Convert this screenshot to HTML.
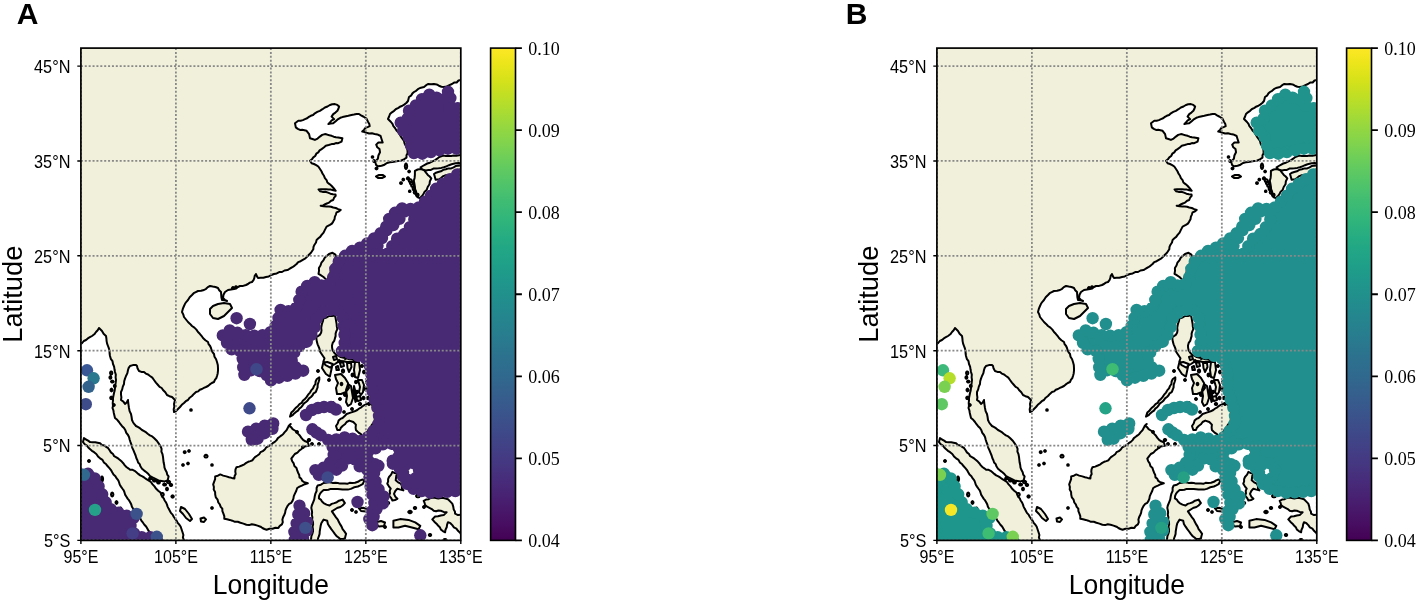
<!DOCTYPE html>
<html><head><meta charset="utf-8"><style>
html,body{margin:0;padding:0;background:#fff;}
svg{display:block;}
.tk{font-family:"Liberation Sans",sans-serif;font-size:17.8px;fill:#000;}
.al{font-family:"Liberation Sans",sans-serif;font-size:28px;fill:#000;}
.cb{font-family:"Liberation Serif",serif;font-size:18px;fill:#000;}
.pl{font-family:"Liberation Sans",sans-serif;font-size:30px;font-weight:bold;fill:#000;}
</style></head><body>
<svg width="1417" height="601" viewBox="0 0 1417 601">
<defs>
<linearGradient id="vir" x1="0" y1="0" x2="0" y2="1"><stop offset="0.000" stop-color="#fde725"/><stop offset="0.031" stop-color="#ece51b"/><stop offset="0.062" stop-color="#d8e219"/><stop offset="0.094" stop-color="#c2df23"/><stop offset="0.125" stop-color="#addc30"/><stop offset="0.156" stop-color="#98d83e"/><stop offset="0.188" stop-color="#84d44b"/><stop offset="0.219" stop-color="#70cf57"/><stop offset="0.250" stop-color="#5ec962"/><stop offset="0.281" stop-color="#4ec36b"/><stop offset="0.312" stop-color="#3fbc73"/><stop offset="0.344" stop-color="#32b67a"/><stop offset="0.375" stop-color="#28ae80"/><stop offset="0.406" stop-color="#22a785"/><stop offset="0.438" stop-color="#1fa088"/><stop offset="0.469" stop-color="#1f988b"/><stop offset="0.500" stop-color="#21918c"/><stop offset="0.531" stop-color="#23898e"/><stop offset="0.562" stop-color="#26828e"/><stop offset="0.594" stop-color="#297a8e"/><stop offset="0.625" stop-color="#2c728e"/><stop offset="0.656" stop-color="#2f6b8e"/><stop offset="0.688" stop-color="#33638d"/><stop offset="0.719" stop-color="#375b8d"/><stop offset="0.750" stop-color="#3b528b"/><stop offset="0.781" stop-color="#3e4989"/><stop offset="0.812" stop-color="#424086"/><stop offset="0.844" stop-color="#453781"/><stop offset="0.875" stop-color="#472d7b"/><stop offset="0.906" stop-color="#482374"/><stop offset="0.938" stop-color="#48186a"/><stop offset="0.969" stop-color="#470d60"/><stop offset="1.000" stop-color="#440154"/></linearGradient>
<clipPath id="mclip"><rect x="80.9" y="48.1" width="379.9" height="492.3"/></clipPath>
</defs>
<text x="16.8" y="23.9" class="pl">A</text>
<text x="845.8" y="23.9" class="pl">B</text>
<g clip-path="url(#mclip)"><rect x="80.9" y="48.1" width="379.9" height="492.3" fill="#fff"/>
<path d="M470.0 40.0 L470.2 42.2 L470.4 44.4 L469.8 46.7 L470.5 48.9 L470.0 51.1 L470.1 53.3 L470.5 55.6 L470.0 57.8 L470.5 60.0 L470.1 62.2 L470.5 64.4 L470.4 66.7 L470.1 68.9 L469.6 71.1 L470.4 73.3 L470.3 75.6 L469.9 77.8 L470.0 80.0 L467.8 79.5 L465.5 79.9 L463.2 80.1 L461.0 80.0 L458.5 80.5 L456.7 82.5 L454.1 82.6 L452.0 84.0 L449.4 85.2 L446.8 86.4 L444.0 87.0 L441.4 86.7 L438.9 85.7 L436.6 84.4 L434.0 84.0 L431.0 84.3 L428.0 84.0 L425.9 85.4 L424.0 87.0 L420.0 88.0 L417.9 89.2 L416.1 90.8 L414.0 92.0 L412.3 93.6 L411.0 95.7 L409.0 97.0 L408.0 101.0 L406.3 103.0 L404.2 104.6 L402.0 106.0 L399.9 106.8 L398.0 108.1 L396.0 109.0 L394.1 110.8 L391.9 112.3 L390.0 114.0 L389.1 116.5 L388.0 119.0 L391.0 122.0 L392.5 123.9 L393.4 126.2 L395.0 128.0 L396.5 130.5 L398.6 132.5 L400.0 135.0 L401.3 137.1 L402.6 139.0 L404.0 141.0 L404.6 143.5 L405.8 145.8 L407.0 148.0 L407.5 150.6 L407.6 153.3 L406.5 155.3 L406.5 157.6 L403.3 159.8 L400.7 160.8 L397.9 160.9 L395.2 161.5 L392.5 162.0 L389.7 162.2 L387.0 163.0 L384.5 164.7 L381.6 165.7 L378.4 166.3 L376.2 165.2 L375.2 162.0 L377.9 158.7 L378.4 155.5 L380.0 152.2 L379.5 149.0 L377.3 147.3 L376.2 144.6 L378.4 142.5 L382.7 142.5 L381.6 139.2 L380.6 136.0 L377.3 134.4 L374.6 133.9 L371.9 133.3 L369.1 133.5 L366.5 132.7 L364.4 132.0 L362.2 131.6 L364.0 129.9 L365.4 127.9 L367.6 127.1 L369.7 126.2 L369.3 123.9 L368.1 121.9 L366.5 118.7 L363.2 116.5 L361.0 115.4 L359.0 114.0 L356.5 114.1 L354.0 114.6 L351.5 115.0 L349.3 115.5 L347.1 116.1 L344.9 116.6 L342.5 117.1 L340.3 117.8 L338.2 119.1 L335.7 121.2 L333.2 123.3 L330.7 123.5 L328.3 124.1 L329.9 122.4 L331.7 120.4 L334.1 119.1 L331.6 116.6 L333.2 114.1 L335.4 112.6 L337.4 110.8 L338.4 108.8 L339.1 106.6 L337.3 104.9 L334.9 104.1 L332.3 104.2 L329.9 105.0 L327.5 106.5 L324.9 107.5 L322.5 109.2 L319.9 110.8 L317.3 111.9 L314.9 113.3 L313.1 115.0 L310.8 115.8 L308.9 116.9 L307.1 118.3 L305.0 119.1 L302.9 120.1 L300.6 120.7 L298.3 120.8 L295.0 123.3 L295.8 127.4 L297.8 128.9 L300.0 129.9 L302.3 129.8 L304.4 130.2 L306.6 130.8 L309.1 134.1 L310.0 138.3 L312.5 139.0 L314.9 139.9 L317.6 138.6 L319.9 136.6 L322.2 134.9 L324.9 134.1 L327.1 134.6 L329.4 135.3 L331.6 135.8 L333.7 136.7 L335.9 137.2 L338.2 137.4 L342.4 138.3 L341.6 141.6 L338.2 143.2 L335.9 143.1 L333.8 144.0 L331.6 144.1 L328.7 145.0 L325.8 145.7 L323.8 147.5 L321.6 149.1 L319.6 150.4 L318.3 152.4 L316.3 153.7 L315.2 156.0 L313.3 157.4 L311.9 159.3 L310.0 160.7 L311.6 163.2 L314.0 164.0 L316.2 165.1 L318.3 166.5 L320.0 169.0 L321.6 171.5 L322.6 173.8 L324.0 175.8 L324.9 178.2 L326.6 180.1 L327.4 182.5 L329.5 184.1 L331.5 185.8 L333.7 188.2 L335.7 190.8 L333.3 190.3 L330.9 189.6 L328.5 189.5 L326.0 189.3 L323.5 189.3 L321.0 189.2 L318.5 189.4 L320.0 191.2 L322.6 191.9 L325.4 191.7 L328.0 192.6 L330.4 193.7 L332.9 194.2 L335.5 194.5 L335.7 195.8 L334.1 197.7 L333.2 200.0 L331.1 200.8 L329.4 202.3 L327.4 203.3 L325.2 204.2 L323.1 205.4 L320.7 205.8 L323.6 206.3 L326.6 206.6 L328.9 206.4 L331.1 206.7 L333.2 207.5 L335.8 208.0 L338.2 209.1 L340.7 210.0 L338.8 211.5 L336.5 212.4 L335.9 214.6 L334.9 216.6 L334.5 219.3 L333.2 221.6 L331.9 223.6 L329.9 224.9 L326.6 226.6 L324.9 229.9 L323.6 232.6 L321.6 234.9 L320.2 236.9 L318.4 238.3 L316.6 239.9 L316.0 242.5 L314.5 244.7 L313.5 246.9 L313.3 249.3 L311.0 252.8 L309.2 254.5 L307.5 256.3 L305.4 258.4 L302.8 259.8 L300.6 261.2 L298.2 262.1 L296.6 264.0 L294.7 265.6 L292.4 267.2 L290.0 268.5 L287.5 270.1 L284.5 270.5 L282.0 272.0 L279.2 272.1 L276.7 273.4 L274.0 274.0 L271.3 275.0 L268.8 276.4 L266.0 277.0 L263.4 277.8 L260.7 277.8 L258.0 278.0 L256.8 276.1 L256.0 274.0 L254.7 275.8 L254.3 278.2 L253.5 280.2 L252.0 282.0 L249.8 282.6 L248.0 284.0 L246.0 285.0 L243.1 285.9 L240.0 286.0 L238.0 287.0 L236.2 288.5 L234.0 289.0 L231.0 289.5 L228.0 290.0 L225.0 292.0 L223.5 294.8 L223.0 298.0 L224.8 299.8 L227.0 301.0 L224.5 300.3 L222.0 300.0 L221.4 297.4 L221.2 294.7 L221.0 292.0 L219.2 290.2 L218.0 288.0 L215.4 287.0 L212.7 286.6 L210.0 286.0 L207.8 287.1 L206.1 288.8 L204.0 290.0 L201.1 290.8 L198.0 291.0 L195.8 292.1 L193.7 293.2 L192.0 295.0 L189.7 297.3 L188.0 300.0 L186.4 301.8 L185.0 303.8 L184.0 306.0 L182.8 308.9 L182.0 312.0 L183.3 314.4 L184.0 317.0 L186.0 319.5 L188.0 322.0 L190.1 323.9 L192.0 326.0 L194.4 327.6 L196.4 329.6 L198.0 332.0 L199.8 333.8 L201.5 335.8 L203.0 338.0 L205.4 340.2 L208.0 342.0 L208.6 344.2 L210.1 346.0 L211.0 348.0 L211.6 350.2 L212.5 352.2 L214.0 354.0 L214.5 356.8 L216.1 359.3 L217.0 362.0 L217.8 364.9 L218.0 368.0 L218.0 370.7 L217.7 373.4 L217.0 376.0 L216.3 378.1 L214.9 379.9 L214.0 382.0 L211.8 383.0 L209.8 384.4 L208.0 386.0 L206.0 387.0 L203.9 387.9 L202.0 389.0 L199.8 389.7 L198.2 391.4 L196.0 392.0 L193.9 393.9 L192.0 396.0 L189.7 397.7 L188.0 400.0 L185.8 401.2 L184.0 403.0 L181.8 404.8 L180.0 407.0 L178.0 409.0 L176.0 411.0 L174.0 412.0 L173.7 409.3 L174.3 406.7 L174.0 404.0 L175.0 400.0 L172.0 397.0 L169.4 396.2 L167.0 395.0 L165.3 392.3 L163.0 390.0 L161.7 388.0 L159.6 386.8 L158.0 385.0 L155.9 382.6 L154.0 380.0 L152.3 377.6 L150.0 376.0 L148.1 374.5 L145.8 373.6 L144.0 372.0 L141.4 371.9 L139.0 371.0 L137.6 368.6 L137.0 366.0 L136.0 365.0 L132.9 365.1 L130.0 366.0 L128.7 367.9 L128.0 370.0 L127.4 373.1 L126.0 376.0 L125.0 378.6 L124.2 381.2 L124.0 384.0 L122.8 386.6 L122.2 389.4 L121.0 392.0 L121.0 394.7 L121.4 397.3 L121.0 400.0 L123.4 401.6 L125.0 404.0 L126.9 402.3 L128.0 400.0 L128.2 402.7 L128.6 405.3 L129.0 408.0 L129.6 411.1 L131.0 414.0 L131.6 417.0 L132.0 420.0 L133.0 422.2 L134.4 424.2 L136.0 426.0 L138.2 427.1 L140.2 428.4 L142.0 430.0 L144.1 431.1 L146.2 432.4 L148.0 434.0 L149.9 435.4 L152.2 436.4 L154.0 438.0 L157.0 441.0 L158.8 443.6 L160.5 446.2 L161.6 448.8 L161.4 451.6 L162.5 454.2 L163.0 456.9 L163.3 459.6 L163.6 462.3 L164.2 465.0 L164.5 467.7 L165.6 470.3 L166.7 472.3 L167.2 474.6 L168.6 476.4 L167.6 480.4 L164.6 481.4 L161.6 480.9 L158.5 480.4 L156.5 479.4 L154.5 478.4 L152.5 477.4 L150.1 476.1 L148.4 474.1 L146.4 472.3 L144.2 470.6 L142.0 468.7 L140.4 466.3 L139.7 464.1 L138.1 462.5 L137.4 460.3 L136.4 458.3 L135.6 455.5 L134.5 452.9 L133.4 450.2 L132.2 447.6 L131.5 444.8 L130.5 442.1 L129.7 439.7 L129.1 437.3 L128.0 435.0 L126.3 432.9 L125.4 430.3 L124.0 428.0 L122.1 426.2 L120.5 424.2 L119.0 422.0 L117.2 419.8 L115.0 418.0 L114.4 415.5 L113.8 413.0 L113.4 410.4 L112.5 408.0 L113.1 405.5 L112.7 403.0 L113.0 400.5 L113.0 398.0 L113.5 395.5 L114.0 393.0 L114.7 390.5 L115.0 388.0 L115.3 385.3 L115.7 382.7 L116.0 380.0 L115.6 377.3 L115.8 374.6 L115.0 372.0 L114.5 369.3 L114.1 366.6 L113.0 364.0 L112.5 361.2 L110.8 358.8 L110.0 356.0 L109.6 353.5 L109.5 350.9 L108.9 348.4 L108.0 346.0 L107.1 343.6 L106.6 341.1 L106.4 338.5 L106.0 336.0 L103.6 333.8 L102.0 331.0 L99.0 328.0 L97.7 330.2 L96.0 332.0 L94.3 334.3 L92.0 336.0 L89.9 337.2 L87.8 338.4 L86.0 340.0 L83.8 341.0 L82.2 343.0 L80.0 344.0 L77.5 343.8 L75.0 343.8 L72.5 344.4 L70.0 344.0 L70.4 341.8 L70.5 339.6 L69.7 337.4 L70.5 335.2 L69.9 333.0 L70.0 330.8 L70.5 328.6 L70.4 326.4 L69.6 324.2 L69.9 322.0 L70.0 319.8 L69.8 317.6 L69.7 315.4 L69.8 313.2 L70.2 311.0 L69.5 308.8 L70.1 306.6 L69.9 304.4 L69.5 302.1 L69.8 299.9 L70.1 297.7 L70.0 295.5 L69.5 293.3 L70.5 291.1 L70.3 288.9 L70.5 286.7 L69.6 284.5 L69.7 282.3 L69.5 280.1 L70.3 277.9 L69.8 275.7 L69.6 273.5 L69.9 271.3 L70.5 269.1 L70.3 266.9 L69.7 264.7 L69.6 262.5 L70.5 260.3 L70.1 258.1 L70.2 255.9 L69.5 253.7 L69.5 251.5 L70.2 249.3 L69.9 247.1 L69.5 244.9 L70.5 242.7 L70.2 240.5 L70.3 238.3 L69.5 236.1 L70.4 233.9 L69.5 231.7 L70.4 229.4 L70.0 227.2 L69.8 225.0 L70.1 222.8 L70.5 220.6 L69.7 218.4 L69.6 216.2 L70.0 214.0 L69.7 211.8 L69.6 209.6 L69.6 207.4 L69.5 205.2 L69.7 203.0 L69.8 200.8 L69.8 198.6 L70.3 196.4 L69.8 194.2 L70.0 192.0 L69.7 189.8 L69.8 187.6 L69.5 185.4 L69.7 183.2 L69.5 181.0 L70.3 178.8 L70.1 176.6 L69.7 174.4 L70.0 172.2 L70.5 170.0 L69.6 167.8 L70.3 165.6 L69.9 163.4 L70.0 161.2 L70.4 159.0 L69.9 156.8 L70.0 154.6 L70.2 152.3 L70.5 150.1 L69.8 147.9 L70.4 145.7 L70.2 143.5 L70.2 141.3 L69.9 139.1 L69.8 136.9 L69.5 134.7 L69.6 132.5 L69.5 130.3 L70.3 128.1 L69.7 125.9 L69.6 123.7 L69.5 121.5 L70.4 119.3 L70.4 117.1 L70.2 114.9 L69.8 112.7 L69.7 110.5 L69.8 108.3 L70.0 106.1 L69.6 103.9 L69.9 101.7 L69.7 99.5 L70.5 97.3 L70.5 95.1 L70.0 92.9 L69.7 90.7 L70.5 88.5 L69.8 86.3 L69.8 84.1 L69.5 81.9 L69.9 79.7 L70.0 77.5 L70.0 75.2 L69.7 73.0 L70.0 70.8 L69.5 68.6 L69.7 66.4 L69.5 64.2 L69.9 62.0 L69.5 59.8 L69.5 57.6 L69.8 55.4 L69.7 53.2 L70.1 51.0 L70.0 48.8 L70.3 46.6 L70.2 44.4 L70.2 42.2 L70.0 40.0 L72.2 40.4 L74.4 39.9 L76.6 39.8 L78.8 40.5 L81.0 39.6 L83.3 40.2 L85.5 40.2 L87.7 39.5 L89.9 40.4 L92.1 40.4 L94.3 40.1 L96.5 40.3 L98.7 40.3 L100.9 39.6 L103.2 40.0 L105.4 40.0 L107.6 40.4 L109.8 40.3 L112.0 40.4 L114.2 40.1 L116.4 40.4 L118.6 40.2 L120.8 40.2 L123.0 39.7 L125.2 39.5 L127.5 39.6 L129.7 39.9 L131.9 39.6 L134.1 40.4 L136.3 40.1 L138.5 40.1 L140.7 40.1 L142.9 40.2 L145.1 40.0 L147.3 39.5 L149.6 40.3 L151.8 40.3 L154.0 40.0 L156.2 40.0 L158.4 40.2 L160.6 39.5 L162.8 40.3 L165.0 39.7 L167.2 39.5 L169.4 39.7 L171.7 40.2 L173.9 39.7 L176.1 40.3 L178.3 40.5 L180.5 40.0 L182.7 39.9 L184.9 40.0 L187.1 40.2 L189.3 40.3 L191.6 40.1 L193.8 40.2 L196.0 39.5 L198.2 39.6 L200.4 39.7 L202.6 40.3 L204.8 39.8 L207.0 40.1 L209.2 39.5 L211.4 39.5 L213.7 39.8 L215.9 40.2 L218.1 40.2 L220.3 40.2 L222.5 39.8 L224.7 40.0 L226.9 40.0 L229.1 40.0 L231.3 39.6 L233.5 40.4 L235.8 39.7 L238.0 40.5 L240.2 40.5 L242.4 39.5 L244.6 40.0 L246.8 40.4 L249.0 40.5 L251.2 39.9 L253.4 39.8 L255.6 39.7 L257.9 40.5 L260.1 39.7 L262.3 40.1 L264.5 39.6 L266.7 40.0 L268.9 40.5 L271.1 39.6 L273.3 40.4 L275.5 40.0 L277.7 40.4 L279.9 40.2 L282.1 39.7 L284.4 40.4 L286.6 40.0 L288.8 39.5 L291.0 39.5 L293.2 40.0 L295.4 40.0 L297.6 39.8 L299.8 39.6 L302.0 39.8 L304.2 39.8 L306.5 40.4 L308.7 39.5 L310.9 40.3 L313.1 40.4 L315.3 39.6 L317.5 40.5 L319.7 40.2 L321.9 40.4 L324.1 39.8 L326.4 39.9 L328.6 39.9 L330.8 40.5 L333.0 40.1 L335.2 39.9 L337.4 39.9 L339.6 39.8 L341.8 39.5 L344.0 39.6 L346.2 40.4 L348.4 39.8 L350.7 40.5 L352.9 39.7 L355.1 39.7 L357.3 40.0 L359.5 39.7 L361.7 39.9 L363.9 40.5 L366.1 40.4 L368.3 40.3 L370.6 40.1 L372.8 40.5 L375.0 40.5 L377.2 40.0 L379.4 40.2 L381.6 39.5 L383.8 40.3 L386.0 40.0 L388.2 40.3 L390.4 40.2 L392.6 39.8 L394.9 39.5 L397.1 40.5 L399.3 39.6 L401.5 40.0 L403.7 39.8 L405.9 39.8 L408.1 40.3 L410.3 40.5 L412.5 39.7 L414.8 40.2 L417.0 39.8 L419.2 40.1 L421.4 39.9 L423.6 39.6 L425.8 39.6 L428.0 39.7 L430.2 40.5 L432.4 40.0 L434.6 39.7 L436.9 40.5 L439.1 40.5 L441.3 39.9 L443.5 39.6 L445.7 39.7 L447.9 39.5 L450.1 39.8 L452.3 39.5 L454.5 39.7 L456.7 39.7 L458.9 40.1 L461.2 40.4 L463.4 40.3 L465.6 39.9 L467.8 39.9 Z M84.0 438.1 L86.0 439.5 L88.1 440.6 L90.1 442.1 L92.6 442.2 L95.2 442.2 L97.6 442.7 L100.1 443.2 L101.8 444.9 L104.4 445.4 L106.2 446.9 L108.2 448.2 L109.6 450.3 L110.9 452.4 L113.0 454.0 L114.2 456.2 L116.4 457.4 L118.4 458.7 L120.3 460.3 L122.0 461.8 L123.5 463.5 L124.8 465.4 L126.4 467.0 L128.3 468.3 L130.1 469.7 L132.6 469.8 L134.6 470.8 L136.4 472.3 L138.3 473.9 L140.2 475.4 L142.4 476.4 L144.4 477.7 L146.4 479.1 L148.5 480.4 L150.9 482.0 L152.6 484.3 L154.5 486.4 L156.2 488.8 L158.2 490.7 L160.5 492.5 L161.2 494.7 L162.1 496.7 L163.8 498.4 L164.6 500.5 L166.0 502.3 L166.9 504.4 L167.6 506.6 L168.6 508.6 L169.8 510.7 L170.9 512.9 L172.6 514.6 L173.7 516.8 L175.1 518.8 L176.6 520.7 L177.7 522.9 L179.4 524.7 L180.7 526.7 L181.7 529.7 L182.7 532.7 L183.4 535.0 L182.9 537.4 L183.7 539.6 L183.7 542.0 L183.2 545.0 L183.7 548.0 L181.4 547.8 L179.2 548.2 L177.0 548.4 L174.7 548.3 L172.5 547.9 L170.2 547.8 L168.0 548.4 L165.7 548.5 L163.5 548.0 L161.2 547.9 L159.0 548.1 L156.8 548.3 L154.5 548.0 L154.6 545.6 L154.0 543.2 L154.5 540.8 L153.3 538.9 L152.5 536.8 L151.1 534.8 L150.3 532.5 L148.5 530.7 L147.3 528.6 L146.1 526.5 L144.4 524.7 L143.0 522.7 L141.5 520.9 L140.4 518.7 L138.7 516.8 L137.8 514.4 L136.1 512.5 L134.4 510.6 L133.2 508.7 L131.9 506.8 L131.3 504.5 L130.3 502.5 L129.1 500.4 L127.6 498.6 L126.3 496.5 L125.1 494.6 L124.5 492.4 L123.7 490.3 L122.3 488.5 L121.0 486.6 L119.8 484.7 L119.1 482.5 L118.3 480.4 L116.7 478.4 L115.4 476.2 L113.5 474.5 L112.2 472.3 L111.0 470.1 L109.4 468.1 L107.7 466.3 L106.2 464.3 L103.9 462.5 L102.5 459.9 L100.1 458.3 L98.0 456.4 L96.3 454.0 L94.1 452.2 L91.9 450.8 L89.9 449.1 L88.1 447.2 L86.6 445.3 L84.5 444.0 L83.0 442.1 Z M290.7 424.0 L288.8 425.7 L287.7 428.1 L286.5 430.3 L284.7 432.1 L283.3 433.9 L281.5 435.4 L279.7 436.8 L277.9 438.1 L276.6 440.1 L274.8 441.9 L272.7 443.2 L270.8 444.9 L268.6 446.2 L266.3 447.3 L264.8 449.5 L262.8 451.1 L260.5 452.2 L259.2 454.2 L257.4 455.5 L255.4 456.8 L253.8 458.4 L252.5 460.3 L250.4 461.1 L248.2 461.8 L246.2 462.9 L244.4 464.3 L241.8 465.5 L239.2 466.6 L236.4 467.3 L235.5 469.4 L235.3 471.7 L235.7 474.1 L234.6 476.1 L234.4 478.4 L231.7 477.9 L229.0 477.2 L226.3 476.4 L223.2 475.6 L220.3 474.4 L217.9 475.7 L215.2 476.4 L215.1 479.2 L214.1 481.8 L213.2 484.4 L213.9 486.9 L213.7 489.6 L215.1 491.9 L215.2 494.5 L215.8 497.4 L217.6 499.7 L218.3 502.5 L219.8 504.4 L220.7 506.8 L222.3 508.6 L222.4 511.2 L223.4 513.6 L224.3 516.1 L224.3 518.7 L227.0 519.3 L229.7 519.9 L232.3 520.7 L234.9 521.8 L237.8 521.7 L240.4 522.7 L243.4 523.6 L246.4 524.7 L249.1 525.1 L251.8 524.2 L254.5 524.7 L257.5 525.6 L260.5 526.7 L262.4 528.0 L264.4 529.0 L266.6 529.7 L269.5 528.7 L272.6 528.7 L275.4 527.8 L278.4 527.9 L279.8 525.8 L281.9 524.4 L282.8 522.1 L282.4 519.6 L283.1 517.3 L284.2 515.0 L285.1 512.8 L285.5 510.3 L286.5 507.9 L287.8 505.6 L289.2 503.9 L291.3 502.8 L292.5 500.9 L293.4 498.6 L293.8 496.1 L294.8 493.9 L296.2 491.0 L297.2 488.0 L299.5 486.6 L301.9 485.6 L304.8 484.2 L307.8 483.3 L304.2 482.1 L302.2 480.9 L301.3 478.8 L299.5 477.4 L299.2 474.9 L298.1 472.7 L297.2 470.4 L296.5 467.9 L294.4 466.0 L293.7 463.4 L292.2 461.2 L291.3 458.7 L293.0 456.3 L294.8 454.0 L297.5 452.6 L299.5 450.4 L301.6 449.0 L303.1 446.9 L306.0 446.2 L308.9 445.8 L307.8 442.2 L305.3 441.3 L303.1 439.9 L301.2 437.6 L299.5 435.2 L297.9 433.6 L296.7 431.7 L294.8 430.5 L292.6 429.2 L291.1 427.1 L289.0 425.8 Z M318.5 273.8 L319.0 270.9 L318.9 268.0 L320.5 265.5 L321.4 262.7 L323.4 260.3 L324.9 257.5 L327.0 255.8 L329.0 254.0 L332.5 252.8 L335.4 254.6 L336.0 256.9 L335.4 259.1 L334.6 261.2 L333.7 263.3 L332.9 265.7 L331.5 267.9 L330.8 270.3 L330.4 272.8 L329.5 275.1 L328.4 277.3 L327.6 279.9 L327.5 282.8 L326.7 285.4 L325.5 284.8 L325.3 282.1 L326.1 279.6 L323.8 277.3 L320.3 274.9 Z M210.0 309.0 L213.0 306.0 L218.0 304.0 L224.0 303.0 L230.0 304.0 L232.0 308.0 L228.0 312.0 L224.0 316.0 L218.0 319.0 L213.0 318.0 L210.0 314.0 Z M376.0 176.5 L379.0 175.0 L383.0 175.0 L385.0 176.5 L382.0 178.0 L378.0 178.0 Z M414.9 170.9 L417.7 169.5 L420.8 169.1 L424.3 170.3 L426.0 172.6 L427.8 174.9 L429.7 176.5 L431.3 178.4 L429.9 181.2 L429.5 184.3 L427.7 187.0 L426.6 190.1 L424.4 192.1 L423.1 194.7 L421.5 196.6 L419.6 198.2 L417.3 197.1 L416.2 194.3 L416.1 191.3 L415.1 189.1 L414.9 186.6 L414.4 183.7 L413.8 180.8 L414.6 177.9 L414.9 174.9 Z M420.6 167.3 L422.7 166.0 L424.8 164.8 L427.2 163.5 L429.9 162.7 L432.5 161.3 L435.1 160.1 L437.2 158.7 L439.2 157.0 L443.3 155.5 L445.9 155.9 L448.5 156.0 L451.1 156.0 L453.6 155.5 L456.4 155.7 L459.1 155.3 L461.9 155.0 L463.7 153.4 L466.1 152.8 L467.9 151.1 L470.0 150.0 L469.9 152.3 L470.1 154.6 L469.7 156.8 L470.3 159.1 L470.3 161.4 L470.0 163.7 L467.3 164.0 L464.6 164.1 L461.9 163.7 L458.8 163.0 L455.7 163.2 L451.6 164.2 L449.0 165.2 L446.4 166.3 L443.9 167.3 L441.3 167.9 L438.7 168.3 L436.1 168.4 L433.4 168.6 L430.9 169.9 L428.4 170.1 L425.8 170.4 L422.2 169.4 Z M434.0 174.0 L436.0 172.7 L438.2 172.0 L440.9 171.3 L443.3 169.9 L445.9 169.3 L448.5 168.4 L451.2 168.4 L453.6 167.3 L455.6 166.1 L457.8 165.8 L461.9 165.3 L464.6 165.2 L467.3 165.4 L470.0 165.0 L469.6 167.2 L469.5 169.5 L470.5 171.8 L470.0 174.0 L467.3 174.2 L464.6 174.4 L461.9 174.0 L459.7 174.5 L457.4 173.8 L455.2 174.5 L452.9 174.3 L450.7 175.1 L448.5 175.1 L445.8 175.2 L443.3 176.1 L441.3 177.7 L439.2 179.2 L435.6 179.7 L434.6 176.1 Z M323.3 318.6 L323.0 321.0 L322.1 323.3 L321.6 325.6 L321.2 327.9 L321.5 330.3 L321.1 332.8 L319.8 334.9 L316.3 337.3 L316.5 339.6 L316.9 341.9 L317.6 344.3 L318.6 346.6 L319.5 348.8 L319.8 351.2 L322.1 354.7 L324.5 358.2 L323.3 361.7 L325.6 365.2 L328.0 366.3 L330.3 367.6 L332.4 365.5 L335.0 364.0 L337.8 362.2 L340.8 361.0 L343.8 361.2 L346.6 362.0 L349.5 362.1 L352.4 362.0 L354.8 362.0 L357.1 361.7 L354.6 360.8 L352.4 359.4 L349.4 359.3 L346.6 358.2 L343.7 357.8 L340.8 357.1 L338.9 355.8 L336.7 355.1 L334.9 353.6 L332.6 350.1 L332.1 347.8 L332.0 345.4 L332.7 342.9 L334.2 340.9 L334.9 338.4 L335.6 336.1 L335.6 333.6 L336.3 331.3 L337.3 329.1 L336.8 326.4 L336.6 323.7 L336.1 321.0 L335.6 318.0 L334.9 315.1 L332.0 316.0 L329.0 316.0 L326.3 317.6 Z M323.3 362.5 L327.3 362.0 L332.6 364.0 L331.3 370.0 L329.9 376.6 L325.9 374.0 L322.0 368.0 Z M291.3 412.6 L293.1 411.1 L294.6 409.2 L296.2 407.4 L298.0 405.9 L299.5 404.1 L301.6 402.9 L302.8 400.8 L304.6 399.3 L306.5 397.1 L308.1 394.7 L310.0 392.6 L311.2 390.4 L313.0 388.4 L314.0 386.0 L315.4 384.0 L315.6 381.5 L316.6 379.3 L319.3 377.3 L319.3 379.7 L318.6 382.0 L317.7 384.6 L317.6 387.4 L316.6 390.0 L315.7 392.1 L313.6 393.3 L312.6 395.3 L311.0 397.0 L309.1 398.4 L307.7 400.4 L306.0 402.0 L304.0 403.4 L302.7 405.3 L301.2 407.2 L299.3 408.6 L298.0 410.6 L296.0 411.9 L294.2 413.4 L292.7 415.2 L290.0 416.6 Z M335.0 375.0 L341.0 374.0 L345.0 378.0 L348.0 383.0 L349.0 388.0 L346.0 392.0 L341.0 394.0 L337.0 394.0 L336.0 388.0 L338.0 383.0 L336.0 379.0 Z M348.0 384.0 L351.0 386.0 L352.0 392.0 L353.0 398.0 L351.0 404.0 L348.0 406.0 L346.0 402.0 L347.0 396.0 L346.0 390.0 Z M354.0 386.0 L355.0 390.0 L356.0 395.0 L357.0 400.0 L355.5 402.0 L354.5 397.0 L353.5 392.0 Z M356.0 397.0 L360.0 396.0 L361.0 400.0 L358.0 401.0 L356.5 399.5 Z M358.0 380.0 L362.0 380.0 L364.0 385.0 L363.0 392.0 L361.0 395.0 L359.0 392.0 L360.0 387.0 Z M355.0 362.0 L359.0 362.0 L360.0 370.0 L358.0 378.0 L355.0 377.0 L354.0 370.0 Z M347.0 363.0 L351.0 363.0 L351.5 367.0 L349.0 372.0 L347.5 368.0 Z M340.0 363.0 L343.0 362.0 L344.0 366.0 L341.0 367.0 Z M336.0 367.0 L338.0 366.0 L339.0 370.0 L336.5 370.0 Z M344.0 356.0 L347.0 355.0 L348.0 358.0 L345.0 359.0 Z M333.0 357.0 L336.0 356.0 L337.0 359.0 L334.0 360.0 Z M337.3 430.0 L336.0 426.0 L337.7 423.5 L338.6 420.6 L340.4 418.9 L342.6 418.0 L344.7 416.1 L346.6 414.0 L350.6 412.6 L354.6 411.3 L357.3 410.0 L359.2 408.5 L361.3 407.3 L363.9 405.3 L365.9 404.3 L367.9 403.3 L371.9 404.6 L373.6 407.1 L374.6 410.0 L375.3 412.1 L375.4 414.4 L375.9 416.6 L374.8 419.2 L374.6 422.0 L371.9 424.6 L371.0 426.8 L369.3 428.6 L368.0 430.8 L366.4 432.9 L365.3 435.3 L362.6 436.6 L361.0 434.2 L358.6 432.6 L355.9 430.0 L355.6 427.3 L355.9 424.6 L353.3 422.0 L349.3 420.6 L346.6 422.0 L344.9 424.3 L342.6 426.0 L340.9 427.7 L340.0 430.0 Z M317.7 485.4 L320.9 484.7 L323.6 483.0 L326.0 482.8 L328.3 482.1 L330.7 482.4 L333.0 483.1 L335.4 482.7 L337.8 483.0 L340.1 483.6 L342.5 483.5 L344.9 483.6 L347.3 483.8 L349.6 482.8 L352.0 483.0 L355.0 482.7 L357.9 481.8 L360.1 480.4 L362.6 479.5 L364.4 480.6 L362.6 484.2 L360.3 485.4 L357.9 486.5 L355.4 486.9 L353.1 487.8 L350.8 488.9 L347.9 489.6 L344.9 489.5 L342.5 489.6 L340.2 489.2 L337.8 488.9 L335.4 488.9 L333.1 489.0 L330.7 488.9 L328.4 489.7 L326.0 490.0 L323.6 490.1 L321.7 491.7 L320.1 493.6 L319.1 495.9 L318.9 498.4 L320.8 499.6 L322.0 501.6 L323.6 503.1 L326.5 504.6 L329.6 505.5 L331.7 503.9 L334.3 503.1 L336.8 502.2 L339.0 500.7 L342.6 499.6 L344.9 503.1 L342.6 505.5 L340.4 507.0 L337.8 507.7 L335.5 509.0 L331.9 511.4 L334.3 514.9 L336.0 517.3 L337.8 519.6 L338.9 522.1 L340.2 524.4 L341.6 526.6 L342.6 529.1 L344.4 531.4 L346.1 533.8 L345.4 536.2 L344.9 538.6 L342.6 538.9 L340.2 539.1 L338.5 537.5 L336.6 536.2 L334.8 533.9 L333.1 531.5 L331.3 529.1 L329.6 526.7 L327.9 524.0 L327.2 520.8 L323.6 519.6 L321.3 523.2 L320.6 526.1 L320.1 529.1 L319.7 531.5 L319.6 533.9 L318.9 536.2 L318.0 538.5 L317.7 541.0 L317.4 543.3 L317.8 545.7 L317.7 548.0 L315.3 548.4 L313.0 548.0 L310.6 548.0 L310.2 545.7 L310.2 543.3 L310.6 541.0 L311.1 538.6 L311.4 536.1 L312.3 533.9 L313.0 531.5 L313.0 529.1 L312.5 526.8 L313.1 524.4 L313.0 522.0 L312.1 519.7 L312.4 517.2 L311.8 514.9 L312.1 512.5 L311.8 510.2 L311.3 507.9 L311.8 505.5 L313.0 502.6 L314.2 499.6 L314.7 496.6 L315.4 493.6 L316.6 491.0 L316.6 488.0 Z M359.0 508.5 L363.0 507.8 L368.5 509.5 L366.0 511.4 L361.0 511.0 Z M392.4 471.9 L394.8 473.1 L397.4 473.6 L396.3 475.7 L396.0 478.0 L395.7 480.3 L398.1 482.3 L400.8 483.7 L401.9 485.8 L402.0 488.4 L403.3 490.4 L400.4 489.6 L397.4 488.7 L395.3 491.0 L394.0 493.8 L395.3 496.6 L397.4 498.8 L395.0 500.0 L392.4 500.5 L391.0 497.8 L389.0 495.5 L390.0 493.4 L389.7 490.9 L390.7 488.7 L388.9 486.3 L387.3 483.7 L388.1 481.5 L388.1 479.1 L389.0 477.0 L391.1 474.7 Z M423.7 500.8 L426.0 499.6 L428.6 499.2 L430.8 497.9 L433.3 497.5 L435.8 497.9 L438.3 498.4 L440.8 497.9 L443.3 498.1 L445.6 498.6 L448.0 499.3 L450.1 501.4 L452.3 503.6 L453.2 506.4 L453.7 509.4 L454.9 511.4 L455.1 513.7 L458.0 515.1 L460.7 514.8 L463.3 514.7 L466.0 515.1 L465.5 517.4 L465.8 519.6 L465.6 521.9 L466.4 524.1 L465.7 526.4 L466.4 528.7 L466.0 531.0 L465.9 533.2 L466.1 535.5 L465.6 537.7 L466.0 540.0 L464.1 537.5 L462.0 535.1 L460.1 532.9 L458.0 530.8 L456.4 528.6 L453.9 527.3 L452.3 525.1 L450.4 523.2 L448.0 522.2 L447.1 524.7 L446.7 527.3 L445.5 529.7 L445.1 532.3 L442.8 531.1 L440.8 529.4 L439.8 527.2 L438.0 525.5 L436.5 523.7 L434.3 521.7 L432.3 519.4 L435.1 516.5 L438.0 516.3 L440.8 515.5 L443.7 515.1 L446.6 512.2 L443.6 511.9 L440.8 510.8 L438.4 510.5 L436.1 511.3 L433.7 510.8 L431.8 509.1 L429.4 507.9 L427.1 506.7 L425.1 505.1 L424.6 502.9 Z M393.4 520.8 L400.1 519.1 L408.5 519.9 L415.2 522.4 L420.3 525.8 L418.6 529.2 L411.9 527.5 L405.1 525.8 L398.4 527.5 L393.4 527.5 Z M377.0 522.0 L381.0 521.0 L385.0 522.5 L384.0 526.0 L379.0 526.5 L376.5 524.5 Z M181.0 507.0 L185.0 509.0 L189.0 514.0 L192.0 519.0 L190.0 521.0 L186.0 518.0 L183.0 514.0 L180.0 511.0 Z M200.5 518.5 L204.0 517.5 L206.0 519.5 L204.0 522.0 L201.0 521.5 Z M112.4 373.0 L112.0 374.1 L111.2 374.6 L110.4 374.1 L110.0 373.0 L110.4 371.9 L111.2 371.4 L112.0 371.9 Z M111.4 377.5 L111.1 378.4 L110.4 378.8 L109.7 378.4 L109.4 377.5 L109.7 376.6 L110.4 376.2 L111.1 376.6 Z M113.6 381.6 L113.2 382.3 L112.3 382.6 L111.4 382.3 L111.0 381.6 L111.4 380.9 L112.3 380.6 L113.2 380.9 Z M115.8 386.0 L115.5 386.8 L114.8 387.2 L114.1 386.8 L113.8 386.0 L114.1 385.2 L114.8 384.8 L115.5 385.2 Z M112.5 390.0 L112.2 391.0 L111.5 391.4 L110.8 391.0 L110.5 390.0 L110.8 389.0 L111.5 388.6 L112.2 389.0 Z M112.2 397.9 L111.9 398.8 L111.2 399.2 L110.5 398.8 L110.2 397.9 L110.5 397.0 L111.2 396.6 L111.9 397.0 Z M114.8 405.0 L114.5 405.7 L113.8 406.0 L113.1 405.7 L112.8 405.0 L113.1 404.3 L113.8 404.0 L114.5 404.3 Z M151.9 478.4 L151.5 479.1 L150.5 479.4 L149.5 479.1 L149.1 478.4 L149.5 477.7 L150.5 477.4 L151.5 477.7 Z M156.1 480.4 L155.6 481.2 L154.5 481.6 L153.4 481.2 L152.9 480.4 L153.4 479.6 L154.5 479.2 L155.6 479.6 Z M159.9 482.4 L159.5 483.2 L158.5 483.6 L157.5 483.2 L157.1 482.4 L157.5 481.6 L158.5 481.2 L159.5 481.6 Z M166.1 484.6 L165.7 485.3 L164.6 485.6 L163.5 485.3 L163.1 484.6 L163.5 483.9 L164.6 483.6 L165.7 483.9 Z M170.2 482.0 L169.7 482.8 L168.6 483.2 L167.5 482.8 L167.0 482.0 L167.5 481.2 L168.6 480.8 L169.7 481.2 Z M172.2 485.0 L171.8 485.7 L171.0 486.0 L170.2 485.7 L169.8 485.0 L170.2 484.3 L171.0 484.0 L171.8 484.3 Z M163.8 494.5 L163.4 495.6 L162.5 496.1 L161.6 495.6 L161.2 494.5 L161.6 493.4 L162.5 492.9 L163.4 493.4 Z M173.8 496.5 L173.4 497.3 L172.6 497.7 L171.8 497.3 L171.4 496.5 L171.8 495.7 L172.6 495.3 L173.4 495.7 Z M168.0 489.0 L167.7 489.9 L167.0 490.3 L166.3 489.9 L166.0 489.0 L166.3 488.1 L167.0 487.7 L167.7 488.1 Z M185.7 452.2 L185.4 452.9 L184.7 453.2 L184.0 452.9 L183.7 452.2 L184.0 451.5 L184.7 451.2 L185.4 451.5 Z M189.9 451.0 L189.6 451.6 L189.0 451.9 L188.4 451.6 L188.1 451.0 L188.4 450.4 L189.0 450.1 L189.6 450.4 Z M207.6 456.2 L207.1 457.2 L206.0 457.6 L204.9 457.2 L204.4 456.2 L204.9 455.2 L206.0 454.8 L207.1 455.2 Z M183.9 465.0 L183.6 465.6 L183.0 465.9 L182.4 465.6 L182.1 465.0 L182.4 464.4 L183.0 464.1 L183.6 464.4 Z M188.9 463.5 L188.6 464.1 L188.0 464.4 L187.4 464.1 L187.1 463.5 L187.4 462.9 L188.0 462.6 L188.6 462.9 Z M212.8 465.0 L212.6 465.6 L212.0 465.8 L211.4 465.6 L211.2 465.0 L211.4 464.4 L212.0 464.2 L212.6 464.4 Z M191.8 410.0 L191.6 410.6 L191.0 410.8 L190.4 410.6 L190.2 410.0 L190.4 409.4 L191.0 409.2 L191.6 409.4 Z M212.9 508.0 L212.6 508.6 L212.0 508.9 L211.4 508.6 L211.1 508.0 L211.4 507.4 L212.0 507.1 L212.6 507.4 Z M103.1 479.0 L102.8 480.8 L102.0 481.6 L101.2 480.8 L100.9 479.0 L101.2 477.2 L102.0 476.4 L102.8 477.2 Z M113.4 494.5 L113.0 495.9 L112.2 496.5 L111.4 495.9 L111.0 494.5 L111.4 493.1 L112.2 492.5 L113.0 493.1 Z M117.5 502.5 L117.2 503.5 L116.5 503.9 L115.8 503.5 L115.5 502.5 L115.8 501.5 L116.5 501.1 L117.2 501.5 Z M121.5 508.6 L121.2 509.4 L120.5 509.8 L119.8 509.4 L119.5 508.6 L119.8 507.8 L120.5 507.4 L121.2 507.8 Z M90.0 461.0 L89.7 461.7 L89.0 462.0 L88.3 461.7 L88.0 461.0 L88.3 460.3 L89.0 460.0 L89.7 460.3 Z M375.0 161.0 L374.7 161.7 L374.0 162.0 L373.3 161.7 L373.0 161.0 L373.3 160.3 L374.0 160.0 L374.7 160.3 Z M377.5 168.5 L377.2 169.1 L376.5 169.4 L375.8 169.1 L375.5 168.5 L375.8 167.9 L376.5 167.6 L377.2 167.9 Z M373.3 157.0 L373.1 157.6 L372.5 157.8 L371.9 157.6 L371.7 157.0 L371.9 156.4 L372.5 156.2 L373.1 156.4 Z M407.2 166.2 L406.8 168.2 L406.0 169.0 L405.2 168.2 L404.8 166.2 L405.2 164.2 L406.0 163.4 L406.8 164.2 Z M409.2 178.4 L408.8 179.2 L408.0 179.6 L407.2 179.2 L406.8 178.4 L407.2 177.6 L408.0 177.2 L408.8 177.6 Z M411.8 180.8 L411.4 181.9 L410.3 182.3 L409.2 181.9 L408.8 180.8 L409.2 179.7 L410.3 179.3 L411.4 179.7 Z M412.9 183.1 L412.5 184.2 L411.4 184.6 L410.3 184.2 L409.9 183.1 L410.3 182.0 L411.4 181.6 L412.5 182.0 Z M414.2 185.4 L413.7 186.5 L412.6 187.0 L411.5 186.5 L411.0 185.4 L411.5 184.3 L412.6 183.8 L413.7 184.3 Z M415.0 188.9 L414.6 190.0 L413.8 190.5 L413.0 190.0 L412.6 188.9 L413.0 187.8 L413.8 187.3 L414.6 187.8 Z M416.1 192.4 L415.7 193.4 L414.9 193.8 L414.1 193.4 L413.7 192.4 L414.1 191.4 L414.9 191.0 L415.7 191.4 Z M418.7 195.0 L418.3 196.0 L417.3 196.4 L416.3 196.0 L415.9 195.0 L416.3 194.0 L417.3 193.6 L418.3 194.0 Z M402.0 183.1 L401.7 183.7 L401.0 184.0 L400.3 183.7 L400.0 183.1 L400.3 182.5 L401.0 182.2 L401.7 182.5 Z M404.2 179.6 L403.9 180.2 L403.3 180.5 L402.7 180.2 L402.4 179.6 L402.7 179.0 L403.3 178.7 L403.9 179.0 Z M410.0 171.5 L409.7 172.1 L409.1 172.4 L408.5 172.1 L408.2 171.5 L408.5 170.9 L409.1 170.6 L409.7 170.9 Z M410.5 191.3 L410.3 191.9 L409.7 192.1 L409.1 191.9 L408.9 191.3 L409.1 190.7 L409.7 190.5 L410.3 190.7 Z M234.0 288.0 L233.7 288.7 L233.0 289.0 L232.3 288.7 L232.0 288.0 L232.3 287.3 L233.0 287.0 L233.7 287.3 Z M236.8 287.0 L236.6 287.6 L236.0 287.8 L235.4 287.6 L235.2 287.0 L235.4 286.4 L236.0 286.2 L236.6 286.4 Z M344.2 371.0 L343.8 372.1 L343.0 372.6 L342.2 372.1 L341.8 371.0 L342.2 369.9 L343.0 369.4 L343.8 369.9 Z M353.5 375.0 L353.2 376.1 L352.5 376.5 L351.8 376.1 L351.5 375.0 L351.8 373.9 L352.5 373.5 L353.2 373.9 Z M357.0 382.0 L356.7 382.8 L356.0 383.2 L355.3 382.8 L355.0 382.0 L355.3 381.2 L356.0 380.8 L356.7 381.2 Z M346.0 395.0 L345.7 395.7 L345.0 396.0 L344.3 395.7 L344.0 395.0 L344.3 394.3 L345.0 394.0 L345.7 394.3 Z M361.2 404.0 L360.8 404.7 L360.0 405.0 L359.2 404.7 L358.8 404.0 L359.2 403.3 L360.0 403.0 L360.8 403.3 Z M364.5 398.0 L364.2 398.9 L363.5 399.3 L362.8 398.9 L362.5 398.0 L362.8 397.1 L363.5 396.7 L364.2 397.1 Z M367.1 389.0 L366.8 390.1 L366.0 390.6 L365.2 390.1 L364.9 389.0 L365.2 387.9 L366.0 387.4 L366.8 387.9 Z M368.0 382.0 L367.7 382.8 L367.0 383.2 L366.3 382.8 L366.0 382.0 L366.3 381.2 L367.0 380.8 L367.7 381.2 Z M365.0 372.0 L364.7 373.0 L364.0 373.4 L363.3 373.0 L363.0 372.0 L363.3 371.0 L364.0 370.6 L364.7 371.0 Z M363.0 366.0 L362.7 366.7 L362.0 367.0 L361.3 366.7 L361.0 366.0 L361.3 365.3 L362.0 365.0 L362.7 365.3 Z M340.0 361.0 L339.7 361.7 L339.0 362.0 L338.3 361.7 L338.0 361.0 L338.3 360.3 L339.0 360.0 L339.7 360.3 Z M351.0 358.0 L350.7 358.7 L350.0 359.0 L349.3 358.7 L349.0 358.0 L349.3 357.3 L350.0 357.0 L350.7 357.3 Z M342.4 384.0 L342.1 384.8 L341.5 385.2 L340.9 384.8 L340.6 384.0 L340.9 383.2 L341.5 382.8 L342.1 383.2 Z M357.9 392.0 L357.6 392.9 L357.0 393.3 L356.4 392.9 L356.1 392.0 L356.4 391.1 L357.0 390.7 L357.6 391.1 Z M371.0 393.0 L370.7 394.0 L370.0 394.4 L369.3 394.0 L369.0 393.0 L369.3 392.0 L370.0 391.6 L370.7 392.0 Z M370.0 404.0 L369.7 404.7 L369.0 405.0 L368.3 404.7 L368.0 404.0 L368.3 403.3 L369.0 403.0 L369.7 403.3 Z M319.0 371.0 L318.7 371.7 L318.0 372.0 L317.3 371.7 L317.0 371.0 L317.3 370.3 L318.0 370.0 L318.7 370.3 Z M330.0 380.0 L329.7 380.7 L329.0 381.0 L328.3 380.7 L328.0 380.0 L328.3 379.3 L329.0 379.0 L329.7 379.3 Z M344.9 412.0 L344.6 412.6 L344.0 412.9 L343.4 412.6 L343.1 412.0 L343.4 411.4 L344.0 411.1 L344.6 411.4 Z M341.0 399.0 L340.7 399.7 L340.0 400.0 L339.3 399.7 L339.0 399.0 L339.3 398.3 L340.0 398.0 L340.7 398.3 Z M333.9 403.0 L333.6 403.6 L333.0 403.9 L332.4 403.6 L332.1 403.0 L332.4 402.4 L333.0 402.1 L333.6 402.4 Z M353.0 409.0 L352.7 409.7 L352.0 410.0 L351.3 409.7 L351.0 409.0 L351.3 408.3 L352.0 408.0 L352.7 408.3 Z M369.0 398.0 L368.7 398.8 L368.0 399.2 L367.3 398.8 L367.0 398.0 L367.3 397.2 L368.0 396.8 L368.7 397.2 Z M310.2 440.0 L309.8 440.7 L309.0 441.0 L308.2 440.7 L307.8 440.0 L308.2 439.3 L309.0 439.0 L309.8 439.3 Z M313.0 444.0 L312.7 444.7 L312.0 445.0 L311.3 444.7 L311.0 444.0 L311.3 443.3 L312.0 443.0 L312.7 443.3 Z M304.0 447.0 L303.7 447.7 L303.0 448.0 L302.3 447.7 L302.0 447.0 L302.3 446.3 L303.0 446.0 L303.7 446.3 Z M298.0 432.0 L297.7 432.7 L297.0 433.0 L296.3 432.7 L296.0 432.0 L296.3 431.3 L297.0 431.0 L297.7 431.3 Z M320.0 444.0 L319.7 444.7 L319.0 445.0 L318.3 444.7 L318.0 444.0 L318.3 443.3 L319.0 443.0 L319.7 443.3 Z M372.5 509.0 L372.1 509.7 L371.0 510.0 L369.9 509.7 L369.5 509.0 L369.9 508.3 L371.0 508.0 L372.1 508.3 Z M386.0 527.0 L385.7 527.7 L385.0 528.0 L384.3 527.7 L384.0 527.0 L384.3 526.3 L385.0 526.0 L385.7 526.3 Z M389.2 503.0 L388.8 503.8 L388.0 504.2 L387.2 503.8 L386.8 503.0 L387.2 502.2 L388.0 501.8 L388.8 502.2 Z M411.8 512.0 L411.3 512.8 L410.0 513.2 L408.7 512.8 L408.2 512.0 L408.7 511.2 L410.0 510.8 L411.3 511.2 Z M416.2 508.0 L415.8 508.7 L415.0 509.0 L414.2 508.7 L413.8 508.0 L414.2 507.3 L415.0 507.0 L415.8 507.3 Z M420.0 496.0 L419.4 497.0 L418.0 497.4 L416.6 497.0 L416.0 496.0 L416.6 495.0 L418.0 494.6 L419.4 495.0 Z M425.0 507.0 L424.7 507.7 L424.0 508.0 L423.3 507.7 L423.0 507.0 L423.3 506.3 L424.0 506.0 L424.7 506.3 Z M431.2 535.0 L430.8 535.7 L430.0 536.0 L429.2 535.7 L428.8 535.0 L429.2 534.3 L430.0 534.0 L430.8 534.3 Z M446.5 540.0 L446.1 540.7 L445.0 541.0 L443.9 540.7 L443.5 540.0 L443.9 539.3 L445.0 539.0 L446.1 539.3 Z M353.0 510.0 L352.7 510.7 L352.0 511.0 L351.3 510.7 L351.0 510.0 L351.3 509.3 L352.0 509.0 L352.7 509.3 Z M356.9 512.0 L356.6 512.6 L356.0 512.9 L355.4 512.6 L355.1 512.0 L355.4 511.4 L356.0 511.1 L356.6 511.4 Z" fill="#f1f0db" stroke="#000" stroke-width="2" stroke-linejoin="round" fill-rule="evenodd"/>
<path d="M400.7 122.6 L400.8 123.1 L400.8 123.3 L401.7 129.2 L403.7 131.2 L406.9 134.4 L407.3 134.8 L407.7 135.3 L408.0 135.8 L410.2 140.2 L410.3 140.6 L410.5 141.1 L410.6 141.5 L410.7 142.0 L411.5 151.2 L411.9 151.6 L414.7 153.5 L420.2 154.1 L428.2 152.7 L435.4 150.6 L435.9 150.5 L436.4 150.4 L443.5 149.8 L449.1 148.4 L449.7 148.2 L450.3 148.2 L450.8 148.2 L462.8 149.2 L462.8 108.7 L452.9 107.7 L452.4 107.6 L451.9 107.5 L451.4 107.3 L450.9 107.1 L450.5 106.8 L450.1 106.5 L449.7 106.2 L449.4 105.8 L449.1 105.4 L448.8 105.0 L448.6 104.5 L448.4 104.0 L448.3 103.6 L448.2 103.1 L448.2 102.5 L448.2 102.0 L448.3 101.5 L448.4 101.1 L448.6 100.6 L448.8 100.1 L449.0 99.7 L449.3 99.3 L449.7 98.9 L451.4 97.1 L451.7 94.8 L450.1 92.5 L448.1 91.8 L447.5 92.2 L446.4 96.3 L446.3 96.7 L446.1 97.2 L445.9 97.6 L445.6 98.1 L445.3 98.4 L444.9 98.8 L444.6 99.1 L444.2 99.4 L443.7 99.7 L443.3 99.9 L442.8 100.0 L442.3 100.1 L441.8 100.2 L441.3 100.2 L440.8 100.2 L440.3 100.1 L439.8 100.0 L439.4 99.8 L438.9 99.6 L438.5 99.3 L438.1 99.0 L437.7 98.7 L435.1 96.1 L431.6 93.9 L427.3 95.2 L422.3 98.9 L415.1 106.2 L414.8 106.4 L414.5 106.7 L409.0 110.7 L407.2 113.0 L407.7 116.7 L407.7 117.2 L407.7 117.8 L407.6 118.3 L407.5 118.8 L407.4 119.3 L407.1 119.7 L406.9 120.2 L406.6 120.6 L406.2 121.0 L405.9 121.4 L405.4 121.7 L405.0 122.0 L404.5 122.2 L404.0 122.4 L403.5 122.5 L403.0 122.6 L402.5 122.6 L400.7 122.6 Z" fill="#482a74" fill-rule="evenodd"/>
<path d="M400.7 122.6m-6.2 0a6.2 6.2 0 1 0 12.4 0a6.2 6.2 0 1 0 -12.4 0M403.1 130.6m-6.2 0a6.2 6.2 0 1 0 12.4 0a6.2 6.2 0 1 0 -12.4 0M408.7 137.2m-6.2 0a6.2 6.2 0 1 0 12.4 0a6.2 6.2 0 1 0 -12.4 0M411.0 145.5m-6.2 0a6.2 6.2 0 1 0 12.4 0a6.2 6.2 0 1 0 -12.4 0M413.9 153.0m-6.2 0a6.2 6.2 0 1 0 12.4 0a6.2 6.2 0 1 0 -12.4 0M422.3 153.7m-6.2 0a6.2 6.2 0 1 0 12.4 0a6.2 6.2 0 1 0 -12.4 0M430.9 152.0m-6.2 0a6.2 6.2 0 1 0 12.4 0a6.2 6.2 0 1 0 -12.4 0M439.3 150.2m-6.2 0a6.2 6.2 0 1 0 12.4 0a6.2 6.2 0 1 0 -12.4 0M447.9 148.7m-6.2 0a6.2 6.2 0 1 0 12.4 0a6.2 6.2 0 1 0 -12.4 0M456.5 148.7m-6.2 0a6.2 6.2 0 1 0 12.4 0a6.2 6.2 0 1 0 -12.4 0M462.8 146.9m-6.2 0a6.2 6.2 0 1 0 12.4 0a6.2 6.2 0 1 0 -12.4 0M462.8 138.2m-6.2 0a6.2 6.2 0 1 0 12.4 0a6.2 6.2 0 1 0 -12.4 0M462.8 129.5m-6.2 0a6.2 6.2 0 1 0 12.4 0a6.2 6.2 0 1 0 -12.4 0M462.8 120.8m-6.2 0a6.2 6.2 0 1 0 12.4 0a6.2 6.2 0 1 0 -12.4 0M462.8 112.1m-6.2 0a6.2 6.2 0 1 0 12.4 0a6.2 6.2 0 1 0 -12.4 0M457.5 108.2m-6.2 0a6.2 6.2 0 1 0 12.4 0a6.2 6.2 0 1 0 -12.4 0M449.4 105.8m-6.2 0a6.2 6.2 0 1 0 12.4 0a6.2 6.2 0 1 0 -12.4 0M450.4 98.1m-6.2 0a6.2 6.2 0 1 0 12.4 0a6.2 6.2 0 1 0 -12.4 0M448.0 91.8m-6.2 0a6.2 6.2 0 1 0 12.4 0a6.2 6.2 0 1 0 -12.4 0M444.3 99.3m-6.2 0a6.2 6.2 0 1 0 12.4 0a6.2 6.2 0 1 0 -12.4 0M436.6 97.6m-6.2 0a6.2 6.2 0 1 0 12.4 0a6.2 6.2 0 1 0 -12.4 0M429.3 94.6m-6.2 0a6.2 6.2 0 1 0 12.4 0a6.2 6.2 0 1 0 -12.4 0M422.0 99.2m-6.2 0a6.2 6.2 0 1 0 12.4 0a6.2 6.2 0 1 0 -12.4 0M415.9 105.4m-6.2 0a6.2 6.2 0 1 0 12.4 0a6.2 6.2 0 1 0 -12.4 0M409.0 110.7m-6.2 0a6.2 6.2 0 1 0 12.4 0a6.2 6.2 0 1 0 -12.4 0M407.5 118.7m-6.2 0a6.2 6.2 0 1 0 12.4 0a6.2 6.2 0 1 0 -12.4 0" fill="#482a74"/>
<path d="M303.2 370.7 L300.4 370.0 L299.9 369.9 L299.3 369.6 L298.8 369.3 L293.8 366.0 L293.4 365.7 L293.0 365.4 L292.7 365.0 L292.4 364.6 L292.1 364.1 L291.9 363.7 L291.7 363.2 L291.6 362.7 L291.5 362.2 L291.5 361.6 L291.5 361.1 L291.6 360.6 L291.7 360.1 L293.3 355.1 L293.4 355.0 L295.1 350.0 L295.3 349.6 L295.5 349.1 L295.8 348.7 L296.1 348.3 L296.4 347.9 L296.8 347.6 L297.2 347.3 L297.6 347.1 L303.9 343.9 L309.1 340.0 L311.2 335.0 L311.4 334.5 L311.7 334.1 L313.3 331.7 L314.9 326.7 L315.9 321.1 L316.0 320.6 L316.1 320.1 L316.3 319.7 L318.3 315.7 L318.6 315.2 L318.9 314.8 L319.2 314.4 L319.6 314.1 L320.0 313.8 L320.4 313.5 L320.9 313.3 L321.4 313.1 L327.2 311.1 L332.1 309.2 L332.6 309.0 L333.1 308.9 L333.6 308.8 L334.1 308.8 L334.6 308.8 L335.1 308.9 L335.6 309.1 L336.1 309.3 L336.6 309.5 L337.0 309.8 L337.4 310.1 L337.8 310.5 L338.1 310.9 L341.6 315.5 L342.0 315.9 L342.2 316.4 L342.4 316.9 L342.6 317.5 L342.7 318.0 L344.0 329.7 L345.2 340.2 L345.2 340.7 L345.2 341.2 L345.1 341.7 L345.0 342.2 L344.9 342.7 L343.0 347.6 L342.0 351.2 L343.1 352.1 L347.9 352.9 L348.0 352.9 L353.0 353.9 L353.5 354.0 L353.9 354.2 L358.5 356.0 L363.0 356.9 L363.5 357.0 L364.0 357.2 L364.5 357.4 L364.9 357.7 L365.4 358.0 L365.7 358.4 L366.1 358.8 L366.4 359.2 L366.7 359.7 L370.7 367.7 L370.9 368.2 L371.0 368.7 L371.1 369.2 L371.2 369.8 L371.6 379.7 L372.9 394.9 L376.7 405.0 L376.8 405.3 L376.9 405.7 L379.7 418.9 L379.8 419.4 L379.8 419.9 L379.8 420.4 L379.7 420.9 L379.6 421.4 L379.4 421.9 L379.2 422.4 L376.5 427.7 L376.3 428.1 L376.0 428.5 L375.6 428.9 L370.4 434.2 L366.5 438.7 L366.2 439.1 L365.8 439.4 L365.4 439.7 L364.9 439.9 L364.5 440.2 L364.0 440.3 L363.5 440.4 L359.5 441.1 L359.0 441.2 L358.5 441.2 L358.1 441.2 L357.6 441.1 L357.1 441.0 L356.7 440.8 L356.2 440.6 L351.2 438.1 L347.7 436.7 L343.8 437.7 L335.9 439.6 L335.2 439.8 L334.6 439.8 L328.0 439.8 L328.0 439.8 L330.8 443.5 L331.0 443.9 L331.3 444.3 L334.0 449.7 L334.2 450.1 L334.3 450.6 L334.4 451.1 L334.5 451.6 L334.5 452.1 L334.5 452.5 L334.4 453.0 L334.3 453.5 L334.1 454.0 L331.4 460.6 L331.2 461.0 L330.9 461.5 L330.6 461.9 L330.3 462.3 L326.3 466.3 L325.9 466.6 L325.6 466.9 L325.2 467.1 L324.7 467.3 L324.3 467.5 L323.8 467.7 L318.6 468.9 L315.6 469.7 L314.8 471.3 L315.5 474.8 L316.2 475.5 L318.7 474.9 L319.2 474.8 L319.7 474.7 L320.2 474.7 L320.7 474.8 L321.2 474.8 L321.7 475.0 L325.5 476.3 L327.5 476.8 L326.9 474.5 L326.9 474.0 L326.8 473.5 L326.8 473.0 L326.9 472.5 L327.0 472.0 L327.1 471.5 L327.3 471.0 L327.6 470.6 L327.9 470.2 L328.2 469.8 L328.6 469.4 L329.0 469.1 L329.4 468.8 L329.8 468.6 L330.3 468.4 L330.8 468.2 L331.3 468.1 L331.8 468.1 L332.4 468.1 L332.9 468.2 L333.4 468.3 L333.9 468.4 L334.3 468.6 L336.4 469.7 L339.0 470.3 L339.9 469.7 L341.9 465.6 L342.2 465.2 L342.4 464.8 L346.4 459.5 L346.8 459.1 L347.2 458.7 L347.6 458.4 L348.0 458.1 L348.5 457.9 L348.9 457.7 L349.4 457.5 L350.0 457.4 L350.5 457.4 L351.0 457.4 L351.5 457.5 L352.0 457.6 L352.5 457.8 L353.0 458.0 L353.4 458.2 L353.9 458.5 L354.2 458.9 L354.6 459.3 L354.9 459.7 L357.6 463.7 L357.7 463.8 L359.3 466.2 L361.5 467.0 L362.1 467.2 L365.8 468.9 L366.2 469.1 L366.7 469.4 L367.1 469.7 L367.4 470.1 L367.8 470.5 L368.1 470.9 L368.3 471.4 L368.5 471.9 L368.7 472.4 L368.7 472.9 L371.5 492.4 L374.2 500.5 L374.4 501.0 L374.5 501.6 L374.5 502.1 L374.5 502.6 L374.4 503.1 L374.3 503.6 L371.4 513.6 L371.2 514.1 L369.0 519.9 L369.8 523.9 L371.5 525.6 L372.2 525.6 L372.8 522.8 L374.2 513.0 L374.2 512.5 L374.4 512.0 L374.5 511.6 L374.8 511.2 L375.0 510.8 L375.3 510.4 L375.6 510.0 L379.9 505.7 L380.5 505.2 L384.7 502.0 L385.3 499.9 L383.5 496.4 L379.4 491.0 L379.2 490.6 L379.0 490.2 L378.8 489.8 L376.0 482.7 L375.8 482.3 L375.7 481.9 L374.2 474.7 L374.1 474.1 L374.1 473.6 L374.1 473.1 L374.2 472.6 L374.3 472.1 L374.5 471.6 L374.7 471.1 L375.0 470.7 L377.9 466.4 L378.2 466.0 L378.6 465.6 L378.9 465.2 L379.4 464.9 L379.8 464.7 L380.3 464.5 L380.7 464.3 L376.0 464.3 L375.8 464.3 L375.7 464.3 L375.2 464.2 L375.2 464.2 L374.7 464.1 L374.6 464.1 L374.1 464.0 L374.1 464.0 L373.6 463.8 L373.6 463.8 L373.1 463.5 L373.1 463.5 L372.9 463.4 L368.9 460.8 L368.7 460.6 L368.6 460.6 L368.2 460.3 L368.2 460.3 L367.8 459.9 L367.8 459.9 L367.5 459.5 L367.4 459.4 L367.2 459.0 L367.1 459.0 L366.9 458.5 L366.9 458.5 L366.7 458.0 L366.6 457.9 L366.5 457.4 L366.5 457.4 L366.4 456.9 L366.4 456.8 L366.3 456.3 L366.3 456.3 L366.3 455.8 L366.3 455.7 L366.4 455.2 L366.4 455.2 L366.5 454.7 L366.5 454.6 L366.6 454.1 L366.6 454.1 L366.8 453.6 L366.9 453.5 L367.1 453.1 L367.1 453.1 L367.4 452.6 L367.4 452.6 L367.8 452.2 L367.8 452.2 L368.2 451.8 L368.2 451.8 L368.6 451.4 L368.6 451.4 L369.1 451.1 L369.1 451.1 L369.6 450.8 L369.6 450.8 L369.8 450.7 L376.0 448.2 L380.9 445.2 L381.1 445.0 L381.1 445.0 L381.5 444.8 L381.6 444.8 L382.0 444.6 L382.1 444.6 L382.5 444.5 L382.6 444.5 L383.0 444.4 L383.1 444.4 L383.3 444.3 L390.0 443.6 L390.3 443.6 L390.3 443.6 L390.8 443.6 L390.9 443.6 L391.4 443.7 L391.4 443.7 L392.0 443.8 L392.0 443.8 L392.5 443.9 L392.5 443.9 L393.0 444.1 L393.1 444.2 L393.5 444.4 L393.6 444.4 L393.8 444.6 L397.8 447.3 L398.0 447.4 L398.0 447.4 L398.4 447.8 L398.5 447.8 L398.8 448.2 L398.8 448.2 L399.2 448.6 L399.2 448.6 L399.5 449.0 L399.5 449.1 L399.7 449.5 L399.7 449.5 L399.9 450.0 L400.0 450.1 L400.1 450.5 L400.1 450.6 L400.2 451.1 L400.2 451.1 L400.3 451.6 L400.3 451.7 L400.3 452.2 L400.3 452.2 L400.3 452.7 L400.3 452.7 L400.2 453.2 L400.2 453.3 L400.0 453.8 L400.0 453.8 L399.8 454.3 L399.8 454.3 L399.7 454.5 L398.4 457.1 L398.3 457.4 L398.2 457.4 L398.0 457.9 L397.9 457.9 L397.6 458.3 L397.6 458.4 L397.2 458.8 L397.2 458.8 L396.8 459.1 L396.7 459.2 L396.3 459.5 L396.2 459.5 L395.8 459.7 L395.7 459.8 L395.2 460.0 L395.2 460.0 L394.9 460.1 L388.9 461.9 L389.0 461.9 L389.5 462.0 L390.0 462.2 L390.4 462.4 L397.5 466.1 L398.0 466.4 L398.4 466.7 L398.8 467.0 L399.1 467.4 L399.5 467.9 L399.7 468.3 L399.9 468.8 L402.7 475.8 L406.5 483.4 L410.8 487.8 L416.6 490.1 L423.2 491.4 L429.9 492.7 L435.8 492.6 L446.4 491.8 L447.1 491.8 L447.7 491.9 L451.4 492.5 L456.1 490.7 L456.6 490.5 L457.2 490.4 L462.8 489.5 L462.8 171.6 L460.4 172.2 L452.0 178.1 L451.7 178.3 L442.8 183.6 L436.3 188.5 L431.3 195.2 L430.8 195.8 L419.8 206.8 L419.4 207.1 L419.0 207.4 L418.6 207.7 L418.2 207.9 L417.7 208.0 L417.2 208.2 L416.7 208.3 L409.4 209.2 L408.8 209.2 L408.2 209.2 L402.1 208.4 L397.2 210.3 L392.5 215.7 L392.3 216.0 L387.8 220.5 L386.3 226.3 L386.2 226.8 L386.0 227.2 L385.8 227.7 L385.6 228.1 L385.3 228.4 L385.0 228.8 L379.5 234.3 L378.9 234.8 L371.6 240.3 L371.6 240.3 L364.2 245.8 L363.8 246.0 L363.4 246.2 L363.0 246.4 L354.1 249.9 L347.8 253.2 L341.0 259.9 L340.6 260.3 L340.1 260.6 L337.3 262.4 L336.4 264.6 L335.1 269.6 L334.1 274.1 L334.0 274.3 L332.5 280.3 L332.4 280.8 L332.2 281.2 L331.9 281.7 L331.6 282.1 L331.3 282.5 L330.9 282.9 L330.5 283.2 L330.1 283.5 L326.6 285.5 L326.1 285.7 L325.7 285.9 L325.2 286.1 L324.7 286.2 L324.2 286.2 L323.7 286.2 L323.2 286.1 L322.7 286.0 L322.3 285.9 L321.8 285.7 L321.4 285.5 L320.9 285.2 L320.5 284.9 L320.2 284.5 L317.4 281.5 L316.1 281.3 L311.1 284.4 L310.7 284.6 L310.2 284.8 L303.8 287.4 L301.6 291.8 L300.0 298.0 L299.8 298.6 L296.5 306.9 L296.3 307.4 L296.1 307.8 L295.8 308.2 L295.5 308.6 L295.1 308.9 L294.7 309.2 L294.3 309.5 L293.9 309.7 L293.4 309.9 L293.0 310.0 L286.3 311.7 L285.8 311.8 L285.3 311.9 L284.8 311.9 L284.3 311.9 L283.8 311.8 L283.4 311.6 L282.9 311.5 L282.5 311.2 L282.1 311.0 L280.5 309.9 L279.7 310.7 L278.3 319.1 L278.2 319.6 L278.0 320.1 L274.7 328.5 L274.5 328.9 L274.3 329.4 L274.0 329.8 L273.7 330.1 L273.4 330.5 L273.0 330.8 L272.6 331.0 L272.2 331.3 L265.5 334.6 L265.0 334.8 L264.4 335.0 L263.8 335.1 L257.2 335.9 L256.7 335.9 L256.2 335.9 L244.5 335.1 L244.1 335.0 L243.7 334.9 L243.2 334.8 L238.2 333.1 L237.8 332.9 L231.2 330.0 L229.1 330.7 L224.8 334.1 L224.4 334.4 L222.8 335.4 L223.0 336.0 L226.0 340.4 L226.3 340.8 L226.5 341.2 L226.7 341.7 L227.9 345.7 L230.9 349.2 L237.2 349.8 L237.7 349.9 L238.2 350.0 L238.7 350.2 L239.1 350.4 L239.6 350.7 L240.0 351.0 L240.4 351.3 L240.7 351.7 L241.0 352.1 L241.3 352.6 L241.5 353.0 L241.7 353.5 L241.8 354.0 L243.4 362.3 L243.5 362.8 L243.5 363.2 L243.5 363.7 L242.8 372.6 L243.6 374.8 L245.0 374.8 L250.2 370.9 L250.6 370.6 L251.0 370.3 L251.4 370.1 L251.9 370.0 L252.4 369.9 L252.9 369.8 L253.4 369.8 L253.8 369.8 L254.3 369.9 L262.7 371.6 L263.2 371.7 L263.7 371.9 L264.2 372.1 L264.6 372.4 L265.0 372.7 L265.4 373.1 L265.8 373.4 L266.1 373.9 L266.3 374.3 L266.5 374.8 L268.9 380.8 L269.6 381.1 L274.3 378.7 L274.8 378.4 L275.4 378.3 L275.9 378.2 L285.4 376.6 L291.5 374.3 L291.9 374.2 L292.4 374.1 L301.0 372.6 L303.2 370.7 Z M405.7 464.9 L406.0 464.5 L406.0 464.4 L406.4 464.0 L406.4 464.0 L406.8 463.7 L406.9 463.6 L407.3 463.3 L407.3 463.3 L407.8 463.0 L407.8 463.0 L408.3 462.8 L408.3 462.7 L408.8 462.6 L408.9 462.5 L409.4 462.4 L409.4 462.4 L409.9 462.3 L410.0 462.3 L410.5 462.3 L410.6 462.3 L411.1 462.3 L411.1 462.3 L411.6 462.4 L411.7 462.4 L412.2 462.6 L412.3 462.6 L412.7 462.8 L412.8 462.8 L413.3 463.0 L413.3 463.0 L413.7 463.3 L413.8 463.3 L414.2 463.7 L414.2 463.7 L414.6 464.1 L414.7 464.1 L414.8 464.3 L417.8 467.8 L418.0 468.0 L418.0 468.0 L418.3 468.4 L418.3 468.5 L418.6 468.9 L418.6 468.9 L418.8 469.4 L418.8 469.4 L419.0 469.9 L419.0 469.9 L419.1 470.4 L419.1 470.5 L419.2 471.0 L419.2 471.0 L419.2 471.5 L419.2 471.5 L419.2 472.0 L419.2 472.1 L419.1 472.6 L419.1 472.6 L419.0 473.1 L419.0 473.1 L418.8 473.6 L418.8 473.7 L418.6 474.1 L418.6 474.1 L418.3 474.6 L418.3 474.6 L418.1 474.8 L415.6 478.3 L415.5 478.5 L415.5 478.6 L415.1 479.0 L415.1 479.0 L414.7 479.3 L414.7 479.4 L414.2 479.7 L414.2 479.7 L413.8 480.0 L413.7 480.0 L413.2 480.2 L413.2 480.3 L412.7 480.4 L412.7 480.5 L412.2 480.6 L412.1 480.6 L411.6 480.7 L411.5 480.7 L411.0 480.7 L411.0 480.7 L410.5 480.7 L410.4 480.7 L409.9 480.6 L409.8 480.6 L409.3 480.5 L409.3 480.4 L408.8 480.3 L408.8 480.2 L408.3 480.0 L408.2 480.0 L407.8 479.7 L407.8 479.7 L407.3 479.4 L407.3 479.3 L406.9 479.0 L406.9 479.0 L406.5 478.6 L406.5 478.5 L406.4 478.3 L403.9 474.8 L403.7 474.6 L403.7 474.6 L403.4 474.1 L403.4 474.1 L403.2 473.7 L403.2 473.6 L403.0 473.1 L403.0 473.1 L402.9 472.6 L402.9 472.6 L402.8 472.1 L402.8 472.0 L402.8 471.5 L402.8 471.5 L402.8 471.0 L402.8 471.0 L402.9 470.5 L402.9 470.4 L403.0 469.9 L403.0 469.9 L403.2 469.4 L403.2 469.4 L403.4 468.9 L403.4 468.9 L403.6 468.7 L405.6 465.2 L405.7 464.9 L405.7 464.9 Z M412.6 211.7 L413.0 212.0 L413.0 212.0 L413.4 212.4 L413.5 212.4 L413.8 212.8 L413.9 212.8 L414.2 213.2 L414.2 213.3 L414.5 213.7 L414.5 213.7 L414.7 214.2 L414.7 214.3 L414.9 214.7 L414.9 214.8 L415.1 215.3 L415.1 215.3 L415.2 215.8 L415.2 215.9 L415.2 216.4 L415.2 216.4 L415.2 217.0 L415.2 217.0 L415.1 217.5 L415.1 217.6 L415.0 218.1 L415.0 218.1 L414.8 218.6 L414.8 218.6 L414.6 219.1 L414.5 219.1 L414.4 219.4 L407.4 231.4 L407.3 231.6 L407.3 231.6 L407.0 232.0 L406.9 232.1 L406.6 232.4 L406.6 232.5 L406.2 232.8 L406.2 232.8 L405.8 233.2 L405.8 233.2 L405.5 233.3 L397.1 238.6 L388.3 252.5 L388.2 252.8 L388.1 252.8 L387.8 253.2 L387.8 253.3 L387.4 253.6 L387.4 253.7 L387.0 254.0 L387.0 254.0 L386.5 254.3 L386.5 254.3 L386.0 254.6 L386.0 254.6 L385.5 254.8 L385.5 254.8 L385.0 255.0 L384.9 255.0 L384.4 255.1 L384.4 255.1 L383.9 255.2 L383.8 255.2 L383.3 255.2 L383.3 255.2 L382.7 255.1 L382.7 255.1 L382.2 255.0 L382.1 255.0 L381.6 254.9 L381.6 254.9 L381.1 254.7 L381.1 254.7 L380.6 254.4 L380.6 254.4 L380.1 254.1 L380.1 254.1 L379.7 253.7 L379.7 253.7 L379.5 253.5 L378.5 252.5 L378.3 252.3 L378.3 252.3 L377.9 251.9 L377.9 251.9 L377.6 251.4 L377.6 251.4 L377.3 250.9 L377.3 250.9 L377.1 250.4 L377.1 250.3 L377.0 249.8 L376.9 249.8 L376.9 249.3 L376.8 249.2 L376.8 248.7 L376.8 248.6 L376.8 248.1 L376.8 248.1 L376.9 247.5 L376.9 247.5 L377.0 247.0 L377.0 246.9 L377.2 246.4 L377.2 246.4 L377.4 245.9 L377.4 245.9 L377.6 245.6 L386.6 230.1 L386.7 229.9 L386.7 229.9 L387.0 229.5 L387.0 229.4 L387.4 229.1 L387.4 229.0 L387.8 228.7 L387.8 228.7 L388.2 228.3 L388.2 228.3 L388.5 228.2 L396.9 222.9 L403.2 212.9 L403.3 212.7 L403.4 212.7 L403.7 212.3 L403.7 212.3 L404.0 211.9 L404.1 211.9 L404.4 211.6 L404.5 211.5 L404.9 211.2 L404.9 211.2 L405.3 211.0 L405.4 210.9 L405.8 210.7 L405.9 210.7 L406.3 210.6 L406.4 210.5 L406.8 210.4 L406.9 210.4 L407.4 210.3 L407.4 210.3 L407.9 210.3 L408.0 210.3 L408.5 210.3 L408.5 210.3 L409.0 210.4 L409.0 210.4 L409.5 210.5 L409.6 210.5 L409.8 210.6 L411.3 211.1 L411.5 211.2 L411.6 211.2 L412.1 211.4 L412.1 211.4 L412.5 211.7 L412.6 211.7 Z" fill="#482a74" fill-rule="evenodd"/>
<path d="M303.2 370.7m-6.2 0a6.2 6.2 0 1 0 12.4 0a6.2 6.2 0 1 0 -12.4 0M295.5 367.2m-6.2 0a6.2 6.2 0 1 0 12.4 0a6.2 6.2 0 1 0 -12.4 0M291.7 360.4m-6.2 0a6.2 6.2 0 1 0 12.4 0a6.2 6.2 0 1 0 -12.4 0M294.3 352.3m-6.2 0a6.2 6.2 0 1 0 12.4 0a6.2 6.2 0 1 0 -12.4 0M299.5 346.1m-6.2 0a6.2 6.2 0 1 0 12.4 0a6.2 6.2 0 1 0 -12.4 0M306.8 341.7m-6.2 0a6.2 6.2 0 1 0 12.4 0a6.2 6.2 0 1 0 -12.4 0M311.3 334.8m-6.2 0a6.2 6.2 0 1 0 12.4 0a6.2 6.2 0 1 0 -12.4 0M314.8 327.1m-6.2 0a6.2 6.2 0 1 0 12.4 0a6.2 6.2 0 1 0 -12.4 0M316.7 318.9m-6.2 0a6.2 6.2 0 1 0 12.4 0a6.2 6.2 0 1 0 -12.4 0M322.2 312.8m-6.2 0a6.2 6.2 0 1 0 12.4 0a6.2 6.2 0 1 0 -12.4 0M330.2 309.9m-6.2 0a6.2 6.2 0 1 0 12.4 0a6.2 6.2 0 1 0 -12.4 0M337.9 310.6m-6.2 0a6.2 6.2 0 1 0 12.4 0a6.2 6.2 0 1 0 -12.4 0M342.6 317.7m-6.2 0a6.2 6.2 0 1 0 12.4 0a6.2 6.2 0 1 0 -12.4 0M343.6 326.1m-6.2 0a6.2 6.2 0 1 0 12.4 0a6.2 6.2 0 1 0 -12.4 0M344.5 334.6m-6.2 0a6.2 6.2 0 1 0 12.4 0a6.2 6.2 0 1 0 -12.4 0M344.7 343.0m-6.2 0a6.2 6.2 0 1 0 12.4 0a6.2 6.2 0 1 0 -12.4 0M342.0 351.0m-6.2 0a6.2 6.2 0 1 0 12.4 0a6.2 6.2 0 1 0 -12.4 0M349.9 353.3m-6.2 0a6.2 6.2 0 1 0 12.4 0a6.2 6.2 0 1 0 -12.4 0M358.0 355.8m-6.2 0a6.2 6.2 0 1 0 12.4 0a6.2 6.2 0 1 0 -12.4 0M365.9 358.6m-6.2 0a6.2 6.2 0 1 0 12.4 0a6.2 6.2 0 1 0 -12.4 0M369.9 366.1m-6.2 0a6.2 6.2 0 1 0 12.4 0a6.2 6.2 0 1 0 -12.4 0M371.4 374.3m-6.2 0a6.2 6.2 0 1 0 12.4 0a6.2 6.2 0 1 0 -12.4 0M371.9 382.8m-6.2 0a6.2 6.2 0 1 0 12.4 0a6.2 6.2 0 1 0 -12.4 0M372.6 391.3m-6.2 0a6.2 6.2 0 1 0 12.4 0a6.2 6.2 0 1 0 -12.4 0M374.6 399.5m-6.2 0a6.2 6.2 0 1 0 12.4 0a6.2 6.2 0 1 0 -12.4 0M377.3 407.5m-6.2 0a6.2 6.2 0 1 0 12.4 0a6.2 6.2 0 1 0 -12.4 0M379.0 415.9m-6.2 0a6.2 6.2 0 1 0 12.4 0a6.2 6.2 0 1 0 -12.4 0M378.4 424.0m-6.2 0a6.2 6.2 0 1 0 12.4 0a6.2 6.2 0 1 0 -12.4 0M373.6 431.0m-6.2 0a6.2 6.2 0 1 0 12.4 0a6.2 6.2 0 1 0 -12.4 0M367.8 437.2m-6.2 0a6.2 6.2 0 1 0 12.4 0a6.2 6.2 0 1 0 -12.4 0M360.6 440.9m-6.2 0a6.2 6.2 0 1 0 12.4 0a6.2 6.2 0 1 0 -12.4 0M352.6 438.8m-6.2 0a6.2 6.2 0 1 0 12.4 0a6.2 6.2 0 1 0 -12.4 0M344.6 437.5m-6.2 0a6.2 6.2 0 1 0 12.4 0a6.2 6.2 0 1 0 -12.4 0M336.3 439.5m-6.2 0a6.2 6.2 0 1 0 12.4 0a6.2 6.2 0 1 0 -12.4 0M328.1 439.9m-6.2 0a6.2 6.2 0 1 0 12.4 0a6.2 6.2 0 1 0 -12.4 0M332.6 447.0m-6.2 0a6.2 6.2 0 1 0 12.4 0a6.2 6.2 0 1 0 -12.4 0M333.7 455.0m-6.2 0a6.2 6.2 0 1 0 12.4 0a6.2 6.2 0 1 0 -12.4 0M330.0 462.6m-6.2 0a6.2 6.2 0 1 0 12.4 0a6.2 6.2 0 1 0 -12.4 0M323.4 467.8m-6.2 0a6.2 6.2 0 1 0 12.4 0a6.2 6.2 0 1 0 -12.4 0M315.4 470.1m-6.2 0a6.2 6.2 0 1 0 12.4 0a6.2 6.2 0 1 0 -12.4 0M318.8 474.9m-6.2 0a6.2 6.2 0 1 0 12.4 0a6.2 6.2 0 1 0 -12.4 0M327.0 476.7m-6.2 0a6.2 6.2 0 1 0 12.4 0a6.2 6.2 0 1 0 -12.4 0M328.5 469.4m-6.2 0a6.2 6.2 0 1 0 12.4 0a6.2 6.2 0 1 0 -12.4 0M336.4 469.7m-6.2 0a6.2 6.2 0 1 0 12.4 0a6.2 6.2 0 1 0 -12.4 0M342.0 465.5m-6.2 0a6.2 6.2 0 1 0 12.4 0a6.2 6.2 0 1 0 -12.4 0M347.2 458.7m-6.2 0a6.2 6.2 0 1 0 12.4 0a6.2 6.2 0 1 0 -12.4 0M354.7 459.4m-6.2 0a6.2 6.2 0 1 0 12.4 0a6.2 6.2 0 1 0 -12.4 0M359.6 466.3m-6.2 0a6.2 6.2 0 1 0 12.4 0a6.2 6.2 0 1 0 -12.4 0M367.3 469.9m-6.2 0a6.2 6.2 0 1 0 12.4 0a6.2 6.2 0 1 0 -12.4 0M369.5 478.0m-6.2 0a6.2 6.2 0 1 0 12.4 0a6.2 6.2 0 1 0 -12.4 0M370.6 486.4m-6.2 0a6.2 6.2 0 1 0 12.4 0a6.2 6.2 0 1 0 -12.4 0M372.3 494.7m-6.2 0a6.2 6.2 0 1 0 12.4 0a6.2 6.2 0 1 0 -12.4 0M374.4 502.9m-6.2 0a6.2 6.2 0 1 0 12.4 0a6.2 6.2 0 1 0 -12.4 0M372.1 511.1m-6.2 0a6.2 6.2 0 1 0 12.4 0a6.2 6.2 0 1 0 -12.4 0M369.3 519.1m-6.2 0a6.2 6.2 0 1 0 12.4 0a6.2 6.2 0 1 0 -12.4 0M372.3 525.2m-6.2 0a6.2 6.2 0 1 0 12.4 0a6.2 6.2 0 1 0 -12.4 0M373.6 516.8m-6.2 0a6.2 6.2 0 1 0 12.4 0a6.2 6.2 0 1 0 -12.4 0M376.5 509.1m-6.2 0a6.2 6.2 0 1 0 12.4 0a6.2 6.2 0 1 0 -12.4 0M382.9 503.4m-6.2 0a6.2 6.2 0 1 0 12.4 0a6.2 6.2 0 1 0 -12.4 0M383.5 496.4m-6.2 0a6.2 6.2 0 1 0 12.4 0a6.2 6.2 0 1 0 -12.4 0M378.6 489.4m-6.2 0a6.2 6.2 0 1 0 12.4 0a6.2 6.2 0 1 0 -12.4 0M375.6 481.4m-6.2 0a6.2 6.2 0 1 0 12.4 0a6.2 6.2 0 1 0 -12.4 0M374.1 473.1m-6.2 0a6.2 6.2 0 1 0 12.4 0a6.2 6.2 0 1 0 -12.4 0M378.4 465.8m-6.2 0a6.2 6.2 0 1 0 12.4 0a6.2 6.2 0 1 0 -12.4 0M375.0 464.2m-6.2 0a6.2 6.2 0 1 0 12.4 0a6.2 6.2 0 1 0 -12.4 0M367.8 459.8m-6.2 0a6.2 6.2 0 1 0 12.4 0a6.2 6.2 0 1 0 -12.4 0M367.9 452.1m-6.2 0a6.2 6.2 0 1 0 12.4 0a6.2 6.2 0 1 0 -12.4 0M375.5 448.4m-6.2 0a6.2 6.2 0 1 0 12.4 0a6.2 6.2 0 1 0 -12.4 0M382.9 444.4m-6.2 0a6.2 6.2 0 1 0 12.4 0a6.2 6.2 0 1 0 -12.4 0M391.4 443.7m-6.2 0a6.2 6.2 0 1 0 12.4 0a6.2 6.2 0 1 0 -12.4 0M398.6 448.0m-6.2 0a6.2 6.2 0 1 0 12.4 0a6.2 6.2 0 1 0 -12.4 0M399.1 455.8m-6.2 0a6.2 6.2 0 1 0 12.4 0a6.2 6.2 0 1 0 -12.4 0M392.7 460.7m-6.2 0a6.2 6.2 0 1 0 12.4 0a6.2 6.2 0 1 0 -12.4 0M392.9 463.7m-6.2 0a6.2 6.2 0 1 0 12.4 0a6.2 6.2 0 1 0 -12.4 0M399.8 468.5m-6.2 0a6.2 6.2 0 1 0 12.4 0a6.2 6.2 0 1 0 -12.4 0M403.0 476.4m-6.2 0a6.2 6.2 0 1 0 12.4 0a6.2 6.2 0 1 0 -12.4 0M406.9 483.9m-6.2 0a6.2 6.2 0 1 0 12.4 0a6.2 6.2 0 1 0 -12.4 0M413.6 488.9m-6.2 0a6.2 6.2 0 1 0 12.4 0a6.2 6.2 0 1 0 -12.4 0M421.8 491.1m-6.2 0a6.2 6.2 0 1 0 12.4 0a6.2 6.2 0 1 0 -12.4 0M430.2 492.7m-6.2 0a6.2 6.2 0 1 0 12.4 0a6.2 6.2 0 1 0 -12.4 0M438.7 492.4m-6.2 0a6.2 6.2 0 1 0 12.4 0a6.2 6.2 0 1 0 -12.4 0M447.1 491.8m-6.2 0a6.2 6.2 0 1 0 12.4 0a6.2 6.2 0 1 0 -12.4 0M455.3 491.0m-6.2 0a6.2 6.2 0 1 0 12.4 0a6.2 6.2 0 1 0 -12.4 0M462.8 488.7m-6.2 0a6.2 6.2 0 1 0 12.4 0a6.2 6.2 0 1 0 -12.4 0M462.8 480.2m-6.2 0a6.2 6.2 0 1 0 12.4 0a6.2 6.2 0 1 0 -12.4 0M462.8 471.7m-6.2 0a6.2 6.2 0 1 0 12.4 0a6.2 6.2 0 1 0 -12.4 0M462.8 463.1m-6.2 0a6.2 6.2 0 1 0 12.4 0a6.2 6.2 0 1 0 -12.4 0M462.8 454.6m-6.2 0a6.2 6.2 0 1 0 12.4 0a6.2 6.2 0 1 0 -12.4 0M462.8 446.1m-6.2 0a6.2 6.2 0 1 0 12.4 0a6.2 6.2 0 1 0 -12.4 0M462.8 437.6m-6.2 0a6.2 6.2 0 1 0 12.4 0a6.2 6.2 0 1 0 -12.4 0M462.8 429.1m-6.2 0a6.2 6.2 0 1 0 12.4 0a6.2 6.2 0 1 0 -12.4 0M462.8 420.6m-6.2 0a6.2 6.2 0 1 0 12.4 0a6.2 6.2 0 1 0 -12.4 0M462.8 412.1m-6.2 0a6.2 6.2 0 1 0 12.4 0a6.2 6.2 0 1 0 -12.4 0M462.8 403.6m-6.2 0a6.2 6.2 0 1 0 12.4 0a6.2 6.2 0 1 0 -12.4 0M462.8 395.0m-6.2 0a6.2 6.2 0 1 0 12.4 0a6.2 6.2 0 1 0 -12.4 0M462.8 386.5m-6.2 0a6.2 6.2 0 1 0 12.4 0a6.2 6.2 0 1 0 -12.4 0M462.8 378.0m-6.2 0a6.2 6.2 0 1 0 12.4 0a6.2 6.2 0 1 0 -12.4 0M462.8 369.5m-6.2 0a6.2 6.2 0 1 0 12.4 0a6.2 6.2 0 1 0 -12.4 0M462.8 361.0m-6.2 0a6.2 6.2 0 1 0 12.4 0a6.2 6.2 0 1 0 -12.4 0M462.8 352.5m-6.2 0a6.2 6.2 0 1 0 12.4 0a6.2 6.2 0 1 0 -12.4 0M462.8 344.0m-6.2 0a6.2 6.2 0 1 0 12.4 0a6.2 6.2 0 1 0 -12.4 0M462.8 335.5m-6.2 0a6.2 6.2 0 1 0 12.4 0a6.2 6.2 0 1 0 -12.4 0M462.8 326.9m-6.2 0a6.2 6.2 0 1 0 12.4 0a6.2 6.2 0 1 0 -12.4 0M462.8 318.4m-6.2 0a6.2 6.2 0 1 0 12.4 0a6.2 6.2 0 1 0 -12.4 0M462.8 309.9m-6.2 0a6.2 6.2 0 1 0 12.4 0a6.2 6.2 0 1 0 -12.4 0M462.8 301.4m-6.2 0a6.2 6.2 0 1 0 12.4 0a6.2 6.2 0 1 0 -12.4 0M462.8 292.9m-6.2 0a6.2 6.2 0 1 0 12.4 0a6.2 6.2 0 1 0 -12.4 0M462.8 284.4m-6.2 0a6.2 6.2 0 1 0 12.4 0a6.2 6.2 0 1 0 -12.4 0M462.8 275.9m-6.2 0a6.2 6.2 0 1 0 12.4 0a6.2 6.2 0 1 0 -12.4 0M462.8 267.4m-6.2 0a6.2 6.2 0 1 0 12.4 0a6.2 6.2 0 1 0 -12.4 0M462.8 258.9m-6.2 0a6.2 6.2 0 1 0 12.4 0a6.2 6.2 0 1 0 -12.4 0M462.8 250.3m-6.2 0a6.2 6.2 0 1 0 12.4 0a6.2 6.2 0 1 0 -12.4 0M462.8 241.8m-6.2 0a6.2 6.2 0 1 0 12.4 0a6.2 6.2 0 1 0 -12.4 0M462.8 233.3m-6.2 0a6.2 6.2 0 1 0 12.4 0a6.2 6.2 0 1 0 -12.4 0M462.8 224.8m-6.2 0a6.2 6.2 0 1 0 12.4 0a6.2 6.2 0 1 0 -12.4 0M462.8 216.3m-6.2 0a6.2 6.2 0 1 0 12.4 0a6.2 6.2 0 1 0 -12.4 0M462.8 207.8m-6.2 0a6.2 6.2 0 1 0 12.4 0a6.2 6.2 0 1 0 -12.4 0M462.8 199.3m-6.2 0a6.2 6.2 0 1 0 12.4 0a6.2 6.2 0 1 0 -12.4 0M462.8 190.8m-6.2 0a6.2 6.2 0 1 0 12.4 0a6.2 6.2 0 1 0 -12.4 0M462.8 182.2m-6.2 0a6.2 6.2 0 1 0 12.4 0a6.2 6.2 0 1 0 -12.4 0M462.8 173.7m-6.2 0a6.2 6.2 0 1 0 12.4 0a6.2 6.2 0 1 0 -12.4 0M457.2 174.5m-6.2 0a6.2 6.2 0 1 0 12.4 0a6.2 6.2 0 1 0 -12.4 0M450.1 179.2m-6.2 0a6.2 6.2 0 1 0 12.4 0a6.2 6.2 0 1 0 -12.4 0M442.8 183.6m-6.2 0a6.2 6.2 0 1 0 12.4 0a6.2 6.2 0 1 0 -12.4 0M436.1 188.8m-6.2 0a6.2 6.2 0 1 0 12.4 0a6.2 6.2 0 1 0 -12.4 0M430.9 195.6m-6.2 0a6.2 6.2 0 1 0 12.4 0a6.2 6.2 0 1 0 -12.4 0M424.9 201.6m-6.2 0a6.2 6.2 0 1 0 12.4 0a6.2 6.2 0 1 0 -12.4 0M418.8 207.5m-6.2 0a6.2 6.2 0 1 0 12.4 0a6.2 6.2 0 1 0 -12.4 0M410.5 209.0m-6.2 0a6.2 6.2 0 1 0 12.4 0a6.2 6.2 0 1 0 -12.4 0M402.1 208.4m-6.2 0a6.2 6.2 0 1 0 12.4 0a6.2 6.2 0 1 0 -12.4 0M395.0 212.8m-6.2 0a6.2 6.2 0 1 0 12.4 0a6.2 6.2 0 1 0 -12.4 0M389.2 219.0m-6.2 0a6.2 6.2 0 1 0 12.4 0a6.2 6.2 0 1 0 -12.4 0M386.2 226.7m-6.2 0a6.2 6.2 0 1 0 12.4 0a6.2 6.2 0 1 0 -12.4 0M380.7 233.1m-6.2 0a6.2 6.2 0 1 0 12.4 0a6.2 6.2 0 1 0 -12.4 0M374.1 238.4m-6.2 0a6.2 6.2 0 1 0 12.4 0a6.2 6.2 0 1 0 -12.4 0M367.2 243.5m-6.2 0a6.2 6.2 0 1 0 12.4 0a6.2 6.2 0 1 0 -12.4 0M359.9 247.7m-6.2 0a6.2 6.2 0 1 0 12.4 0a6.2 6.2 0 1 0 -12.4 0M352.1 251.0m-6.2 0a6.2 6.2 0 1 0 12.4 0a6.2 6.2 0 1 0 -12.4 0M345.1 255.8m-6.2 0a6.2 6.2 0 1 0 12.4 0a6.2 6.2 0 1 0 -12.4 0M338.8 261.4m-6.2 0a6.2 6.2 0 1 0 12.4 0a6.2 6.2 0 1 0 -12.4 0M335.3 268.8m-6.2 0a6.2 6.2 0 1 0 12.4 0a6.2 6.2 0 1 0 -12.4 0M333.3 277.1m-6.2 0a6.2 6.2 0 1 0 12.4 0a6.2 6.2 0 1 0 -12.4 0M329.2 284.0m-6.2 0a6.2 6.2 0 1 0 12.4 0a6.2 6.2 0 1 0 -12.4 0M321.3 285.4m-6.2 0a6.2 6.2 0 1 0 12.4 0a6.2 6.2 0 1 0 -12.4 0M314.7 282.1m-6.2 0a6.2 6.2 0 1 0 12.4 0a6.2 6.2 0 1 0 -12.4 0M307.2 286.0m-6.2 0a6.2 6.2 0 1 0 12.4 0a6.2 6.2 0 1 0 -12.4 0M301.6 291.7m-6.2 0a6.2 6.2 0 1 0 12.4 0a6.2 6.2 0 1 0 -12.4 0M299.3 299.9m-6.2 0a6.2 6.2 0 1 0 12.4 0a6.2 6.2 0 1 0 -12.4 0M296.1 307.8m-6.2 0a6.2 6.2 0 1 0 12.4 0a6.2 6.2 0 1 0 -12.4 0M288.5 311.2m-6.2 0a6.2 6.2 0 1 0 12.4 0a6.2 6.2 0 1 0 -12.4 0M280.6 310.0m-6.2 0a6.2 6.2 0 1 0 12.4 0a6.2 6.2 0 1 0 -12.4 0M278.5 317.9m-6.2 0a6.2 6.2 0 1 0 12.4 0a6.2 6.2 0 1 0 -12.4 0M275.7 325.9m-6.2 0a6.2 6.2 0 1 0 12.4 0a6.2 6.2 0 1 0 -12.4 0M270.5 332.1m-6.2 0a6.2 6.2 0 1 0 12.4 0a6.2 6.2 0 1 0 -12.4 0M262.6 335.2m-6.2 0a6.2 6.2 0 1 0 12.4 0a6.2 6.2 0 1 0 -12.4 0M254.2 335.7m-6.2 0a6.2 6.2 0 1 0 12.4 0a6.2 6.2 0 1 0 -12.4 0M245.7 335.2m-6.2 0a6.2 6.2 0 1 0 12.4 0a6.2 6.2 0 1 0 -12.4 0M237.5 332.8m-6.2 0a6.2 6.2 0 1 0 12.4 0a6.2 6.2 0 1 0 -12.4 0M229.7 330.5m-6.2 0a6.2 6.2 0 1 0 12.4 0a6.2 6.2 0 1 0 -12.4 0M222.8 335.4m-6.2 0a6.2 6.2 0 1 0 12.4 0a6.2 6.2 0 1 0 -12.4 0M227.0 342.8m-6.2 0a6.2 6.2 0 1 0 12.4 0a6.2 6.2 0 1 0 -12.4 0M231.7 349.3m-6.2 0a6.2 6.2 0 1 0 12.4 0a6.2 6.2 0 1 0 -12.4 0M240.0 351.0m-6.2 0a6.2 6.2 0 1 0 12.4 0a6.2 6.2 0 1 0 -12.4 0M242.7 358.8m-6.2 0a6.2 6.2 0 1 0 12.4 0a6.2 6.2 0 1 0 -12.4 0M243.2 367.2m-6.2 0a6.2 6.2 0 1 0 12.4 0a6.2 6.2 0 1 0 -12.4 0M244.4 374.8m-6.2 0a6.2 6.2 0 1 0 12.4 0a6.2 6.2 0 1 0 -12.4 0M251.4 370.2m-6.2 0a6.2 6.2 0 1 0 12.4 0a6.2 6.2 0 1 0 -12.4 0M259.7 371.0m-6.2 0a6.2 6.2 0 1 0 12.4 0a6.2 6.2 0 1 0 -12.4 0M266.6 375.0m-6.2 0a6.2 6.2 0 1 0 12.4 0a6.2 6.2 0 1 0 -12.4 0M271.0 380.4m-6.2 0a6.2 6.2 0 1 0 12.4 0a6.2 6.2 0 1 0 -12.4 0M279.0 377.7m-6.2 0a6.2 6.2 0 1 0 12.4 0a6.2 6.2 0 1 0 -12.4 0M287.3 375.9m-6.2 0a6.2 6.2 0 1 0 12.4 0a6.2 6.2 0 1 0 -12.4 0M295.4 373.6m-6.2 0a6.2 6.2 0 1 0 12.4 0a6.2 6.2 0 1 0 -12.4 0M405.7 464.9m-6.2 0a6.2 6.2 0 1 0 12.4 0a6.2 6.2 0 1 0 -12.4 0M413.5 463.2m-6.2 0a6.2 6.2 0 1 0 12.4 0a6.2 6.2 0 1 0 -12.4 0M419.0 470.0m-6.2 0a6.2 6.2 0 1 0 12.4 0a6.2 6.2 0 1 0 -12.4 0M416.0 477.9m-6.2 0a6.2 6.2 0 1 0 12.4 0a6.2 6.2 0 1 0 -12.4 0M408.2 480.0m-6.2 0a6.2 6.2 0 1 0 12.4 0a6.2 6.2 0 1 0 -12.4 0M403.0 473.0m-6.2 0a6.2 6.2 0 1 0 12.4 0a6.2 6.2 0 1 0 -12.4 0M412.6 211.7m-6.2 0a6.2 6.2 0 1 0 12.4 0a6.2 6.2 0 1 0 -12.4 0M414.3 219.5m-6.2 0a6.2 6.2 0 1 0 12.4 0a6.2 6.2 0 1 0 -12.4 0M409.9 227.1m-6.2 0a6.2 6.2 0 1 0 12.4 0a6.2 6.2 0 1 0 -12.4 0M404.5 234.0m-6.2 0a6.2 6.2 0 1 0 12.4 0a6.2 6.2 0 1 0 -12.4 0M397.1 238.7m-6.2 0a6.2 6.2 0 1 0 12.4 0a6.2 6.2 0 1 0 -12.4 0M392.3 246.2m-6.2 0a6.2 6.2 0 1 0 12.4 0a6.2 6.2 0 1 0 -12.4 0M387.5 253.6m-6.2 0a6.2 6.2 0 1 0 12.4 0a6.2 6.2 0 1 0 -12.4 0M379.5 253.6m-6.2 0a6.2 6.2 0 1 0 12.4 0a6.2 6.2 0 1 0 -12.4 0M377.5 245.7m-6.2 0a6.2 6.2 0 1 0 12.4 0a6.2 6.2 0 1 0 -12.4 0M382.0 238.1m-6.2 0a6.2 6.2 0 1 0 12.4 0a6.2 6.2 0 1 0 -12.4 0M386.4 230.4m-6.2 0a6.2 6.2 0 1 0 12.4 0a6.2 6.2 0 1 0 -12.4 0M393.3 225.1m-6.2 0a6.2 6.2 0 1 0 12.4 0a6.2 6.2 0 1 0 -12.4 0M399.4 218.9m-6.2 0a6.2 6.2 0 1 0 12.4 0a6.2 6.2 0 1 0 -12.4 0M404.3 211.6m-6.2 0a6.2 6.2 0 1 0 12.4 0a6.2 6.2 0 1 0 -12.4 0" fill="#482a74"/>
<path d="M248.0 431.7 L250.5 437.6 L253.2 442.4 L254.7 442.1 L259.3 436.7 L259.7 436.2 L260.2 435.9 L260.6 435.5 L269.0 430.5 L269.4 430.4 L275.5 427.2 L276.0 425.4 L274.3 423.6 L270.8 423.4 L265.1 425.6 L258.5 428.1 L258.2 428.2 L257.8 428.3 L250.5 429.8 L248.0 431.7 Z" fill="#482a74" fill-rule="evenodd"/>
<path d="M248.0 431.7m-6.2 0a6.2 6.2 0 1 0 12.4 0a6.2 6.2 0 1 0 -12.4 0M251.8 439.8m-6.2 0a6.2 6.2 0 1 0 12.4 0a6.2 6.2 0 1 0 -12.4 0M257.6 438.7m-6.2 0a6.2 6.2 0 1 0 12.4 0a6.2 6.2 0 1 0 -12.4 0M264.6 433.2m-6.2 0a6.2 6.2 0 1 0 12.4 0a6.2 6.2 0 1 0 -12.4 0M272.4 428.8m-6.2 0a6.2 6.2 0 1 0 12.4 0a6.2 6.2 0 1 0 -12.4 0M273.2 423.5m-6.2 0a6.2 6.2 0 1 0 12.4 0a6.2 6.2 0 1 0 -12.4 0M264.7 425.7m-6.2 0a6.2 6.2 0 1 0 12.4 0a6.2 6.2 0 1 0 -12.4 0M256.2 428.6m-6.2 0a6.2 6.2 0 1 0 12.4 0a6.2 6.2 0 1 0 -12.4 0" fill="#482a74"/>
<path d="M299.5 505.6 L299.0 508.6 L297.9 518.0 L297.7 518.6 L294.3 532.2 L293.7 539.8 L301.6 539.8 L306.5 533.9 L307.4 526.5 L306.4 516.7 L302.5 510.8 L302.3 510.5 L299.5 505.6 Z" fill="#482a74" fill-rule="evenodd"/>
<path d="M299.5 505.6m-6.2 0a6.2 6.2 0 1 0 12.4 0a6.2 6.2 0 1 0 -12.4 0M298.3 514.5m-6.2 0a6.2 6.2 0 1 0 12.4 0a6.2 6.2 0 1 0 -12.4 0M296.6 523.3m-6.2 0a6.2 6.2 0 1 0 12.4 0a6.2 6.2 0 1 0 -12.4 0M294.4 532.0m-6.2 0a6.2 6.2 0 1 0 12.4 0a6.2 6.2 0 1 0 -12.4 0M294.8 539.8m-6.2 0a6.2 6.2 0 1 0 12.4 0a6.2 6.2 0 1 0 -12.4 0M303.0 538.1m-6.2 0a6.2 6.2 0 1 0 12.4 0a6.2 6.2 0 1 0 -12.4 0M306.9 530.5m-6.2 0a6.2 6.2 0 1 0 12.4 0a6.2 6.2 0 1 0 -12.4 0M306.9 521.5m-6.2 0a6.2 6.2 0 1 0 12.4 0a6.2 6.2 0 1 0 -12.4 0M304.2 513.3m-6.2 0a6.2 6.2 0 1 0 12.4 0a6.2 6.2 0 1 0 -12.4 0" fill="#482a74"/>
<path d="M79.2 473.8 L79.2 542.8 L157.5 542.8 L157.4 540.4 L154.9 538.8 L150.0 536.9 L144.5 537.6 L144.0 537.6 L143.4 537.6 L142.9 537.5 L142.3 537.4 L137.2 535.8 L136.8 535.6 L136.3 535.4 L135.9 535.1 L135.4 534.8 L135.1 534.4 L131.8 531.0 L131.4 530.7 L131.2 530.3 L130.9 529.8 L130.7 529.4 L130.5 528.9 L130.4 528.5 L130.3 528.0 L130.3 527.5 L130.3 527.0 L130.4 526.5 L130.5 526.0 L130.6 525.6 L130.8 525.1 L133.6 519.5 L133.6 516.1 L133.3 515.8 L127.1 515.8 L126.6 515.8 L126.1 515.7 L125.6 515.6 L125.1 515.4 L116.7 512.0 L116.4 511.9 L109.6 508.6 L109.2 508.3 L108.8 508.1 L108.4 507.8 L108.1 507.4 L107.8 507.1 L107.5 506.7 L107.3 506.2 L107.1 505.8 L103.8 497.6 L100.5 491.0 L100.4 490.7 L97.1 482.6 L93.1 475.9 L88.9 473.8 L79.2 473.8 Z" fill="#482a74" fill-rule="evenodd"/>
<path d="M79.2 473.8m-6.2 0a6.2 6.2 0 1 0 12.4 0a6.2 6.2 0 1 0 -12.4 0M79.2 482.6m-6.2 0a6.2 6.2 0 1 0 12.4 0a6.2 6.2 0 1 0 -12.4 0M79.2 491.3m-6.2 0a6.2 6.2 0 1 0 12.4 0a6.2 6.2 0 1 0 -12.4 0M79.2 500.1m-6.2 0a6.2 6.2 0 1 0 12.4 0a6.2 6.2 0 1 0 -12.4 0M79.2 508.8m-6.2 0a6.2 6.2 0 1 0 12.4 0a6.2 6.2 0 1 0 -12.4 0M79.2 517.6m-6.2 0a6.2 6.2 0 1 0 12.4 0a6.2 6.2 0 1 0 -12.4 0M79.2 526.3m-6.2 0a6.2 6.2 0 1 0 12.4 0a6.2 6.2 0 1 0 -12.4 0M79.2 535.1m-6.2 0a6.2 6.2 0 1 0 12.4 0a6.2 6.2 0 1 0 -12.4 0M80.2 542.8m-6.2 0a6.2 6.2 0 1 0 12.4 0a6.2 6.2 0 1 0 -12.4 0M89.0 542.8m-6.2 0a6.2 6.2 0 1 0 12.4 0a6.2 6.2 0 1 0 -12.4 0M97.7 542.8m-6.2 0a6.2 6.2 0 1 0 12.4 0a6.2 6.2 0 1 0 -12.4 0M106.5 542.8m-6.2 0a6.2 6.2 0 1 0 12.4 0a6.2 6.2 0 1 0 -12.4 0M115.2 542.8m-6.2 0a6.2 6.2 0 1 0 12.4 0a6.2 6.2 0 1 0 -12.4 0M124.0 542.8m-6.2 0a6.2 6.2 0 1 0 12.4 0a6.2 6.2 0 1 0 -12.4 0M132.7 542.8m-6.2 0a6.2 6.2 0 1 0 12.4 0a6.2 6.2 0 1 0 -12.4 0M141.5 542.8m-6.2 0a6.2 6.2 0 1 0 12.4 0a6.2 6.2 0 1 0 -12.4 0M150.2 542.8m-6.2 0a6.2 6.2 0 1 0 12.4 0a6.2 6.2 0 1 0 -12.4 0M157.4 541.3m-6.2 0a6.2 6.2 0 1 0 12.4 0a6.2 6.2 0 1 0 -12.4 0M150.4 537.1m-6.2 0a6.2 6.2 0 1 0 12.4 0a6.2 6.2 0 1 0 -12.4 0M141.7 537.2m-6.2 0a6.2 6.2 0 1 0 12.4 0a6.2 6.2 0 1 0 -12.4 0M134.0 533.4m-6.2 0a6.2 6.2 0 1 0 12.4 0a6.2 6.2 0 1 0 -12.4 0M130.5 525.9m-6.2 0a6.2 6.2 0 1 0 12.4 0a6.2 6.2 0 1 0 -12.4 0M133.6 517.9m-6.2 0a6.2 6.2 0 1 0 12.4 0a6.2 6.2 0 1 0 -12.4 0M126.8 515.8m-6.2 0a6.2 6.2 0 1 0 12.4 0a6.2 6.2 0 1 0 -12.4 0M118.6 512.8m-6.2 0a6.2 6.2 0 1 0 12.4 0a6.2 6.2 0 1 0 -12.4 0M110.7 509.1m-6.2 0a6.2 6.2 0 1 0 12.4 0a6.2 6.2 0 1 0 -12.4 0M105.7 502.3m-6.2 0a6.2 6.2 0 1 0 12.4 0a6.2 6.2 0 1 0 -12.4 0M102.2 494.3m-6.2 0a6.2 6.2 0 1 0 12.4 0a6.2 6.2 0 1 0 -12.4 0M98.6 486.3m-6.2 0a6.2 6.2 0 1 0 12.4 0a6.2 6.2 0 1 0 -12.4 0M94.7 478.5m-6.2 0a6.2 6.2 0 1 0 12.4 0a6.2 6.2 0 1 0 -12.4 0M88.0 473.8m-6.2 0a6.2 6.2 0 1 0 12.4 0a6.2 6.2 0 1 0 -12.4 0" fill="#482a74"/>
<circle cx="306.0" cy="415.0" r="6.2" fill="#482a74"/>
<circle cx="312.0" cy="410.0" r="6.2" fill="#482a74"/>
<circle cx="318.0" cy="408.0" r="6.2" fill="#482a74"/>
<circle cx="324.0" cy="407.0" r="6.2" fill="#482a74"/>
<circle cx="331.0" cy="407.0" r="6.2" fill="#482a74"/>
<circle cx="336.0" cy="409.5" r="6.2" fill="#482a74"/>
<circle cx="420.3" cy="535.3" r="6.2" fill="#482a74"/>
<circle cx="357.5" cy="502.0" r="6.2" fill="#482a74"/>
<circle cx="249.5" cy="408.3" r="6.2" fill="#3e4a89"/>
<circle cx="256.5" cy="369.2" r="6.2" fill="#3f4788"/>
<circle cx="312.4" cy="429.3" r="6.2" fill="#482a74"/>
<circle cx="316.5" cy="432.5" r="6.2" fill="#482a74"/>
<circle cx="320.7" cy="435.2" r="6.2" fill="#482a74"/>
<circle cx="327.7" cy="477.4" r="6.2" fill="#3f4a8a"/>
<circle cx="305.4" cy="527.9" r="6.2" fill="#3e4f8a"/>
<circle cx="236.6" cy="318.2" r="6.2" fill="#482a74"/>
<circle cx="249.9" cy="324.0" r="6.2" fill="#482a74"/>
<circle cx="87.0" cy="370.3" r="6.2" fill="#3b5896"/>
<circle cx="93.6" cy="378.3" r="6.2" fill="#2a788e"/>
<circle cx="88.6" cy="386.8" r="6.2" fill="#33638d"/>
<circle cx="85.8" cy="404.2" r="6.2" fill="#3e4c8a"/>
<circle cx="84.0" cy="474.8" r="6.2" fill="#31688e"/>
<circle cx="136.6" cy="513.9" r="6.2" fill="#3b528b"/>
<circle cx="132.6" cy="533.4" r="6.2" fill="#433e85"/>
<circle cx="156.8" cy="536.8" r="6.2" fill="#3b528b"/>
<circle cx="95.0" cy="509.9" r="6.2" fill="#25a18a"/>
<path d="M175.88 48.1 V540.4 M270.85 48.1 V540.4 M365.83 48.1 V540.4 M460.80 48.1 V540.4 M80.90 48.1 V540.4 M80.9 445.54 H460.8 M80.9 350.68 H460.8 M80.9 255.82 H460.8 M80.9 160.96 H460.8 M80.9 66.10 H460.8 M80.9 540.40 H460.8" stroke="#888" stroke-width="1.8" stroke-dasharray="2 1.88" fill="none"/></g>
<rect x="80.9" y="48.1" width="379.9" height="492.3" fill="none" stroke="#000" stroke-width="1.7"/>
<path d="M80.90 540.4 v3.6 M175.88 540.4 v3.6 M270.85 540.4 v3.6 M365.83 540.4 v3.6 M460.80 540.4 v3.6 M80.9 540.40 h-3.6 M80.9 445.54 h-3.6 M80.9 350.68 h-3.6 M80.9 255.82 h-3.6 M80.9 160.96 h-3.6 M80.9 66.10 h-3.6" stroke="#000" stroke-width="1.4" fill="none"/>
<text transform="translate(81.0 563.3) scale(0.9 1)" class="tk" text-anchor="middle">95°E</text>
<text transform="translate(176.0 563.3) scale(0.9 1)" class="tk" text-anchor="middle">105°E</text>
<text transform="translate(271.0 563.3) scale(0.9 1)" class="tk" text-anchor="middle">115°E</text>
<text transform="translate(365.9 563.3) scale(0.9 1)" class="tk" text-anchor="middle">125°E</text>
<text transform="translate(460.9 563.3) scale(0.9 1)" class="tk" text-anchor="middle">135°E</text>
<text transform="translate(70.4 547.3) scale(0.915 1)" class="tk" text-anchor="end">5°S</text>
<text transform="translate(70.4 452.4) scale(0.915 1)" class="tk" text-anchor="end">5°N</text>
<text transform="translate(70.4 357.6) scale(0.915 1)" class="tk" text-anchor="end">15°N</text>
<text transform="translate(70.4 262.7) scale(0.915 1)" class="tk" text-anchor="end">25°N</text>
<text transform="translate(70.4 167.9) scale(0.915 1)" class="tk" text-anchor="end">35°N</text>
<text transform="translate(70.4 73.0) scale(0.915 1)" class="tk" text-anchor="end">45°N</text>
<text transform="translate(270.9 594) scale(0.945 1)" class="al" text-anchor="middle">Longitude</text>
<text transform="translate(21.6 294.2) rotate(-90) scale(0.975 1)" class="al" text-anchor="middle">Latitude</text>
<rect x="490.6" y="48.1" width="24.9" height="492.3" fill="url(#vir)" stroke="#000" stroke-width="1.6"/>
<text x="528.3" y="54.6" class="cb">0.10</text>
<text x="528.3" y="136.7" class="cb">0.09</text>
<text x="528.3" y="218.7" class="cb">0.08</text>
<text x="528.3" y="300.8" class="cb">0.07</text>
<text x="528.3" y="382.8" class="cb">0.06</text>
<text x="528.3" y="464.9" class="cb">0.05</text>
<text x="528.3" y="546.9" class="cb">0.04</text>
<path d="M515.5 48.10 h6.4 M515.5 130.15 h6.4 M515.5 212.20 h6.4 M515.5 294.25 h6.4 M515.5 376.30 h6.4 M515.5 458.35 h6.4 M515.5 540.40 h6.4" stroke="#000" stroke-width="1.8" fill="none"/>
<g transform="translate(856 0)">
<g clip-path="url(#mclip)"><rect x="80.9" y="48.1" width="379.9" height="492.3" fill="#fff"/>
<path d="M470.0 40.0 L470.2 42.2 L470.4 44.4 L469.8 46.7 L470.5 48.9 L470.0 51.1 L470.1 53.3 L470.5 55.6 L470.0 57.8 L470.5 60.0 L470.1 62.2 L470.5 64.4 L470.4 66.7 L470.1 68.9 L469.6 71.1 L470.4 73.3 L470.3 75.6 L469.9 77.8 L470.0 80.0 L467.8 79.5 L465.5 79.9 L463.2 80.1 L461.0 80.0 L458.5 80.5 L456.7 82.5 L454.1 82.6 L452.0 84.0 L449.4 85.2 L446.8 86.4 L444.0 87.0 L441.4 86.7 L438.9 85.7 L436.6 84.4 L434.0 84.0 L431.0 84.3 L428.0 84.0 L425.9 85.4 L424.0 87.0 L420.0 88.0 L417.9 89.2 L416.1 90.8 L414.0 92.0 L412.3 93.6 L411.0 95.7 L409.0 97.0 L408.0 101.0 L406.3 103.0 L404.2 104.6 L402.0 106.0 L399.9 106.8 L398.0 108.1 L396.0 109.0 L394.1 110.8 L391.9 112.3 L390.0 114.0 L389.1 116.5 L388.0 119.0 L391.0 122.0 L392.5 123.9 L393.4 126.2 L395.0 128.0 L396.5 130.5 L398.6 132.5 L400.0 135.0 L401.3 137.1 L402.6 139.0 L404.0 141.0 L404.6 143.5 L405.8 145.8 L407.0 148.0 L407.5 150.6 L407.6 153.3 L406.5 155.3 L406.5 157.6 L403.3 159.8 L400.7 160.8 L397.9 160.9 L395.2 161.5 L392.5 162.0 L389.7 162.2 L387.0 163.0 L384.5 164.7 L381.6 165.7 L378.4 166.3 L376.2 165.2 L375.2 162.0 L377.9 158.7 L378.4 155.5 L380.0 152.2 L379.5 149.0 L377.3 147.3 L376.2 144.6 L378.4 142.5 L382.7 142.5 L381.6 139.2 L380.6 136.0 L377.3 134.4 L374.6 133.9 L371.9 133.3 L369.1 133.5 L366.5 132.7 L364.4 132.0 L362.2 131.6 L364.0 129.9 L365.4 127.9 L367.6 127.1 L369.7 126.2 L369.3 123.9 L368.1 121.9 L366.5 118.7 L363.2 116.5 L361.0 115.4 L359.0 114.0 L356.5 114.1 L354.0 114.6 L351.5 115.0 L349.3 115.5 L347.1 116.1 L344.9 116.6 L342.5 117.1 L340.3 117.8 L338.2 119.1 L335.7 121.2 L333.2 123.3 L330.7 123.5 L328.3 124.1 L329.9 122.4 L331.7 120.4 L334.1 119.1 L331.6 116.6 L333.2 114.1 L335.4 112.6 L337.4 110.8 L338.4 108.8 L339.1 106.6 L337.3 104.9 L334.9 104.1 L332.3 104.2 L329.9 105.0 L327.5 106.5 L324.9 107.5 L322.5 109.2 L319.9 110.8 L317.3 111.9 L314.9 113.3 L313.1 115.0 L310.8 115.8 L308.9 116.9 L307.1 118.3 L305.0 119.1 L302.9 120.1 L300.6 120.7 L298.3 120.8 L295.0 123.3 L295.8 127.4 L297.8 128.9 L300.0 129.9 L302.3 129.8 L304.4 130.2 L306.6 130.8 L309.1 134.1 L310.0 138.3 L312.5 139.0 L314.9 139.9 L317.6 138.6 L319.9 136.6 L322.2 134.9 L324.9 134.1 L327.1 134.6 L329.4 135.3 L331.6 135.8 L333.7 136.7 L335.9 137.2 L338.2 137.4 L342.4 138.3 L341.6 141.6 L338.2 143.2 L335.9 143.1 L333.8 144.0 L331.6 144.1 L328.7 145.0 L325.8 145.7 L323.8 147.5 L321.6 149.1 L319.6 150.4 L318.3 152.4 L316.3 153.7 L315.2 156.0 L313.3 157.4 L311.9 159.3 L310.0 160.7 L311.6 163.2 L314.0 164.0 L316.2 165.1 L318.3 166.5 L320.0 169.0 L321.6 171.5 L322.6 173.8 L324.0 175.8 L324.9 178.2 L326.6 180.1 L327.4 182.5 L329.5 184.1 L331.5 185.8 L333.7 188.2 L335.7 190.8 L333.3 190.3 L330.9 189.6 L328.5 189.5 L326.0 189.3 L323.5 189.3 L321.0 189.2 L318.5 189.4 L320.0 191.2 L322.6 191.9 L325.4 191.7 L328.0 192.6 L330.4 193.7 L332.9 194.2 L335.5 194.5 L335.7 195.8 L334.1 197.7 L333.2 200.0 L331.1 200.8 L329.4 202.3 L327.4 203.3 L325.2 204.2 L323.1 205.4 L320.7 205.8 L323.6 206.3 L326.6 206.6 L328.9 206.4 L331.1 206.7 L333.2 207.5 L335.8 208.0 L338.2 209.1 L340.7 210.0 L338.8 211.5 L336.5 212.4 L335.9 214.6 L334.9 216.6 L334.5 219.3 L333.2 221.6 L331.9 223.6 L329.9 224.9 L326.6 226.6 L324.9 229.9 L323.6 232.6 L321.6 234.9 L320.2 236.9 L318.4 238.3 L316.6 239.9 L316.0 242.5 L314.5 244.7 L313.5 246.9 L313.3 249.3 L311.0 252.8 L309.2 254.5 L307.5 256.3 L305.4 258.4 L302.8 259.8 L300.6 261.2 L298.2 262.1 L296.6 264.0 L294.7 265.6 L292.4 267.2 L290.0 268.5 L287.5 270.1 L284.5 270.5 L282.0 272.0 L279.2 272.1 L276.7 273.4 L274.0 274.0 L271.3 275.0 L268.8 276.4 L266.0 277.0 L263.4 277.8 L260.7 277.8 L258.0 278.0 L256.8 276.1 L256.0 274.0 L254.7 275.8 L254.3 278.2 L253.5 280.2 L252.0 282.0 L249.8 282.6 L248.0 284.0 L246.0 285.0 L243.1 285.9 L240.0 286.0 L238.0 287.0 L236.2 288.5 L234.0 289.0 L231.0 289.5 L228.0 290.0 L225.0 292.0 L223.5 294.8 L223.0 298.0 L224.8 299.8 L227.0 301.0 L224.5 300.3 L222.0 300.0 L221.4 297.4 L221.2 294.7 L221.0 292.0 L219.2 290.2 L218.0 288.0 L215.4 287.0 L212.7 286.6 L210.0 286.0 L207.8 287.1 L206.1 288.8 L204.0 290.0 L201.1 290.8 L198.0 291.0 L195.8 292.1 L193.7 293.2 L192.0 295.0 L189.7 297.3 L188.0 300.0 L186.4 301.8 L185.0 303.8 L184.0 306.0 L182.8 308.9 L182.0 312.0 L183.3 314.4 L184.0 317.0 L186.0 319.5 L188.0 322.0 L190.1 323.9 L192.0 326.0 L194.4 327.6 L196.4 329.6 L198.0 332.0 L199.8 333.8 L201.5 335.8 L203.0 338.0 L205.4 340.2 L208.0 342.0 L208.6 344.2 L210.1 346.0 L211.0 348.0 L211.6 350.2 L212.5 352.2 L214.0 354.0 L214.5 356.8 L216.1 359.3 L217.0 362.0 L217.8 364.9 L218.0 368.0 L218.0 370.7 L217.7 373.4 L217.0 376.0 L216.3 378.1 L214.9 379.9 L214.0 382.0 L211.8 383.0 L209.8 384.4 L208.0 386.0 L206.0 387.0 L203.9 387.9 L202.0 389.0 L199.8 389.7 L198.2 391.4 L196.0 392.0 L193.9 393.9 L192.0 396.0 L189.7 397.7 L188.0 400.0 L185.8 401.2 L184.0 403.0 L181.8 404.8 L180.0 407.0 L178.0 409.0 L176.0 411.0 L174.0 412.0 L173.7 409.3 L174.3 406.7 L174.0 404.0 L175.0 400.0 L172.0 397.0 L169.4 396.2 L167.0 395.0 L165.3 392.3 L163.0 390.0 L161.7 388.0 L159.6 386.8 L158.0 385.0 L155.9 382.6 L154.0 380.0 L152.3 377.6 L150.0 376.0 L148.1 374.5 L145.8 373.6 L144.0 372.0 L141.4 371.9 L139.0 371.0 L137.6 368.6 L137.0 366.0 L136.0 365.0 L132.9 365.1 L130.0 366.0 L128.7 367.9 L128.0 370.0 L127.4 373.1 L126.0 376.0 L125.0 378.6 L124.2 381.2 L124.0 384.0 L122.8 386.6 L122.2 389.4 L121.0 392.0 L121.0 394.7 L121.4 397.3 L121.0 400.0 L123.4 401.6 L125.0 404.0 L126.9 402.3 L128.0 400.0 L128.2 402.7 L128.6 405.3 L129.0 408.0 L129.6 411.1 L131.0 414.0 L131.6 417.0 L132.0 420.0 L133.0 422.2 L134.4 424.2 L136.0 426.0 L138.2 427.1 L140.2 428.4 L142.0 430.0 L144.1 431.1 L146.2 432.4 L148.0 434.0 L149.9 435.4 L152.2 436.4 L154.0 438.0 L157.0 441.0 L158.8 443.6 L160.5 446.2 L161.6 448.8 L161.4 451.6 L162.5 454.2 L163.0 456.9 L163.3 459.6 L163.6 462.3 L164.2 465.0 L164.5 467.7 L165.6 470.3 L166.7 472.3 L167.2 474.6 L168.6 476.4 L167.6 480.4 L164.6 481.4 L161.6 480.9 L158.5 480.4 L156.5 479.4 L154.5 478.4 L152.5 477.4 L150.1 476.1 L148.4 474.1 L146.4 472.3 L144.2 470.6 L142.0 468.7 L140.4 466.3 L139.7 464.1 L138.1 462.5 L137.4 460.3 L136.4 458.3 L135.6 455.5 L134.5 452.9 L133.4 450.2 L132.2 447.6 L131.5 444.8 L130.5 442.1 L129.7 439.7 L129.1 437.3 L128.0 435.0 L126.3 432.9 L125.4 430.3 L124.0 428.0 L122.1 426.2 L120.5 424.2 L119.0 422.0 L117.2 419.8 L115.0 418.0 L114.4 415.5 L113.8 413.0 L113.4 410.4 L112.5 408.0 L113.1 405.5 L112.7 403.0 L113.0 400.5 L113.0 398.0 L113.5 395.5 L114.0 393.0 L114.7 390.5 L115.0 388.0 L115.3 385.3 L115.7 382.7 L116.0 380.0 L115.6 377.3 L115.8 374.6 L115.0 372.0 L114.5 369.3 L114.1 366.6 L113.0 364.0 L112.5 361.2 L110.8 358.8 L110.0 356.0 L109.6 353.5 L109.5 350.9 L108.9 348.4 L108.0 346.0 L107.1 343.6 L106.6 341.1 L106.4 338.5 L106.0 336.0 L103.6 333.8 L102.0 331.0 L99.0 328.0 L97.7 330.2 L96.0 332.0 L94.3 334.3 L92.0 336.0 L89.9 337.2 L87.8 338.4 L86.0 340.0 L83.8 341.0 L82.2 343.0 L80.0 344.0 L77.5 343.8 L75.0 343.8 L72.5 344.4 L70.0 344.0 L70.4 341.8 L70.5 339.6 L69.7 337.4 L70.5 335.2 L69.9 333.0 L70.0 330.8 L70.5 328.6 L70.4 326.4 L69.6 324.2 L69.9 322.0 L70.0 319.8 L69.8 317.6 L69.7 315.4 L69.8 313.2 L70.2 311.0 L69.5 308.8 L70.1 306.6 L69.9 304.4 L69.5 302.1 L69.8 299.9 L70.1 297.7 L70.0 295.5 L69.5 293.3 L70.5 291.1 L70.3 288.9 L70.5 286.7 L69.6 284.5 L69.7 282.3 L69.5 280.1 L70.3 277.9 L69.8 275.7 L69.6 273.5 L69.9 271.3 L70.5 269.1 L70.3 266.9 L69.7 264.7 L69.6 262.5 L70.5 260.3 L70.1 258.1 L70.2 255.9 L69.5 253.7 L69.5 251.5 L70.2 249.3 L69.9 247.1 L69.5 244.9 L70.5 242.7 L70.2 240.5 L70.3 238.3 L69.5 236.1 L70.4 233.9 L69.5 231.7 L70.4 229.4 L70.0 227.2 L69.8 225.0 L70.1 222.8 L70.5 220.6 L69.7 218.4 L69.6 216.2 L70.0 214.0 L69.7 211.8 L69.6 209.6 L69.6 207.4 L69.5 205.2 L69.7 203.0 L69.8 200.8 L69.8 198.6 L70.3 196.4 L69.8 194.2 L70.0 192.0 L69.7 189.8 L69.8 187.6 L69.5 185.4 L69.7 183.2 L69.5 181.0 L70.3 178.8 L70.1 176.6 L69.7 174.4 L70.0 172.2 L70.5 170.0 L69.6 167.8 L70.3 165.6 L69.9 163.4 L70.0 161.2 L70.4 159.0 L69.9 156.8 L70.0 154.6 L70.2 152.3 L70.5 150.1 L69.8 147.9 L70.4 145.7 L70.2 143.5 L70.2 141.3 L69.9 139.1 L69.8 136.9 L69.5 134.7 L69.6 132.5 L69.5 130.3 L70.3 128.1 L69.7 125.9 L69.6 123.7 L69.5 121.5 L70.4 119.3 L70.4 117.1 L70.2 114.9 L69.8 112.7 L69.7 110.5 L69.8 108.3 L70.0 106.1 L69.6 103.9 L69.9 101.7 L69.7 99.5 L70.5 97.3 L70.5 95.1 L70.0 92.9 L69.7 90.7 L70.5 88.5 L69.8 86.3 L69.8 84.1 L69.5 81.9 L69.9 79.7 L70.0 77.5 L70.0 75.2 L69.7 73.0 L70.0 70.8 L69.5 68.6 L69.7 66.4 L69.5 64.2 L69.9 62.0 L69.5 59.8 L69.5 57.6 L69.8 55.4 L69.7 53.2 L70.1 51.0 L70.0 48.8 L70.3 46.6 L70.2 44.4 L70.2 42.2 L70.0 40.0 L72.2 40.4 L74.4 39.9 L76.6 39.8 L78.8 40.5 L81.0 39.6 L83.3 40.2 L85.5 40.2 L87.7 39.5 L89.9 40.4 L92.1 40.4 L94.3 40.1 L96.5 40.3 L98.7 40.3 L100.9 39.6 L103.2 40.0 L105.4 40.0 L107.6 40.4 L109.8 40.3 L112.0 40.4 L114.2 40.1 L116.4 40.4 L118.6 40.2 L120.8 40.2 L123.0 39.7 L125.2 39.5 L127.5 39.6 L129.7 39.9 L131.9 39.6 L134.1 40.4 L136.3 40.1 L138.5 40.1 L140.7 40.1 L142.9 40.2 L145.1 40.0 L147.3 39.5 L149.6 40.3 L151.8 40.3 L154.0 40.0 L156.2 40.0 L158.4 40.2 L160.6 39.5 L162.8 40.3 L165.0 39.7 L167.2 39.5 L169.4 39.7 L171.7 40.2 L173.9 39.7 L176.1 40.3 L178.3 40.5 L180.5 40.0 L182.7 39.9 L184.9 40.0 L187.1 40.2 L189.3 40.3 L191.6 40.1 L193.8 40.2 L196.0 39.5 L198.2 39.6 L200.4 39.7 L202.6 40.3 L204.8 39.8 L207.0 40.1 L209.2 39.5 L211.4 39.5 L213.7 39.8 L215.9 40.2 L218.1 40.2 L220.3 40.2 L222.5 39.8 L224.7 40.0 L226.9 40.0 L229.1 40.0 L231.3 39.6 L233.5 40.4 L235.8 39.7 L238.0 40.5 L240.2 40.5 L242.4 39.5 L244.6 40.0 L246.8 40.4 L249.0 40.5 L251.2 39.9 L253.4 39.8 L255.6 39.7 L257.9 40.5 L260.1 39.7 L262.3 40.1 L264.5 39.6 L266.7 40.0 L268.9 40.5 L271.1 39.6 L273.3 40.4 L275.5 40.0 L277.7 40.4 L279.9 40.2 L282.1 39.7 L284.4 40.4 L286.6 40.0 L288.8 39.5 L291.0 39.5 L293.2 40.0 L295.4 40.0 L297.6 39.8 L299.8 39.6 L302.0 39.8 L304.2 39.8 L306.5 40.4 L308.7 39.5 L310.9 40.3 L313.1 40.4 L315.3 39.6 L317.5 40.5 L319.7 40.2 L321.9 40.4 L324.1 39.8 L326.4 39.9 L328.6 39.9 L330.8 40.5 L333.0 40.1 L335.2 39.9 L337.4 39.9 L339.6 39.8 L341.8 39.5 L344.0 39.6 L346.2 40.4 L348.4 39.8 L350.7 40.5 L352.9 39.7 L355.1 39.7 L357.3 40.0 L359.5 39.7 L361.7 39.9 L363.9 40.5 L366.1 40.4 L368.3 40.3 L370.6 40.1 L372.8 40.5 L375.0 40.5 L377.2 40.0 L379.4 40.2 L381.6 39.5 L383.8 40.3 L386.0 40.0 L388.2 40.3 L390.4 40.2 L392.6 39.8 L394.9 39.5 L397.1 40.5 L399.3 39.6 L401.5 40.0 L403.7 39.8 L405.9 39.8 L408.1 40.3 L410.3 40.5 L412.5 39.7 L414.8 40.2 L417.0 39.8 L419.2 40.1 L421.4 39.9 L423.6 39.6 L425.8 39.6 L428.0 39.7 L430.2 40.5 L432.4 40.0 L434.6 39.7 L436.9 40.5 L439.1 40.5 L441.3 39.9 L443.5 39.6 L445.7 39.7 L447.9 39.5 L450.1 39.8 L452.3 39.5 L454.5 39.7 L456.7 39.7 L458.9 40.1 L461.2 40.4 L463.4 40.3 L465.6 39.9 L467.8 39.9 Z M84.0 438.1 L86.0 439.5 L88.1 440.6 L90.1 442.1 L92.6 442.2 L95.2 442.2 L97.6 442.7 L100.1 443.2 L101.8 444.9 L104.4 445.4 L106.2 446.9 L108.2 448.2 L109.6 450.3 L110.9 452.4 L113.0 454.0 L114.2 456.2 L116.4 457.4 L118.4 458.7 L120.3 460.3 L122.0 461.8 L123.5 463.5 L124.8 465.4 L126.4 467.0 L128.3 468.3 L130.1 469.7 L132.6 469.8 L134.6 470.8 L136.4 472.3 L138.3 473.9 L140.2 475.4 L142.4 476.4 L144.4 477.7 L146.4 479.1 L148.5 480.4 L150.9 482.0 L152.6 484.3 L154.5 486.4 L156.2 488.8 L158.2 490.7 L160.5 492.5 L161.2 494.7 L162.1 496.7 L163.8 498.4 L164.6 500.5 L166.0 502.3 L166.9 504.4 L167.6 506.6 L168.6 508.6 L169.8 510.7 L170.9 512.9 L172.6 514.6 L173.7 516.8 L175.1 518.8 L176.6 520.7 L177.7 522.9 L179.4 524.7 L180.7 526.7 L181.7 529.7 L182.7 532.7 L183.4 535.0 L182.9 537.4 L183.7 539.6 L183.7 542.0 L183.2 545.0 L183.7 548.0 L181.4 547.8 L179.2 548.2 L177.0 548.4 L174.7 548.3 L172.5 547.9 L170.2 547.8 L168.0 548.4 L165.7 548.5 L163.5 548.0 L161.2 547.9 L159.0 548.1 L156.8 548.3 L154.5 548.0 L154.6 545.6 L154.0 543.2 L154.5 540.8 L153.3 538.9 L152.5 536.8 L151.1 534.8 L150.3 532.5 L148.5 530.7 L147.3 528.6 L146.1 526.5 L144.4 524.7 L143.0 522.7 L141.5 520.9 L140.4 518.7 L138.7 516.8 L137.8 514.4 L136.1 512.5 L134.4 510.6 L133.2 508.7 L131.9 506.8 L131.3 504.5 L130.3 502.5 L129.1 500.4 L127.6 498.6 L126.3 496.5 L125.1 494.6 L124.5 492.4 L123.7 490.3 L122.3 488.5 L121.0 486.6 L119.8 484.7 L119.1 482.5 L118.3 480.4 L116.7 478.4 L115.4 476.2 L113.5 474.5 L112.2 472.3 L111.0 470.1 L109.4 468.1 L107.7 466.3 L106.2 464.3 L103.9 462.5 L102.5 459.9 L100.1 458.3 L98.0 456.4 L96.3 454.0 L94.1 452.2 L91.9 450.8 L89.9 449.1 L88.1 447.2 L86.6 445.3 L84.5 444.0 L83.0 442.1 Z M290.7 424.0 L288.8 425.7 L287.7 428.1 L286.5 430.3 L284.7 432.1 L283.3 433.9 L281.5 435.4 L279.7 436.8 L277.9 438.1 L276.6 440.1 L274.8 441.9 L272.7 443.2 L270.8 444.9 L268.6 446.2 L266.3 447.3 L264.8 449.5 L262.8 451.1 L260.5 452.2 L259.2 454.2 L257.4 455.5 L255.4 456.8 L253.8 458.4 L252.5 460.3 L250.4 461.1 L248.2 461.8 L246.2 462.9 L244.4 464.3 L241.8 465.5 L239.2 466.6 L236.4 467.3 L235.5 469.4 L235.3 471.7 L235.7 474.1 L234.6 476.1 L234.4 478.4 L231.7 477.9 L229.0 477.2 L226.3 476.4 L223.2 475.6 L220.3 474.4 L217.9 475.7 L215.2 476.4 L215.1 479.2 L214.1 481.8 L213.2 484.4 L213.9 486.9 L213.7 489.6 L215.1 491.9 L215.2 494.5 L215.8 497.4 L217.6 499.7 L218.3 502.5 L219.8 504.4 L220.7 506.8 L222.3 508.6 L222.4 511.2 L223.4 513.6 L224.3 516.1 L224.3 518.7 L227.0 519.3 L229.7 519.9 L232.3 520.7 L234.9 521.8 L237.8 521.7 L240.4 522.7 L243.4 523.6 L246.4 524.7 L249.1 525.1 L251.8 524.2 L254.5 524.7 L257.5 525.6 L260.5 526.7 L262.4 528.0 L264.4 529.0 L266.6 529.7 L269.5 528.7 L272.6 528.7 L275.4 527.8 L278.4 527.9 L279.8 525.8 L281.9 524.4 L282.8 522.1 L282.4 519.6 L283.1 517.3 L284.2 515.0 L285.1 512.8 L285.5 510.3 L286.5 507.9 L287.8 505.6 L289.2 503.9 L291.3 502.8 L292.5 500.9 L293.4 498.6 L293.8 496.1 L294.8 493.9 L296.2 491.0 L297.2 488.0 L299.5 486.6 L301.9 485.6 L304.8 484.2 L307.8 483.3 L304.2 482.1 L302.2 480.9 L301.3 478.8 L299.5 477.4 L299.2 474.9 L298.1 472.7 L297.2 470.4 L296.5 467.9 L294.4 466.0 L293.7 463.4 L292.2 461.2 L291.3 458.7 L293.0 456.3 L294.8 454.0 L297.5 452.6 L299.5 450.4 L301.6 449.0 L303.1 446.9 L306.0 446.2 L308.9 445.8 L307.8 442.2 L305.3 441.3 L303.1 439.9 L301.2 437.6 L299.5 435.2 L297.9 433.6 L296.7 431.7 L294.8 430.5 L292.6 429.2 L291.1 427.1 L289.0 425.8 Z M318.5 273.8 L319.0 270.9 L318.9 268.0 L320.5 265.5 L321.4 262.7 L323.4 260.3 L324.9 257.5 L327.0 255.8 L329.0 254.0 L332.5 252.8 L335.4 254.6 L336.0 256.9 L335.4 259.1 L334.6 261.2 L333.7 263.3 L332.9 265.7 L331.5 267.9 L330.8 270.3 L330.4 272.8 L329.5 275.1 L328.4 277.3 L327.6 279.9 L327.5 282.8 L326.7 285.4 L325.5 284.8 L325.3 282.1 L326.1 279.6 L323.8 277.3 L320.3 274.9 Z M210.0 309.0 L213.0 306.0 L218.0 304.0 L224.0 303.0 L230.0 304.0 L232.0 308.0 L228.0 312.0 L224.0 316.0 L218.0 319.0 L213.0 318.0 L210.0 314.0 Z M376.0 176.5 L379.0 175.0 L383.0 175.0 L385.0 176.5 L382.0 178.0 L378.0 178.0 Z M414.9 170.9 L417.7 169.5 L420.8 169.1 L424.3 170.3 L426.0 172.6 L427.8 174.9 L429.7 176.5 L431.3 178.4 L429.9 181.2 L429.5 184.3 L427.7 187.0 L426.6 190.1 L424.4 192.1 L423.1 194.7 L421.5 196.6 L419.6 198.2 L417.3 197.1 L416.2 194.3 L416.1 191.3 L415.1 189.1 L414.9 186.6 L414.4 183.7 L413.8 180.8 L414.6 177.9 L414.9 174.9 Z M420.6 167.3 L422.7 166.0 L424.8 164.8 L427.2 163.5 L429.9 162.7 L432.5 161.3 L435.1 160.1 L437.2 158.7 L439.2 157.0 L443.3 155.5 L445.9 155.9 L448.5 156.0 L451.1 156.0 L453.6 155.5 L456.4 155.7 L459.1 155.3 L461.9 155.0 L463.7 153.4 L466.1 152.8 L467.9 151.1 L470.0 150.0 L469.9 152.3 L470.1 154.6 L469.7 156.8 L470.3 159.1 L470.3 161.4 L470.0 163.7 L467.3 164.0 L464.6 164.1 L461.9 163.7 L458.8 163.0 L455.7 163.2 L451.6 164.2 L449.0 165.2 L446.4 166.3 L443.9 167.3 L441.3 167.9 L438.7 168.3 L436.1 168.4 L433.4 168.6 L430.9 169.9 L428.4 170.1 L425.8 170.4 L422.2 169.4 Z M434.0 174.0 L436.0 172.7 L438.2 172.0 L440.9 171.3 L443.3 169.9 L445.9 169.3 L448.5 168.4 L451.2 168.4 L453.6 167.3 L455.6 166.1 L457.8 165.8 L461.9 165.3 L464.6 165.2 L467.3 165.4 L470.0 165.0 L469.6 167.2 L469.5 169.5 L470.5 171.8 L470.0 174.0 L467.3 174.2 L464.6 174.4 L461.9 174.0 L459.7 174.5 L457.4 173.8 L455.2 174.5 L452.9 174.3 L450.7 175.1 L448.5 175.1 L445.8 175.2 L443.3 176.1 L441.3 177.7 L439.2 179.2 L435.6 179.7 L434.6 176.1 Z M323.3 318.6 L323.0 321.0 L322.1 323.3 L321.6 325.6 L321.2 327.9 L321.5 330.3 L321.1 332.8 L319.8 334.9 L316.3 337.3 L316.5 339.6 L316.9 341.9 L317.6 344.3 L318.6 346.6 L319.5 348.8 L319.8 351.2 L322.1 354.7 L324.5 358.2 L323.3 361.7 L325.6 365.2 L328.0 366.3 L330.3 367.6 L332.4 365.5 L335.0 364.0 L337.8 362.2 L340.8 361.0 L343.8 361.2 L346.6 362.0 L349.5 362.1 L352.4 362.0 L354.8 362.0 L357.1 361.7 L354.6 360.8 L352.4 359.4 L349.4 359.3 L346.6 358.2 L343.7 357.8 L340.8 357.1 L338.9 355.8 L336.7 355.1 L334.9 353.6 L332.6 350.1 L332.1 347.8 L332.0 345.4 L332.7 342.9 L334.2 340.9 L334.9 338.4 L335.6 336.1 L335.6 333.6 L336.3 331.3 L337.3 329.1 L336.8 326.4 L336.6 323.7 L336.1 321.0 L335.6 318.0 L334.9 315.1 L332.0 316.0 L329.0 316.0 L326.3 317.6 Z M323.3 362.5 L327.3 362.0 L332.6 364.0 L331.3 370.0 L329.9 376.6 L325.9 374.0 L322.0 368.0 Z M291.3 412.6 L293.1 411.1 L294.6 409.2 L296.2 407.4 L298.0 405.9 L299.5 404.1 L301.6 402.9 L302.8 400.8 L304.6 399.3 L306.5 397.1 L308.1 394.7 L310.0 392.6 L311.2 390.4 L313.0 388.4 L314.0 386.0 L315.4 384.0 L315.6 381.5 L316.6 379.3 L319.3 377.3 L319.3 379.7 L318.6 382.0 L317.7 384.6 L317.6 387.4 L316.6 390.0 L315.7 392.1 L313.6 393.3 L312.6 395.3 L311.0 397.0 L309.1 398.4 L307.7 400.4 L306.0 402.0 L304.0 403.4 L302.7 405.3 L301.2 407.2 L299.3 408.6 L298.0 410.6 L296.0 411.9 L294.2 413.4 L292.7 415.2 L290.0 416.6 Z M335.0 375.0 L341.0 374.0 L345.0 378.0 L348.0 383.0 L349.0 388.0 L346.0 392.0 L341.0 394.0 L337.0 394.0 L336.0 388.0 L338.0 383.0 L336.0 379.0 Z M348.0 384.0 L351.0 386.0 L352.0 392.0 L353.0 398.0 L351.0 404.0 L348.0 406.0 L346.0 402.0 L347.0 396.0 L346.0 390.0 Z M354.0 386.0 L355.0 390.0 L356.0 395.0 L357.0 400.0 L355.5 402.0 L354.5 397.0 L353.5 392.0 Z M356.0 397.0 L360.0 396.0 L361.0 400.0 L358.0 401.0 L356.5 399.5 Z M358.0 380.0 L362.0 380.0 L364.0 385.0 L363.0 392.0 L361.0 395.0 L359.0 392.0 L360.0 387.0 Z M355.0 362.0 L359.0 362.0 L360.0 370.0 L358.0 378.0 L355.0 377.0 L354.0 370.0 Z M347.0 363.0 L351.0 363.0 L351.5 367.0 L349.0 372.0 L347.5 368.0 Z M340.0 363.0 L343.0 362.0 L344.0 366.0 L341.0 367.0 Z M336.0 367.0 L338.0 366.0 L339.0 370.0 L336.5 370.0 Z M344.0 356.0 L347.0 355.0 L348.0 358.0 L345.0 359.0 Z M333.0 357.0 L336.0 356.0 L337.0 359.0 L334.0 360.0 Z M337.3 430.0 L336.0 426.0 L337.7 423.5 L338.6 420.6 L340.4 418.9 L342.6 418.0 L344.7 416.1 L346.6 414.0 L350.6 412.6 L354.6 411.3 L357.3 410.0 L359.2 408.5 L361.3 407.3 L363.9 405.3 L365.9 404.3 L367.9 403.3 L371.9 404.6 L373.6 407.1 L374.6 410.0 L375.3 412.1 L375.4 414.4 L375.9 416.6 L374.8 419.2 L374.6 422.0 L371.9 424.6 L371.0 426.8 L369.3 428.6 L368.0 430.8 L366.4 432.9 L365.3 435.3 L362.6 436.6 L361.0 434.2 L358.6 432.6 L355.9 430.0 L355.6 427.3 L355.9 424.6 L353.3 422.0 L349.3 420.6 L346.6 422.0 L344.9 424.3 L342.6 426.0 L340.9 427.7 L340.0 430.0 Z M317.7 485.4 L320.9 484.7 L323.6 483.0 L326.0 482.8 L328.3 482.1 L330.7 482.4 L333.0 483.1 L335.4 482.7 L337.8 483.0 L340.1 483.6 L342.5 483.5 L344.9 483.6 L347.3 483.8 L349.6 482.8 L352.0 483.0 L355.0 482.7 L357.9 481.8 L360.1 480.4 L362.6 479.5 L364.4 480.6 L362.6 484.2 L360.3 485.4 L357.9 486.5 L355.4 486.9 L353.1 487.8 L350.8 488.9 L347.9 489.6 L344.9 489.5 L342.5 489.6 L340.2 489.2 L337.8 488.9 L335.4 488.9 L333.1 489.0 L330.7 488.9 L328.4 489.7 L326.0 490.0 L323.6 490.1 L321.7 491.7 L320.1 493.6 L319.1 495.9 L318.9 498.4 L320.8 499.6 L322.0 501.6 L323.6 503.1 L326.5 504.6 L329.6 505.5 L331.7 503.9 L334.3 503.1 L336.8 502.2 L339.0 500.7 L342.6 499.6 L344.9 503.1 L342.6 505.5 L340.4 507.0 L337.8 507.7 L335.5 509.0 L331.9 511.4 L334.3 514.9 L336.0 517.3 L337.8 519.6 L338.9 522.1 L340.2 524.4 L341.6 526.6 L342.6 529.1 L344.4 531.4 L346.1 533.8 L345.4 536.2 L344.9 538.6 L342.6 538.9 L340.2 539.1 L338.5 537.5 L336.6 536.2 L334.8 533.9 L333.1 531.5 L331.3 529.1 L329.6 526.7 L327.9 524.0 L327.2 520.8 L323.6 519.6 L321.3 523.2 L320.6 526.1 L320.1 529.1 L319.7 531.5 L319.6 533.9 L318.9 536.2 L318.0 538.5 L317.7 541.0 L317.4 543.3 L317.8 545.7 L317.7 548.0 L315.3 548.4 L313.0 548.0 L310.6 548.0 L310.2 545.7 L310.2 543.3 L310.6 541.0 L311.1 538.6 L311.4 536.1 L312.3 533.9 L313.0 531.5 L313.0 529.1 L312.5 526.8 L313.1 524.4 L313.0 522.0 L312.1 519.7 L312.4 517.2 L311.8 514.9 L312.1 512.5 L311.8 510.2 L311.3 507.9 L311.8 505.5 L313.0 502.6 L314.2 499.6 L314.7 496.6 L315.4 493.6 L316.6 491.0 L316.6 488.0 Z M359.0 508.5 L363.0 507.8 L368.5 509.5 L366.0 511.4 L361.0 511.0 Z M392.4 471.9 L394.8 473.1 L397.4 473.6 L396.3 475.7 L396.0 478.0 L395.7 480.3 L398.1 482.3 L400.8 483.7 L401.9 485.8 L402.0 488.4 L403.3 490.4 L400.4 489.6 L397.4 488.7 L395.3 491.0 L394.0 493.8 L395.3 496.6 L397.4 498.8 L395.0 500.0 L392.4 500.5 L391.0 497.8 L389.0 495.5 L390.0 493.4 L389.7 490.9 L390.7 488.7 L388.9 486.3 L387.3 483.7 L388.1 481.5 L388.1 479.1 L389.0 477.0 L391.1 474.7 Z M423.7 500.8 L426.0 499.6 L428.6 499.2 L430.8 497.9 L433.3 497.5 L435.8 497.9 L438.3 498.4 L440.8 497.9 L443.3 498.1 L445.6 498.6 L448.0 499.3 L450.1 501.4 L452.3 503.6 L453.2 506.4 L453.7 509.4 L454.9 511.4 L455.1 513.7 L458.0 515.1 L460.7 514.8 L463.3 514.7 L466.0 515.1 L465.5 517.4 L465.8 519.6 L465.6 521.9 L466.4 524.1 L465.7 526.4 L466.4 528.7 L466.0 531.0 L465.9 533.2 L466.1 535.5 L465.6 537.7 L466.0 540.0 L464.1 537.5 L462.0 535.1 L460.1 532.9 L458.0 530.8 L456.4 528.6 L453.9 527.3 L452.3 525.1 L450.4 523.2 L448.0 522.2 L447.1 524.7 L446.7 527.3 L445.5 529.7 L445.1 532.3 L442.8 531.1 L440.8 529.4 L439.8 527.2 L438.0 525.5 L436.5 523.7 L434.3 521.7 L432.3 519.4 L435.1 516.5 L438.0 516.3 L440.8 515.5 L443.7 515.1 L446.6 512.2 L443.6 511.9 L440.8 510.8 L438.4 510.5 L436.1 511.3 L433.7 510.8 L431.8 509.1 L429.4 507.9 L427.1 506.7 L425.1 505.1 L424.6 502.9 Z M393.4 520.8 L400.1 519.1 L408.5 519.9 L415.2 522.4 L420.3 525.8 L418.6 529.2 L411.9 527.5 L405.1 525.8 L398.4 527.5 L393.4 527.5 Z M377.0 522.0 L381.0 521.0 L385.0 522.5 L384.0 526.0 L379.0 526.5 L376.5 524.5 Z M181.0 507.0 L185.0 509.0 L189.0 514.0 L192.0 519.0 L190.0 521.0 L186.0 518.0 L183.0 514.0 L180.0 511.0 Z M200.5 518.5 L204.0 517.5 L206.0 519.5 L204.0 522.0 L201.0 521.5 Z M112.4 373.0 L112.0 374.1 L111.2 374.6 L110.4 374.1 L110.0 373.0 L110.4 371.9 L111.2 371.4 L112.0 371.9 Z M111.4 377.5 L111.1 378.4 L110.4 378.8 L109.7 378.4 L109.4 377.5 L109.7 376.6 L110.4 376.2 L111.1 376.6 Z M113.6 381.6 L113.2 382.3 L112.3 382.6 L111.4 382.3 L111.0 381.6 L111.4 380.9 L112.3 380.6 L113.2 380.9 Z M115.8 386.0 L115.5 386.8 L114.8 387.2 L114.1 386.8 L113.8 386.0 L114.1 385.2 L114.8 384.8 L115.5 385.2 Z M112.5 390.0 L112.2 391.0 L111.5 391.4 L110.8 391.0 L110.5 390.0 L110.8 389.0 L111.5 388.6 L112.2 389.0 Z M112.2 397.9 L111.9 398.8 L111.2 399.2 L110.5 398.8 L110.2 397.9 L110.5 397.0 L111.2 396.6 L111.9 397.0 Z M114.8 405.0 L114.5 405.7 L113.8 406.0 L113.1 405.7 L112.8 405.0 L113.1 404.3 L113.8 404.0 L114.5 404.3 Z M151.9 478.4 L151.5 479.1 L150.5 479.4 L149.5 479.1 L149.1 478.4 L149.5 477.7 L150.5 477.4 L151.5 477.7 Z M156.1 480.4 L155.6 481.2 L154.5 481.6 L153.4 481.2 L152.9 480.4 L153.4 479.6 L154.5 479.2 L155.6 479.6 Z M159.9 482.4 L159.5 483.2 L158.5 483.6 L157.5 483.2 L157.1 482.4 L157.5 481.6 L158.5 481.2 L159.5 481.6 Z M166.1 484.6 L165.7 485.3 L164.6 485.6 L163.5 485.3 L163.1 484.6 L163.5 483.9 L164.6 483.6 L165.7 483.9 Z M170.2 482.0 L169.7 482.8 L168.6 483.2 L167.5 482.8 L167.0 482.0 L167.5 481.2 L168.6 480.8 L169.7 481.2 Z M172.2 485.0 L171.8 485.7 L171.0 486.0 L170.2 485.7 L169.8 485.0 L170.2 484.3 L171.0 484.0 L171.8 484.3 Z M163.8 494.5 L163.4 495.6 L162.5 496.1 L161.6 495.6 L161.2 494.5 L161.6 493.4 L162.5 492.9 L163.4 493.4 Z M173.8 496.5 L173.4 497.3 L172.6 497.7 L171.8 497.3 L171.4 496.5 L171.8 495.7 L172.6 495.3 L173.4 495.7 Z M168.0 489.0 L167.7 489.9 L167.0 490.3 L166.3 489.9 L166.0 489.0 L166.3 488.1 L167.0 487.7 L167.7 488.1 Z M185.7 452.2 L185.4 452.9 L184.7 453.2 L184.0 452.9 L183.7 452.2 L184.0 451.5 L184.7 451.2 L185.4 451.5 Z M189.9 451.0 L189.6 451.6 L189.0 451.9 L188.4 451.6 L188.1 451.0 L188.4 450.4 L189.0 450.1 L189.6 450.4 Z M207.6 456.2 L207.1 457.2 L206.0 457.6 L204.9 457.2 L204.4 456.2 L204.9 455.2 L206.0 454.8 L207.1 455.2 Z M183.9 465.0 L183.6 465.6 L183.0 465.9 L182.4 465.6 L182.1 465.0 L182.4 464.4 L183.0 464.1 L183.6 464.4 Z M188.9 463.5 L188.6 464.1 L188.0 464.4 L187.4 464.1 L187.1 463.5 L187.4 462.9 L188.0 462.6 L188.6 462.9 Z M212.8 465.0 L212.6 465.6 L212.0 465.8 L211.4 465.6 L211.2 465.0 L211.4 464.4 L212.0 464.2 L212.6 464.4 Z M191.8 410.0 L191.6 410.6 L191.0 410.8 L190.4 410.6 L190.2 410.0 L190.4 409.4 L191.0 409.2 L191.6 409.4 Z M212.9 508.0 L212.6 508.6 L212.0 508.9 L211.4 508.6 L211.1 508.0 L211.4 507.4 L212.0 507.1 L212.6 507.4 Z M103.1 479.0 L102.8 480.8 L102.0 481.6 L101.2 480.8 L100.9 479.0 L101.2 477.2 L102.0 476.4 L102.8 477.2 Z M113.4 494.5 L113.0 495.9 L112.2 496.5 L111.4 495.9 L111.0 494.5 L111.4 493.1 L112.2 492.5 L113.0 493.1 Z M117.5 502.5 L117.2 503.5 L116.5 503.9 L115.8 503.5 L115.5 502.5 L115.8 501.5 L116.5 501.1 L117.2 501.5 Z M121.5 508.6 L121.2 509.4 L120.5 509.8 L119.8 509.4 L119.5 508.6 L119.8 507.8 L120.5 507.4 L121.2 507.8 Z M90.0 461.0 L89.7 461.7 L89.0 462.0 L88.3 461.7 L88.0 461.0 L88.3 460.3 L89.0 460.0 L89.7 460.3 Z M375.0 161.0 L374.7 161.7 L374.0 162.0 L373.3 161.7 L373.0 161.0 L373.3 160.3 L374.0 160.0 L374.7 160.3 Z M377.5 168.5 L377.2 169.1 L376.5 169.4 L375.8 169.1 L375.5 168.5 L375.8 167.9 L376.5 167.6 L377.2 167.9 Z M373.3 157.0 L373.1 157.6 L372.5 157.8 L371.9 157.6 L371.7 157.0 L371.9 156.4 L372.5 156.2 L373.1 156.4 Z M407.2 166.2 L406.8 168.2 L406.0 169.0 L405.2 168.2 L404.8 166.2 L405.2 164.2 L406.0 163.4 L406.8 164.2 Z M409.2 178.4 L408.8 179.2 L408.0 179.6 L407.2 179.2 L406.8 178.4 L407.2 177.6 L408.0 177.2 L408.8 177.6 Z M411.8 180.8 L411.4 181.9 L410.3 182.3 L409.2 181.9 L408.8 180.8 L409.2 179.7 L410.3 179.3 L411.4 179.7 Z M412.9 183.1 L412.5 184.2 L411.4 184.6 L410.3 184.2 L409.9 183.1 L410.3 182.0 L411.4 181.6 L412.5 182.0 Z M414.2 185.4 L413.7 186.5 L412.6 187.0 L411.5 186.5 L411.0 185.4 L411.5 184.3 L412.6 183.8 L413.7 184.3 Z M415.0 188.9 L414.6 190.0 L413.8 190.5 L413.0 190.0 L412.6 188.9 L413.0 187.8 L413.8 187.3 L414.6 187.8 Z M416.1 192.4 L415.7 193.4 L414.9 193.8 L414.1 193.4 L413.7 192.4 L414.1 191.4 L414.9 191.0 L415.7 191.4 Z M418.7 195.0 L418.3 196.0 L417.3 196.4 L416.3 196.0 L415.9 195.0 L416.3 194.0 L417.3 193.6 L418.3 194.0 Z M402.0 183.1 L401.7 183.7 L401.0 184.0 L400.3 183.7 L400.0 183.1 L400.3 182.5 L401.0 182.2 L401.7 182.5 Z M404.2 179.6 L403.9 180.2 L403.3 180.5 L402.7 180.2 L402.4 179.6 L402.7 179.0 L403.3 178.7 L403.9 179.0 Z M410.0 171.5 L409.7 172.1 L409.1 172.4 L408.5 172.1 L408.2 171.5 L408.5 170.9 L409.1 170.6 L409.7 170.9 Z M410.5 191.3 L410.3 191.9 L409.7 192.1 L409.1 191.9 L408.9 191.3 L409.1 190.7 L409.7 190.5 L410.3 190.7 Z M234.0 288.0 L233.7 288.7 L233.0 289.0 L232.3 288.7 L232.0 288.0 L232.3 287.3 L233.0 287.0 L233.7 287.3 Z M236.8 287.0 L236.6 287.6 L236.0 287.8 L235.4 287.6 L235.2 287.0 L235.4 286.4 L236.0 286.2 L236.6 286.4 Z M344.2 371.0 L343.8 372.1 L343.0 372.6 L342.2 372.1 L341.8 371.0 L342.2 369.9 L343.0 369.4 L343.8 369.9 Z M353.5 375.0 L353.2 376.1 L352.5 376.5 L351.8 376.1 L351.5 375.0 L351.8 373.9 L352.5 373.5 L353.2 373.9 Z M357.0 382.0 L356.7 382.8 L356.0 383.2 L355.3 382.8 L355.0 382.0 L355.3 381.2 L356.0 380.8 L356.7 381.2 Z M346.0 395.0 L345.7 395.7 L345.0 396.0 L344.3 395.7 L344.0 395.0 L344.3 394.3 L345.0 394.0 L345.7 394.3 Z M361.2 404.0 L360.8 404.7 L360.0 405.0 L359.2 404.7 L358.8 404.0 L359.2 403.3 L360.0 403.0 L360.8 403.3 Z M364.5 398.0 L364.2 398.9 L363.5 399.3 L362.8 398.9 L362.5 398.0 L362.8 397.1 L363.5 396.7 L364.2 397.1 Z M367.1 389.0 L366.8 390.1 L366.0 390.6 L365.2 390.1 L364.9 389.0 L365.2 387.9 L366.0 387.4 L366.8 387.9 Z M368.0 382.0 L367.7 382.8 L367.0 383.2 L366.3 382.8 L366.0 382.0 L366.3 381.2 L367.0 380.8 L367.7 381.2 Z M365.0 372.0 L364.7 373.0 L364.0 373.4 L363.3 373.0 L363.0 372.0 L363.3 371.0 L364.0 370.6 L364.7 371.0 Z M363.0 366.0 L362.7 366.7 L362.0 367.0 L361.3 366.7 L361.0 366.0 L361.3 365.3 L362.0 365.0 L362.7 365.3 Z M340.0 361.0 L339.7 361.7 L339.0 362.0 L338.3 361.7 L338.0 361.0 L338.3 360.3 L339.0 360.0 L339.7 360.3 Z M351.0 358.0 L350.7 358.7 L350.0 359.0 L349.3 358.7 L349.0 358.0 L349.3 357.3 L350.0 357.0 L350.7 357.3 Z M342.4 384.0 L342.1 384.8 L341.5 385.2 L340.9 384.8 L340.6 384.0 L340.9 383.2 L341.5 382.8 L342.1 383.2 Z M357.9 392.0 L357.6 392.9 L357.0 393.3 L356.4 392.9 L356.1 392.0 L356.4 391.1 L357.0 390.7 L357.6 391.1 Z M371.0 393.0 L370.7 394.0 L370.0 394.4 L369.3 394.0 L369.0 393.0 L369.3 392.0 L370.0 391.6 L370.7 392.0 Z M370.0 404.0 L369.7 404.7 L369.0 405.0 L368.3 404.7 L368.0 404.0 L368.3 403.3 L369.0 403.0 L369.7 403.3 Z M319.0 371.0 L318.7 371.7 L318.0 372.0 L317.3 371.7 L317.0 371.0 L317.3 370.3 L318.0 370.0 L318.7 370.3 Z M330.0 380.0 L329.7 380.7 L329.0 381.0 L328.3 380.7 L328.0 380.0 L328.3 379.3 L329.0 379.0 L329.7 379.3 Z M344.9 412.0 L344.6 412.6 L344.0 412.9 L343.4 412.6 L343.1 412.0 L343.4 411.4 L344.0 411.1 L344.6 411.4 Z M341.0 399.0 L340.7 399.7 L340.0 400.0 L339.3 399.7 L339.0 399.0 L339.3 398.3 L340.0 398.0 L340.7 398.3 Z M333.9 403.0 L333.6 403.6 L333.0 403.9 L332.4 403.6 L332.1 403.0 L332.4 402.4 L333.0 402.1 L333.6 402.4 Z M353.0 409.0 L352.7 409.7 L352.0 410.0 L351.3 409.7 L351.0 409.0 L351.3 408.3 L352.0 408.0 L352.7 408.3 Z M369.0 398.0 L368.7 398.8 L368.0 399.2 L367.3 398.8 L367.0 398.0 L367.3 397.2 L368.0 396.8 L368.7 397.2 Z M310.2 440.0 L309.8 440.7 L309.0 441.0 L308.2 440.7 L307.8 440.0 L308.2 439.3 L309.0 439.0 L309.8 439.3 Z M313.0 444.0 L312.7 444.7 L312.0 445.0 L311.3 444.7 L311.0 444.0 L311.3 443.3 L312.0 443.0 L312.7 443.3 Z M304.0 447.0 L303.7 447.7 L303.0 448.0 L302.3 447.7 L302.0 447.0 L302.3 446.3 L303.0 446.0 L303.7 446.3 Z M298.0 432.0 L297.7 432.7 L297.0 433.0 L296.3 432.7 L296.0 432.0 L296.3 431.3 L297.0 431.0 L297.7 431.3 Z M320.0 444.0 L319.7 444.7 L319.0 445.0 L318.3 444.7 L318.0 444.0 L318.3 443.3 L319.0 443.0 L319.7 443.3 Z M372.5 509.0 L372.1 509.7 L371.0 510.0 L369.9 509.7 L369.5 509.0 L369.9 508.3 L371.0 508.0 L372.1 508.3 Z M386.0 527.0 L385.7 527.7 L385.0 528.0 L384.3 527.7 L384.0 527.0 L384.3 526.3 L385.0 526.0 L385.7 526.3 Z M389.2 503.0 L388.8 503.8 L388.0 504.2 L387.2 503.8 L386.8 503.0 L387.2 502.2 L388.0 501.8 L388.8 502.2 Z M411.8 512.0 L411.3 512.8 L410.0 513.2 L408.7 512.8 L408.2 512.0 L408.7 511.2 L410.0 510.8 L411.3 511.2 Z M416.2 508.0 L415.8 508.7 L415.0 509.0 L414.2 508.7 L413.8 508.0 L414.2 507.3 L415.0 507.0 L415.8 507.3 Z M420.0 496.0 L419.4 497.0 L418.0 497.4 L416.6 497.0 L416.0 496.0 L416.6 495.0 L418.0 494.6 L419.4 495.0 Z M425.0 507.0 L424.7 507.7 L424.0 508.0 L423.3 507.7 L423.0 507.0 L423.3 506.3 L424.0 506.0 L424.7 506.3 Z M431.2 535.0 L430.8 535.7 L430.0 536.0 L429.2 535.7 L428.8 535.0 L429.2 534.3 L430.0 534.0 L430.8 534.3 Z M446.5 540.0 L446.1 540.7 L445.0 541.0 L443.9 540.7 L443.5 540.0 L443.9 539.3 L445.0 539.0 L446.1 539.3 Z M353.0 510.0 L352.7 510.7 L352.0 511.0 L351.3 510.7 L351.0 510.0 L351.3 509.3 L352.0 509.0 L352.7 509.3 Z M356.9 512.0 L356.6 512.6 L356.0 512.9 L355.4 512.6 L355.1 512.0 L355.4 511.4 L356.0 511.1 L356.6 511.4 Z" fill="#f1f0db" stroke="#000" stroke-width="2" stroke-linejoin="round" fill-rule="evenodd"/>
<path d="M400.7 122.6 L400.8 123.1 L400.8 123.3 L401.7 129.2 L403.7 131.2 L406.9 134.4 L407.3 134.8 L407.7 135.3 L408.0 135.8 L410.2 140.2 L410.3 140.6 L410.5 141.1 L410.6 141.5 L410.7 142.0 L411.5 151.2 L411.9 151.6 L414.7 153.5 L420.2 154.1 L428.2 152.7 L435.4 150.6 L435.9 150.5 L436.4 150.4 L443.5 149.8 L449.1 148.4 L449.7 148.2 L450.3 148.2 L450.8 148.2 L462.8 149.2 L462.8 108.7 L452.9 107.7 L452.4 107.6 L451.9 107.5 L451.4 107.3 L450.9 107.1 L450.5 106.8 L450.1 106.5 L449.7 106.2 L449.4 105.8 L449.1 105.4 L448.8 105.0 L448.6 104.5 L448.4 104.0 L448.3 103.6 L448.2 103.1 L448.2 102.5 L448.2 102.0 L448.3 101.5 L448.4 101.1 L448.6 100.6 L448.8 100.1 L449.0 99.7 L449.3 99.3 L449.7 98.9 L451.4 97.1 L451.7 94.8 L450.1 92.5 L448.1 91.8 L447.5 92.2 L446.4 96.3 L446.3 96.7 L446.1 97.2 L445.9 97.6 L445.6 98.1 L445.3 98.4 L444.9 98.8 L444.6 99.1 L444.2 99.4 L443.7 99.7 L443.3 99.9 L442.8 100.0 L442.3 100.1 L441.8 100.2 L441.3 100.2 L440.8 100.2 L440.3 100.1 L439.8 100.0 L439.4 99.8 L438.9 99.6 L438.5 99.3 L438.1 99.0 L437.7 98.7 L435.1 96.1 L431.6 93.9 L427.3 95.2 L422.3 98.9 L415.1 106.2 L414.8 106.4 L414.5 106.7 L409.0 110.7 L407.2 113.0 L407.7 116.7 L407.7 117.2 L407.7 117.8 L407.6 118.3 L407.5 118.8 L407.4 119.3 L407.1 119.7 L406.9 120.2 L406.6 120.6 L406.2 121.0 L405.9 121.4 L405.4 121.7 L405.0 122.0 L404.5 122.2 L404.0 122.4 L403.5 122.5 L403.0 122.6 L402.5 122.6 L400.7 122.6 Z" fill="#20938c" fill-rule="evenodd"/>
<path d="M400.7 122.6m-6.2 0a6.2 6.2 0 1 0 12.4 0a6.2 6.2 0 1 0 -12.4 0M403.1 130.6m-6.2 0a6.2 6.2 0 1 0 12.4 0a6.2 6.2 0 1 0 -12.4 0M408.7 137.2m-6.2 0a6.2 6.2 0 1 0 12.4 0a6.2 6.2 0 1 0 -12.4 0M411.0 145.5m-6.2 0a6.2 6.2 0 1 0 12.4 0a6.2 6.2 0 1 0 -12.4 0M413.9 153.0m-6.2 0a6.2 6.2 0 1 0 12.4 0a6.2 6.2 0 1 0 -12.4 0M422.3 153.7m-6.2 0a6.2 6.2 0 1 0 12.4 0a6.2 6.2 0 1 0 -12.4 0M430.9 152.0m-6.2 0a6.2 6.2 0 1 0 12.4 0a6.2 6.2 0 1 0 -12.4 0M439.3 150.2m-6.2 0a6.2 6.2 0 1 0 12.4 0a6.2 6.2 0 1 0 -12.4 0M447.9 148.7m-6.2 0a6.2 6.2 0 1 0 12.4 0a6.2 6.2 0 1 0 -12.4 0M456.5 148.7m-6.2 0a6.2 6.2 0 1 0 12.4 0a6.2 6.2 0 1 0 -12.4 0M462.8 146.9m-6.2 0a6.2 6.2 0 1 0 12.4 0a6.2 6.2 0 1 0 -12.4 0M462.8 138.2m-6.2 0a6.2 6.2 0 1 0 12.4 0a6.2 6.2 0 1 0 -12.4 0M462.8 129.5m-6.2 0a6.2 6.2 0 1 0 12.4 0a6.2 6.2 0 1 0 -12.4 0M462.8 120.8m-6.2 0a6.2 6.2 0 1 0 12.4 0a6.2 6.2 0 1 0 -12.4 0M462.8 112.1m-6.2 0a6.2 6.2 0 1 0 12.4 0a6.2 6.2 0 1 0 -12.4 0M457.5 108.2m-6.2 0a6.2 6.2 0 1 0 12.4 0a6.2 6.2 0 1 0 -12.4 0M449.4 105.8m-6.2 0a6.2 6.2 0 1 0 12.4 0a6.2 6.2 0 1 0 -12.4 0M450.4 98.1m-6.2 0a6.2 6.2 0 1 0 12.4 0a6.2 6.2 0 1 0 -12.4 0M448.0 91.8m-6.2 0a6.2 6.2 0 1 0 12.4 0a6.2 6.2 0 1 0 -12.4 0M444.3 99.3m-6.2 0a6.2 6.2 0 1 0 12.4 0a6.2 6.2 0 1 0 -12.4 0M436.6 97.6m-6.2 0a6.2 6.2 0 1 0 12.4 0a6.2 6.2 0 1 0 -12.4 0M429.3 94.6m-6.2 0a6.2 6.2 0 1 0 12.4 0a6.2 6.2 0 1 0 -12.4 0M422.0 99.2m-6.2 0a6.2 6.2 0 1 0 12.4 0a6.2 6.2 0 1 0 -12.4 0M415.9 105.4m-6.2 0a6.2 6.2 0 1 0 12.4 0a6.2 6.2 0 1 0 -12.4 0M409.0 110.7m-6.2 0a6.2 6.2 0 1 0 12.4 0a6.2 6.2 0 1 0 -12.4 0M407.5 118.7m-6.2 0a6.2 6.2 0 1 0 12.4 0a6.2 6.2 0 1 0 -12.4 0" fill="#20938c"/>
<path d="M303.2 370.7 L300.4 370.0 L299.9 369.9 L299.3 369.6 L298.8 369.3 L293.8 366.0 L293.4 365.7 L293.0 365.4 L292.7 365.0 L292.4 364.6 L292.1 364.1 L291.9 363.7 L291.7 363.2 L291.6 362.7 L291.5 362.2 L291.5 361.6 L291.5 361.1 L291.6 360.6 L291.7 360.1 L293.3 355.1 L293.4 355.0 L295.1 350.0 L295.3 349.6 L295.5 349.1 L295.8 348.7 L296.1 348.3 L296.4 347.9 L296.8 347.6 L297.2 347.3 L297.6 347.1 L303.9 343.9 L309.1 340.0 L311.2 335.0 L311.4 334.5 L311.7 334.1 L313.3 331.7 L314.9 326.7 L315.9 321.1 L316.0 320.6 L316.1 320.1 L316.3 319.7 L318.3 315.7 L318.6 315.2 L318.9 314.8 L319.2 314.4 L319.6 314.1 L320.0 313.8 L320.4 313.5 L320.9 313.3 L321.4 313.1 L327.2 311.1 L332.1 309.2 L332.6 309.0 L333.1 308.9 L333.6 308.8 L334.1 308.8 L334.6 308.8 L335.1 308.9 L335.6 309.1 L336.1 309.3 L336.6 309.5 L337.0 309.8 L337.4 310.1 L337.8 310.5 L338.1 310.9 L341.6 315.5 L342.0 315.9 L342.2 316.4 L342.4 316.9 L342.6 317.5 L342.7 318.0 L344.0 329.7 L345.2 340.2 L345.2 340.7 L345.2 341.2 L345.1 341.7 L345.0 342.2 L344.9 342.7 L343.0 347.6 L342.0 351.2 L343.1 352.1 L347.9 352.9 L348.0 352.9 L353.0 353.9 L353.5 354.0 L353.9 354.2 L358.5 356.0 L363.0 356.9 L363.5 357.0 L364.0 357.2 L364.5 357.4 L364.9 357.7 L365.4 358.0 L365.7 358.4 L366.1 358.8 L366.4 359.2 L366.7 359.7 L370.7 367.7 L370.9 368.2 L371.0 368.7 L371.1 369.2 L371.2 369.8 L371.6 379.7 L372.9 394.9 L376.7 405.0 L376.8 405.3 L376.9 405.7 L379.7 418.9 L379.8 419.4 L379.8 419.9 L379.8 420.4 L379.7 420.9 L379.6 421.4 L379.4 421.9 L379.2 422.4 L376.5 427.7 L376.3 428.1 L376.0 428.5 L375.6 428.9 L370.4 434.2 L366.5 438.7 L366.2 439.1 L365.8 439.4 L365.4 439.7 L364.9 439.9 L364.5 440.2 L364.0 440.3 L363.5 440.4 L359.5 441.1 L359.0 441.2 L358.5 441.2 L358.1 441.2 L357.6 441.1 L357.1 441.0 L356.7 440.8 L356.2 440.6 L351.2 438.1 L347.7 436.7 L343.8 437.7 L335.9 439.6 L335.2 439.8 L334.6 439.8 L328.0 439.8 L328.0 439.8 L330.8 443.5 L331.0 443.9 L331.3 444.3 L334.0 449.7 L334.2 450.1 L334.3 450.6 L334.4 451.1 L334.5 451.6 L334.5 452.1 L334.5 452.5 L334.4 453.0 L334.3 453.5 L334.1 454.0 L331.4 460.6 L331.2 461.0 L330.9 461.5 L330.6 461.9 L330.3 462.3 L326.3 466.3 L325.9 466.6 L325.6 466.9 L325.2 467.1 L324.7 467.3 L324.3 467.5 L323.8 467.7 L318.6 468.9 L315.6 469.7 L314.8 471.3 L315.5 474.8 L316.2 475.5 L318.7 474.9 L319.2 474.8 L319.7 474.7 L320.2 474.7 L320.7 474.8 L321.2 474.8 L321.7 475.0 L325.5 476.3 L327.5 476.8 L326.9 474.5 L326.9 474.0 L326.8 473.5 L326.8 473.0 L326.9 472.5 L327.0 472.0 L327.1 471.5 L327.3 471.0 L327.6 470.6 L327.9 470.2 L328.2 469.8 L328.6 469.4 L329.0 469.1 L329.4 468.8 L329.8 468.6 L330.3 468.4 L330.8 468.2 L331.3 468.1 L331.8 468.1 L332.4 468.1 L332.9 468.2 L333.4 468.3 L333.9 468.4 L334.3 468.6 L336.4 469.7 L339.0 470.3 L339.9 469.7 L341.9 465.6 L342.2 465.2 L342.4 464.8 L346.4 459.5 L346.8 459.1 L347.2 458.7 L347.6 458.4 L348.0 458.1 L348.5 457.9 L348.9 457.7 L349.4 457.5 L350.0 457.4 L350.5 457.4 L351.0 457.4 L351.5 457.5 L352.0 457.6 L352.5 457.8 L353.0 458.0 L353.4 458.2 L353.9 458.5 L354.2 458.9 L354.6 459.3 L354.9 459.7 L357.6 463.7 L357.7 463.8 L359.3 466.2 L361.5 467.0 L362.1 467.2 L365.8 468.9 L366.2 469.1 L366.7 469.4 L367.1 469.7 L367.4 470.1 L367.8 470.5 L368.1 470.9 L368.3 471.4 L368.5 471.9 L368.7 472.4 L368.7 472.9 L371.5 492.4 L374.2 500.5 L374.4 501.0 L374.5 501.6 L374.5 502.1 L374.5 502.6 L374.4 503.1 L374.3 503.6 L371.4 513.6 L371.2 514.1 L369.0 519.9 L369.8 523.9 L371.5 525.6 L372.2 525.6 L372.8 522.8 L374.2 513.0 L374.2 512.5 L374.4 512.0 L374.5 511.6 L374.8 511.2 L375.0 510.8 L375.3 510.4 L375.6 510.0 L379.9 505.7 L380.5 505.2 L384.7 502.0 L385.3 499.9 L383.5 496.4 L379.4 491.0 L379.2 490.6 L379.0 490.2 L378.8 489.8 L376.0 482.7 L375.8 482.3 L375.7 481.9 L374.2 474.7 L374.1 474.1 L374.1 473.6 L374.1 473.1 L374.2 472.6 L374.3 472.1 L374.5 471.6 L374.7 471.1 L375.0 470.7 L377.9 466.4 L378.2 466.0 L378.6 465.6 L378.9 465.2 L379.4 464.9 L379.8 464.7 L380.3 464.5 L380.7 464.3 L376.0 464.3 L375.8 464.3 L375.7 464.3 L375.2 464.2 L375.2 464.2 L374.7 464.1 L374.6 464.1 L374.1 464.0 L374.1 464.0 L373.6 463.8 L373.6 463.8 L373.1 463.5 L373.1 463.5 L372.9 463.4 L368.9 460.8 L368.7 460.6 L368.6 460.6 L368.2 460.3 L368.2 460.3 L367.8 459.9 L367.8 459.9 L367.5 459.5 L367.4 459.4 L367.2 459.0 L367.1 459.0 L366.9 458.5 L366.9 458.5 L366.7 458.0 L366.6 457.9 L366.5 457.4 L366.5 457.4 L366.4 456.9 L366.4 456.8 L366.3 456.3 L366.3 456.3 L366.3 455.8 L366.3 455.7 L366.4 455.2 L366.4 455.2 L366.5 454.7 L366.5 454.6 L366.6 454.1 L366.6 454.1 L366.8 453.6 L366.9 453.5 L367.1 453.1 L367.1 453.1 L367.4 452.6 L367.4 452.6 L367.8 452.2 L367.8 452.2 L368.2 451.8 L368.2 451.8 L368.6 451.4 L368.6 451.4 L369.1 451.1 L369.1 451.1 L369.6 450.8 L369.6 450.8 L369.8 450.7 L376.0 448.2 L380.9 445.2 L381.1 445.0 L381.1 445.0 L381.5 444.8 L381.6 444.8 L382.0 444.6 L382.1 444.6 L382.5 444.5 L382.6 444.5 L383.0 444.4 L383.1 444.4 L383.3 444.3 L390.0 443.6 L390.3 443.6 L390.3 443.6 L390.8 443.6 L390.9 443.6 L391.4 443.7 L391.4 443.7 L392.0 443.8 L392.0 443.8 L392.5 443.9 L392.5 443.9 L393.0 444.1 L393.1 444.2 L393.5 444.4 L393.6 444.4 L393.8 444.6 L397.8 447.3 L398.0 447.4 L398.0 447.4 L398.4 447.8 L398.5 447.8 L398.8 448.2 L398.8 448.2 L399.2 448.6 L399.2 448.6 L399.5 449.0 L399.5 449.1 L399.7 449.5 L399.7 449.5 L399.9 450.0 L400.0 450.1 L400.1 450.5 L400.1 450.6 L400.2 451.1 L400.2 451.1 L400.3 451.6 L400.3 451.7 L400.3 452.2 L400.3 452.2 L400.3 452.7 L400.3 452.7 L400.2 453.2 L400.2 453.3 L400.0 453.8 L400.0 453.8 L399.8 454.3 L399.8 454.3 L399.7 454.5 L398.4 457.1 L398.3 457.4 L398.2 457.4 L398.0 457.9 L397.9 457.9 L397.6 458.3 L397.6 458.4 L397.2 458.8 L397.2 458.8 L396.8 459.1 L396.7 459.2 L396.3 459.5 L396.2 459.5 L395.8 459.7 L395.7 459.8 L395.2 460.0 L395.2 460.0 L394.9 460.1 L388.9 461.9 L389.0 461.9 L389.5 462.0 L390.0 462.2 L390.4 462.4 L397.5 466.1 L398.0 466.4 L398.4 466.7 L398.8 467.0 L399.1 467.4 L399.5 467.9 L399.7 468.3 L399.9 468.8 L402.7 475.8 L406.5 483.4 L410.8 487.8 L416.6 490.1 L423.2 491.4 L429.9 492.7 L435.8 492.6 L446.4 491.8 L447.1 491.8 L447.7 491.9 L451.4 492.5 L456.1 490.7 L456.6 490.5 L457.2 490.4 L462.8 489.5 L462.8 171.6 L460.4 172.2 L452.0 178.1 L451.7 178.3 L442.8 183.6 L436.3 188.5 L431.3 195.2 L430.8 195.8 L419.8 206.8 L419.4 207.1 L419.0 207.4 L418.6 207.7 L418.2 207.9 L417.7 208.0 L417.2 208.2 L416.7 208.3 L409.4 209.2 L408.8 209.2 L408.2 209.2 L402.1 208.4 L397.2 210.3 L392.5 215.7 L392.3 216.0 L387.8 220.5 L386.3 226.3 L386.2 226.8 L386.0 227.2 L385.8 227.7 L385.6 228.1 L385.3 228.4 L385.0 228.8 L379.5 234.3 L378.9 234.8 L371.6 240.3 L371.6 240.3 L364.2 245.8 L363.8 246.0 L363.4 246.2 L363.0 246.4 L354.1 249.9 L347.8 253.2 L341.0 259.9 L340.6 260.3 L340.1 260.6 L337.3 262.4 L336.4 264.6 L335.1 269.6 L334.1 274.1 L334.0 274.3 L332.5 280.3 L332.4 280.8 L332.2 281.2 L331.9 281.7 L331.6 282.1 L331.3 282.5 L330.9 282.9 L330.5 283.2 L330.1 283.5 L326.6 285.5 L326.1 285.7 L325.7 285.9 L325.2 286.1 L324.7 286.2 L324.2 286.2 L323.7 286.2 L323.2 286.1 L322.7 286.0 L322.3 285.9 L321.8 285.7 L321.4 285.5 L320.9 285.2 L320.5 284.9 L320.2 284.5 L317.4 281.5 L316.1 281.3 L311.1 284.4 L310.7 284.6 L310.2 284.8 L303.8 287.4 L301.6 291.8 L300.0 298.0 L299.8 298.6 L296.5 306.9 L296.3 307.4 L296.1 307.8 L295.8 308.2 L295.5 308.6 L295.1 308.9 L294.7 309.2 L294.3 309.5 L293.9 309.7 L293.4 309.9 L293.0 310.0 L286.3 311.7 L285.8 311.8 L285.3 311.9 L284.8 311.9 L284.3 311.9 L283.8 311.8 L283.4 311.6 L282.9 311.5 L282.5 311.2 L282.1 311.0 L280.5 309.9 L279.7 310.7 L278.3 319.1 L278.2 319.6 L278.0 320.1 L274.7 328.5 L274.5 328.9 L274.3 329.4 L274.0 329.8 L273.7 330.1 L273.4 330.5 L273.0 330.8 L272.6 331.0 L272.2 331.3 L265.5 334.6 L265.0 334.8 L264.4 335.0 L263.8 335.1 L257.2 335.9 L256.7 335.9 L256.2 335.9 L244.5 335.1 L244.1 335.0 L243.7 334.9 L243.2 334.8 L238.2 333.1 L237.8 332.9 L231.2 330.0 L229.1 330.7 L224.8 334.1 L224.4 334.4 L222.8 335.4 L223.0 336.0 L226.0 340.4 L226.3 340.8 L226.5 341.2 L226.7 341.7 L227.9 345.7 L230.9 349.2 L237.2 349.8 L237.7 349.9 L238.2 350.0 L238.7 350.2 L239.1 350.4 L239.6 350.7 L240.0 351.0 L240.4 351.3 L240.7 351.7 L241.0 352.1 L241.3 352.6 L241.5 353.0 L241.7 353.5 L241.8 354.0 L243.4 362.3 L243.5 362.8 L243.5 363.2 L243.5 363.7 L242.8 372.6 L243.6 374.8 L245.0 374.8 L250.2 370.9 L250.6 370.6 L251.0 370.3 L251.4 370.1 L251.9 370.0 L252.4 369.9 L252.9 369.8 L253.4 369.8 L253.8 369.8 L254.3 369.9 L262.7 371.6 L263.2 371.7 L263.7 371.9 L264.2 372.1 L264.6 372.4 L265.0 372.7 L265.4 373.1 L265.8 373.4 L266.1 373.9 L266.3 374.3 L266.5 374.8 L268.9 380.8 L269.6 381.1 L274.3 378.7 L274.8 378.4 L275.4 378.3 L275.9 378.2 L285.4 376.6 L291.5 374.3 L291.9 374.2 L292.4 374.1 L301.0 372.6 L303.2 370.7 Z M405.7 464.9 L406.0 464.5 L406.0 464.4 L406.4 464.0 L406.4 464.0 L406.8 463.7 L406.9 463.6 L407.3 463.3 L407.3 463.3 L407.8 463.0 L407.8 463.0 L408.3 462.8 L408.3 462.7 L408.8 462.6 L408.9 462.5 L409.4 462.4 L409.4 462.4 L409.9 462.3 L410.0 462.3 L410.5 462.3 L410.6 462.3 L411.1 462.3 L411.1 462.3 L411.6 462.4 L411.7 462.4 L412.2 462.6 L412.3 462.6 L412.7 462.8 L412.8 462.8 L413.3 463.0 L413.3 463.0 L413.7 463.3 L413.8 463.3 L414.2 463.7 L414.2 463.7 L414.6 464.1 L414.7 464.1 L414.8 464.3 L417.8 467.8 L418.0 468.0 L418.0 468.0 L418.3 468.4 L418.3 468.5 L418.6 468.9 L418.6 468.9 L418.8 469.4 L418.8 469.4 L419.0 469.9 L419.0 469.9 L419.1 470.4 L419.1 470.5 L419.2 471.0 L419.2 471.0 L419.2 471.5 L419.2 471.5 L419.2 472.0 L419.2 472.1 L419.1 472.6 L419.1 472.6 L419.0 473.1 L419.0 473.1 L418.8 473.6 L418.8 473.7 L418.6 474.1 L418.6 474.1 L418.3 474.6 L418.3 474.6 L418.1 474.8 L415.6 478.3 L415.5 478.5 L415.5 478.6 L415.1 479.0 L415.1 479.0 L414.7 479.3 L414.7 479.4 L414.2 479.7 L414.2 479.7 L413.8 480.0 L413.7 480.0 L413.2 480.2 L413.2 480.3 L412.7 480.4 L412.7 480.5 L412.2 480.6 L412.1 480.6 L411.6 480.7 L411.5 480.7 L411.0 480.7 L411.0 480.7 L410.5 480.7 L410.4 480.7 L409.9 480.6 L409.8 480.6 L409.3 480.5 L409.3 480.4 L408.8 480.3 L408.8 480.2 L408.3 480.0 L408.2 480.0 L407.8 479.7 L407.8 479.7 L407.3 479.4 L407.3 479.3 L406.9 479.0 L406.9 479.0 L406.5 478.6 L406.5 478.5 L406.4 478.3 L403.9 474.8 L403.7 474.6 L403.7 474.6 L403.4 474.1 L403.4 474.1 L403.2 473.7 L403.2 473.6 L403.0 473.1 L403.0 473.1 L402.9 472.6 L402.9 472.6 L402.8 472.1 L402.8 472.0 L402.8 471.5 L402.8 471.5 L402.8 471.0 L402.8 471.0 L402.9 470.5 L402.9 470.4 L403.0 469.9 L403.0 469.9 L403.2 469.4 L403.2 469.4 L403.4 468.9 L403.4 468.9 L403.6 468.7 L405.6 465.2 L405.7 464.9 L405.7 464.9 Z M412.6 211.7 L413.0 212.0 L413.0 212.0 L413.4 212.4 L413.5 212.4 L413.8 212.8 L413.9 212.8 L414.2 213.2 L414.2 213.3 L414.5 213.7 L414.5 213.7 L414.7 214.2 L414.7 214.3 L414.9 214.7 L414.9 214.8 L415.1 215.3 L415.1 215.3 L415.2 215.8 L415.2 215.9 L415.2 216.4 L415.2 216.4 L415.2 217.0 L415.2 217.0 L415.1 217.5 L415.1 217.6 L415.0 218.1 L415.0 218.1 L414.8 218.6 L414.8 218.6 L414.6 219.1 L414.5 219.1 L414.4 219.4 L407.4 231.4 L407.3 231.6 L407.3 231.6 L407.0 232.0 L406.9 232.1 L406.6 232.4 L406.6 232.5 L406.2 232.8 L406.2 232.8 L405.8 233.2 L405.8 233.2 L405.5 233.3 L397.1 238.6 L388.3 252.5 L388.2 252.8 L388.1 252.8 L387.8 253.2 L387.8 253.3 L387.4 253.6 L387.4 253.7 L387.0 254.0 L387.0 254.0 L386.5 254.3 L386.5 254.3 L386.0 254.6 L386.0 254.6 L385.5 254.8 L385.5 254.8 L385.0 255.0 L384.9 255.0 L384.4 255.1 L384.4 255.1 L383.9 255.2 L383.8 255.2 L383.3 255.2 L383.3 255.2 L382.7 255.1 L382.7 255.1 L382.2 255.0 L382.1 255.0 L381.6 254.9 L381.6 254.9 L381.1 254.7 L381.1 254.7 L380.6 254.4 L380.6 254.4 L380.1 254.1 L380.1 254.1 L379.7 253.7 L379.7 253.7 L379.5 253.5 L378.5 252.5 L378.3 252.3 L378.3 252.3 L377.9 251.9 L377.9 251.9 L377.6 251.4 L377.6 251.4 L377.3 250.9 L377.3 250.9 L377.1 250.4 L377.1 250.3 L377.0 249.8 L376.9 249.8 L376.9 249.3 L376.8 249.2 L376.8 248.7 L376.8 248.6 L376.8 248.1 L376.8 248.1 L376.9 247.5 L376.9 247.5 L377.0 247.0 L377.0 246.9 L377.2 246.4 L377.2 246.4 L377.4 245.9 L377.4 245.9 L377.6 245.6 L386.6 230.1 L386.7 229.9 L386.7 229.9 L387.0 229.5 L387.0 229.4 L387.4 229.1 L387.4 229.0 L387.8 228.7 L387.8 228.7 L388.2 228.3 L388.2 228.3 L388.5 228.2 L396.9 222.9 L403.2 212.9 L403.3 212.7 L403.4 212.7 L403.7 212.3 L403.7 212.3 L404.0 211.9 L404.1 211.9 L404.4 211.6 L404.5 211.5 L404.9 211.2 L404.9 211.2 L405.3 211.0 L405.4 210.9 L405.8 210.7 L405.9 210.7 L406.3 210.6 L406.4 210.5 L406.8 210.4 L406.9 210.4 L407.4 210.3 L407.4 210.3 L407.9 210.3 L408.0 210.3 L408.5 210.3 L408.5 210.3 L409.0 210.4 L409.0 210.4 L409.5 210.5 L409.6 210.5 L409.8 210.6 L411.3 211.1 L411.5 211.2 L411.6 211.2 L412.1 211.4 L412.1 211.4 L412.5 211.7 L412.6 211.7 Z" fill="#218f8d" fill-rule="evenodd"/>
<path d="M303.2 370.7m-6.2 0a6.2 6.2 0 1 0 12.4 0a6.2 6.2 0 1 0 -12.4 0M295.5 367.2m-6.2 0a6.2 6.2 0 1 0 12.4 0a6.2 6.2 0 1 0 -12.4 0M291.7 360.4m-6.2 0a6.2 6.2 0 1 0 12.4 0a6.2 6.2 0 1 0 -12.4 0M294.3 352.3m-6.2 0a6.2 6.2 0 1 0 12.4 0a6.2 6.2 0 1 0 -12.4 0M299.5 346.1m-6.2 0a6.2 6.2 0 1 0 12.4 0a6.2 6.2 0 1 0 -12.4 0M306.8 341.7m-6.2 0a6.2 6.2 0 1 0 12.4 0a6.2 6.2 0 1 0 -12.4 0M311.3 334.8m-6.2 0a6.2 6.2 0 1 0 12.4 0a6.2 6.2 0 1 0 -12.4 0M314.8 327.1m-6.2 0a6.2 6.2 0 1 0 12.4 0a6.2 6.2 0 1 0 -12.4 0M316.7 318.9m-6.2 0a6.2 6.2 0 1 0 12.4 0a6.2 6.2 0 1 0 -12.4 0M322.2 312.8m-6.2 0a6.2 6.2 0 1 0 12.4 0a6.2 6.2 0 1 0 -12.4 0M330.2 309.9m-6.2 0a6.2 6.2 0 1 0 12.4 0a6.2 6.2 0 1 0 -12.4 0M337.9 310.6m-6.2 0a6.2 6.2 0 1 0 12.4 0a6.2 6.2 0 1 0 -12.4 0M342.6 317.7m-6.2 0a6.2 6.2 0 1 0 12.4 0a6.2 6.2 0 1 0 -12.4 0M343.6 326.1m-6.2 0a6.2 6.2 0 1 0 12.4 0a6.2 6.2 0 1 0 -12.4 0M344.5 334.6m-6.2 0a6.2 6.2 0 1 0 12.4 0a6.2 6.2 0 1 0 -12.4 0M344.7 343.0m-6.2 0a6.2 6.2 0 1 0 12.4 0a6.2 6.2 0 1 0 -12.4 0M342.0 351.0m-6.2 0a6.2 6.2 0 1 0 12.4 0a6.2 6.2 0 1 0 -12.4 0M349.9 353.3m-6.2 0a6.2 6.2 0 1 0 12.4 0a6.2 6.2 0 1 0 -12.4 0M358.0 355.8m-6.2 0a6.2 6.2 0 1 0 12.4 0a6.2 6.2 0 1 0 -12.4 0M365.9 358.6m-6.2 0a6.2 6.2 0 1 0 12.4 0a6.2 6.2 0 1 0 -12.4 0M369.9 366.1m-6.2 0a6.2 6.2 0 1 0 12.4 0a6.2 6.2 0 1 0 -12.4 0M371.4 374.3m-6.2 0a6.2 6.2 0 1 0 12.4 0a6.2 6.2 0 1 0 -12.4 0M371.9 382.8m-6.2 0a6.2 6.2 0 1 0 12.4 0a6.2 6.2 0 1 0 -12.4 0M372.6 391.3m-6.2 0a6.2 6.2 0 1 0 12.4 0a6.2 6.2 0 1 0 -12.4 0M374.6 399.5m-6.2 0a6.2 6.2 0 1 0 12.4 0a6.2 6.2 0 1 0 -12.4 0M377.3 407.5m-6.2 0a6.2 6.2 0 1 0 12.4 0a6.2 6.2 0 1 0 -12.4 0M379.0 415.9m-6.2 0a6.2 6.2 0 1 0 12.4 0a6.2 6.2 0 1 0 -12.4 0M378.4 424.0m-6.2 0a6.2 6.2 0 1 0 12.4 0a6.2 6.2 0 1 0 -12.4 0M373.6 431.0m-6.2 0a6.2 6.2 0 1 0 12.4 0a6.2 6.2 0 1 0 -12.4 0M367.8 437.2m-6.2 0a6.2 6.2 0 1 0 12.4 0a6.2 6.2 0 1 0 -12.4 0M360.6 440.9m-6.2 0a6.2 6.2 0 1 0 12.4 0a6.2 6.2 0 1 0 -12.4 0M352.6 438.8m-6.2 0a6.2 6.2 0 1 0 12.4 0a6.2 6.2 0 1 0 -12.4 0M344.6 437.5m-6.2 0a6.2 6.2 0 1 0 12.4 0a6.2 6.2 0 1 0 -12.4 0M336.3 439.5m-6.2 0a6.2 6.2 0 1 0 12.4 0a6.2 6.2 0 1 0 -12.4 0M328.1 439.9m-6.2 0a6.2 6.2 0 1 0 12.4 0a6.2 6.2 0 1 0 -12.4 0M332.6 447.0m-6.2 0a6.2 6.2 0 1 0 12.4 0a6.2 6.2 0 1 0 -12.4 0M333.7 455.0m-6.2 0a6.2 6.2 0 1 0 12.4 0a6.2 6.2 0 1 0 -12.4 0M330.0 462.6m-6.2 0a6.2 6.2 0 1 0 12.4 0a6.2 6.2 0 1 0 -12.4 0M323.4 467.8m-6.2 0a6.2 6.2 0 1 0 12.4 0a6.2 6.2 0 1 0 -12.4 0M315.4 470.1m-6.2 0a6.2 6.2 0 1 0 12.4 0a6.2 6.2 0 1 0 -12.4 0M318.8 474.9m-6.2 0a6.2 6.2 0 1 0 12.4 0a6.2 6.2 0 1 0 -12.4 0M327.0 476.7m-6.2 0a6.2 6.2 0 1 0 12.4 0a6.2 6.2 0 1 0 -12.4 0M328.5 469.4m-6.2 0a6.2 6.2 0 1 0 12.4 0a6.2 6.2 0 1 0 -12.4 0M336.4 469.7m-6.2 0a6.2 6.2 0 1 0 12.4 0a6.2 6.2 0 1 0 -12.4 0M342.0 465.5m-6.2 0a6.2 6.2 0 1 0 12.4 0a6.2 6.2 0 1 0 -12.4 0M347.2 458.7m-6.2 0a6.2 6.2 0 1 0 12.4 0a6.2 6.2 0 1 0 -12.4 0M354.7 459.4m-6.2 0a6.2 6.2 0 1 0 12.4 0a6.2 6.2 0 1 0 -12.4 0M359.6 466.3m-6.2 0a6.2 6.2 0 1 0 12.4 0a6.2 6.2 0 1 0 -12.4 0M367.3 469.9m-6.2 0a6.2 6.2 0 1 0 12.4 0a6.2 6.2 0 1 0 -12.4 0M369.5 478.0m-6.2 0a6.2 6.2 0 1 0 12.4 0a6.2 6.2 0 1 0 -12.4 0M370.6 486.4m-6.2 0a6.2 6.2 0 1 0 12.4 0a6.2 6.2 0 1 0 -12.4 0M372.3 494.7m-6.2 0a6.2 6.2 0 1 0 12.4 0a6.2 6.2 0 1 0 -12.4 0M374.4 502.9m-6.2 0a6.2 6.2 0 1 0 12.4 0a6.2 6.2 0 1 0 -12.4 0M372.1 511.1m-6.2 0a6.2 6.2 0 1 0 12.4 0a6.2 6.2 0 1 0 -12.4 0M369.3 519.1m-6.2 0a6.2 6.2 0 1 0 12.4 0a6.2 6.2 0 1 0 -12.4 0M372.3 525.2m-6.2 0a6.2 6.2 0 1 0 12.4 0a6.2 6.2 0 1 0 -12.4 0M373.6 516.8m-6.2 0a6.2 6.2 0 1 0 12.4 0a6.2 6.2 0 1 0 -12.4 0M376.5 509.1m-6.2 0a6.2 6.2 0 1 0 12.4 0a6.2 6.2 0 1 0 -12.4 0M382.9 503.4m-6.2 0a6.2 6.2 0 1 0 12.4 0a6.2 6.2 0 1 0 -12.4 0M383.5 496.4m-6.2 0a6.2 6.2 0 1 0 12.4 0a6.2 6.2 0 1 0 -12.4 0M378.6 489.4m-6.2 0a6.2 6.2 0 1 0 12.4 0a6.2 6.2 0 1 0 -12.4 0M375.6 481.4m-6.2 0a6.2 6.2 0 1 0 12.4 0a6.2 6.2 0 1 0 -12.4 0M374.1 473.1m-6.2 0a6.2 6.2 0 1 0 12.4 0a6.2 6.2 0 1 0 -12.4 0M378.4 465.8m-6.2 0a6.2 6.2 0 1 0 12.4 0a6.2 6.2 0 1 0 -12.4 0M375.0 464.2m-6.2 0a6.2 6.2 0 1 0 12.4 0a6.2 6.2 0 1 0 -12.4 0M367.8 459.8m-6.2 0a6.2 6.2 0 1 0 12.4 0a6.2 6.2 0 1 0 -12.4 0M367.9 452.1m-6.2 0a6.2 6.2 0 1 0 12.4 0a6.2 6.2 0 1 0 -12.4 0M375.5 448.4m-6.2 0a6.2 6.2 0 1 0 12.4 0a6.2 6.2 0 1 0 -12.4 0M382.9 444.4m-6.2 0a6.2 6.2 0 1 0 12.4 0a6.2 6.2 0 1 0 -12.4 0M391.4 443.7m-6.2 0a6.2 6.2 0 1 0 12.4 0a6.2 6.2 0 1 0 -12.4 0M398.6 448.0m-6.2 0a6.2 6.2 0 1 0 12.4 0a6.2 6.2 0 1 0 -12.4 0M399.1 455.8m-6.2 0a6.2 6.2 0 1 0 12.4 0a6.2 6.2 0 1 0 -12.4 0M392.7 460.7m-6.2 0a6.2 6.2 0 1 0 12.4 0a6.2 6.2 0 1 0 -12.4 0M392.9 463.7m-6.2 0a6.2 6.2 0 1 0 12.4 0a6.2 6.2 0 1 0 -12.4 0M399.8 468.5m-6.2 0a6.2 6.2 0 1 0 12.4 0a6.2 6.2 0 1 0 -12.4 0M403.0 476.4m-6.2 0a6.2 6.2 0 1 0 12.4 0a6.2 6.2 0 1 0 -12.4 0M406.9 483.9m-6.2 0a6.2 6.2 0 1 0 12.4 0a6.2 6.2 0 1 0 -12.4 0M413.6 488.9m-6.2 0a6.2 6.2 0 1 0 12.4 0a6.2 6.2 0 1 0 -12.4 0M421.8 491.1m-6.2 0a6.2 6.2 0 1 0 12.4 0a6.2 6.2 0 1 0 -12.4 0M430.2 492.7m-6.2 0a6.2 6.2 0 1 0 12.4 0a6.2 6.2 0 1 0 -12.4 0M438.7 492.4m-6.2 0a6.2 6.2 0 1 0 12.4 0a6.2 6.2 0 1 0 -12.4 0M447.1 491.8m-6.2 0a6.2 6.2 0 1 0 12.4 0a6.2 6.2 0 1 0 -12.4 0M455.3 491.0m-6.2 0a6.2 6.2 0 1 0 12.4 0a6.2 6.2 0 1 0 -12.4 0M462.8 488.7m-6.2 0a6.2 6.2 0 1 0 12.4 0a6.2 6.2 0 1 0 -12.4 0M462.8 480.2m-6.2 0a6.2 6.2 0 1 0 12.4 0a6.2 6.2 0 1 0 -12.4 0M462.8 471.7m-6.2 0a6.2 6.2 0 1 0 12.4 0a6.2 6.2 0 1 0 -12.4 0M462.8 463.1m-6.2 0a6.2 6.2 0 1 0 12.4 0a6.2 6.2 0 1 0 -12.4 0M462.8 454.6m-6.2 0a6.2 6.2 0 1 0 12.4 0a6.2 6.2 0 1 0 -12.4 0M462.8 446.1m-6.2 0a6.2 6.2 0 1 0 12.4 0a6.2 6.2 0 1 0 -12.4 0M462.8 437.6m-6.2 0a6.2 6.2 0 1 0 12.4 0a6.2 6.2 0 1 0 -12.4 0M462.8 429.1m-6.2 0a6.2 6.2 0 1 0 12.4 0a6.2 6.2 0 1 0 -12.4 0M462.8 420.6m-6.2 0a6.2 6.2 0 1 0 12.4 0a6.2 6.2 0 1 0 -12.4 0M462.8 412.1m-6.2 0a6.2 6.2 0 1 0 12.4 0a6.2 6.2 0 1 0 -12.4 0M462.8 403.6m-6.2 0a6.2 6.2 0 1 0 12.4 0a6.2 6.2 0 1 0 -12.4 0M462.8 395.0m-6.2 0a6.2 6.2 0 1 0 12.4 0a6.2 6.2 0 1 0 -12.4 0M462.8 386.5m-6.2 0a6.2 6.2 0 1 0 12.4 0a6.2 6.2 0 1 0 -12.4 0M462.8 378.0m-6.2 0a6.2 6.2 0 1 0 12.4 0a6.2 6.2 0 1 0 -12.4 0M462.8 369.5m-6.2 0a6.2 6.2 0 1 0 12.4 0a6.2 6.2 0 1 0 -12.4 0M462.8 361.0m-6.2 0a6.2 6.2 0 1 0 12.4 0a6.2 6.2 0 1 0 -12.4 0M462.8 352.5m-6.2 0a6.2 6.2 0 1 0 12.4 0a6.2 6.2 0 1 0 -12.4 0M462.8 344.0m-6.2 0a6.2 6.2 0 1 0 12.4 0a6.2 6.2 0 1 0 -12.4 0M462.8 335.5m-6.2 0a6.2 6.2 0 1 0 12.4 0a6.2 6.2 0 1 0 -12.4 0M462.8 326.9m-6.2 0a6.2 6.2 0 1 0 12.4 0a6.2 6.2 0 1 0 -12.4 0M462.8 318.4m-6.2 0a6.2 6.2 0 1 0 12.4 0a6.2 6.2 0 1 0 -12.4 0M462.8 309.9m-6.2 0a6.2 6.2 0 1 0 12.4 0a6.2 6.2 0 1 0 -12.4 0M462.8 301.4m-6.2 0a6.2 6.2 0 1 0 12.4 0a6.2 6.2 0 1 0 -12.4 0M462.8 292.9m-6.2 0a6.2 6.2 0 1 0 12.4 0a6.2 6.2 0 1 0 -12.4 0M462.8 284.4m-6.2 0a6.2 6.2 0 1 0 12.4 0a6.2 6.2 0 1 0 -12.4 0M462.8 275.9m-6.2 0a6.2 6.2 0 1 0 12.4 0a6.2 6.2 0 1 0 -12.4 0M462.8 267.4m-6.2 0a6.2 6.2 0 1 0 12.4 0a6.2 6.2 0 1 0 -12.4 0M462.8 258.9m-6.2 0a6.2 6.2 0 1 0 12.4 0a6.2 6.2 0 1 0 -12.4 0M462.8 250.3m-6.2 0a6.2 6.2 0 1 0 12.4 0a6.2 6.2 0 1 0 -12.4 0M462.8 241.8m-6.2 0a6.2 6.2 0 1 0 12.4 0a6.2 6.2 0 1 0 -12.4 0M462.8 233.3m-6.2 0a6.2 6.2 0 1 0 12.4 0a6.2 6.2 0 1 0 -12.4 0M462.8 224.8m-6.2 0a6.2 6.2 0 1 0 12.4 0a6.2 6.2 0 1 0 -12.4 0M462.8 216.3m-6.2 0a6.2 6.2 0 1 0 12.4 0a6.2 6.2 0 1 0 -12.4 0M462.8 207.8m-6.2 0a6.2 6.2 0 1 0 12.4 0a6.2 6.2 0 1 0 -12.4 0M462.8 199.3m-6.2 0a6.2 6.2 0 1 0 12.4 0a6.2 6.2 0 1 0 -12.4 0M462.8 190.8m-6.2 0a6.2 6.2 0 1 0 12.4 0a6.2 6.2 0 1 0 -12.4 0M462.8 182.2m-6.2 0a6.2 6.2 0 1 0 12.4 0a6.2 6.2 0 1 0 -12.4 0M462.8 173.7m-6.2 0a6.2 6.2 0 1 0 12.4 0a6.2 6.2 0 1 0 -12.4 0M457.2 174.5m-6.2 0a6.2 6.2 0 1 0 12.4 0a6.2 6.2 0 1 0 -12.4 0M450.1 179.2m-6.2 0a6.2 6.2 0 1 0 12.4 0a6.2 6.2 0 1 0 -12.4 0M442.8 183.6m-6.2 0a6.2 6.2 0 1 0 12.4 0a6.2 6.2 0 1 0 -12.4 0M436.1 188.8m-6.2 0a6.2 6.2 0 1 0 12.4 0a6.2 6.2 0 1 0 -12.4 0M430.9 195.6m-6.2 0a6.2 6.2 0 1 0 12.4 0a6.2 6.2 0 1 0 -12.4 0M424.9 201.6m-6.2 0a6.2 6.2 0 1 0 12.4 0a6.2 6.2 0 1 0 -12.4 0M418.8 207.5m-6.2 0a6.2 6.2 0 1 0 12.4 0a6.2 6.2 0 1 0 -12.4 0M410.5 209.0m-6.2 0a6.2 6.2 0 1 0 12.4 0a6.2 6.2 0 1 0 -12.4 0M402.1 208.4m-6.2 0a6.2 6.2 0 1 0 12.4 0a6.2 6.2 0 1 0 -12.4 0M395.0 212.8m-6.2 0a6.2 6.2 0 1 0 12.4 0a6.2 6.2 0 1 0 -12.4 0M389.2 219.0m-6.2 0a6.2 6.2 0 1 0 12.4 0a6.2 6.2 0 1 0 -12.4 0M386.2 226.7m-6.2 0a6.2 6.2 0 1 0 12.4 0a6.2 6.2 0 1 0 -12.4 0M380.7 233.1m-6.2 0a6.2 6.2 0 1 0 12.4 0a6.2 6.2 0 1 0 -12.4 0M374.1 238.4m-6.2 0a6.2 6.2 0 1 0 12.4 0a6.2 6.2 0 1 0 -12.4 0M367.2 243.5m-6.2 0a6.2 6.2 0 1 0 12.4 0a6.2 6.2 0 1 0 -12.4 0M359.9 247.7m-6.2 0a6.2 6.2 0 1 0 12.4 0a6.2 6.2 0 1 0 -12.4 0M352.1 251.0m-6.2 0a6.2 6.2 0 1 0 12.4 0a6.2 6.2 0 1 0 -12.4 0M345.1 255.8m-6.2 0a6.2 6.2 0 1 0 12.4 0a6.2 6.2 0 1 0 -12.4 0M338.8 261.4m-6.2 0a6.2 6.2 0 1 0 12.4 0a6.2 6.2 0 1 0 -12.4 0M335.3 268.8m-6.2 0a6.2 6.2 0 1 0 12.4 0a6.2 6.2 0 1 0 -12.4 0M333.3 277.1m-6.2 0a6.2 6.2 0 1 0 12.4 0a6.2 6.2 0 1 0 -12.4 0M329.2 284.0m-6.2 0a6.2 6.2 0 1 0 12.4 0a6.2 6.2 0 1 0 -12.4 0M321.3 285.4m-6.2 0a6.2 6.2 0 1 0 12.4 0a6.2 6.2 0 1 0 -12.4 0M314.7 282.1m-6.2 0a6.2 6.2 0 1 0 12.4 0a6.2 6.2 0 1 0 -12.4 0M307.2 286.0m-6.2 0a6.2 6.2 0 1 0 12.4 0a6.2 6.2 0 1 0 -12.4 0M301.6 291.7m-6.2 0a6.2 6.2 0 1 0 12.4 0a6.2 6.2 0 1 0 -12.4 0M299.3 299.9m-6.2 0a6.2 6.2 0 1 0 12.4 0a6.2 6.2 0 1 0 -12.4 0M296.1 307.8m-6.2 0a6.2 6.2 0 1 0 12.4 0a6.2 6.2 0 1 0 -12.4 0M288.5 311.2m-6.2 0a6.2 6.2 0 1 0 12.4 0a6.2 6.2 0 1 0 -12.4 0M280.6 310.0m-6.2 0a6.2 6.2 0 1 0 12.4 0a6.2 6.2 0 1 0 -12.4 0M278.5 317.9m-6.2 0a6.2 6.2 0 1 0 12.4 0a6.2 6.2 0 1 0 -12.4 0M275.7 325.9m-6.2 0a6.2 6.2 0 1 0 12.4 0a6.2 6.2 0 1 0 -12.4 0M270.5 332.1m-6.2 0a6.2 6.2 0 1 0 12.4 0a6.2 6.2 0 1 0 -12.4 0M262.6 335.2m-6.2 0a6.2 6.2 0 1 0 12.4 0a6.2 6.2 0 1 0 -12.4 0M254.2 335.7m-6.2 0a6.2 6.2 0 1 0 12.4 0a6.2 6.2 0 1 0 -12.4 0M245.7 335.2m-6.2 0a6.2 6.2 0 1 0 12.4 0a6.2 6.2 0 1 0 -12.4 0M237.5 332.8m-6.2 0a6.2 6.2 0 1 0 12.4 0a6.2 6.2 0 1 0 -12.4 0M229.7 330.5m-6.2 0a6.2 6.2 0 1 0 12.4 0a6.2 6.2 0 1 0 -12.4 0M222.8 335.4m-6.2 0a6.2 6.2 0 1 0 12.4 0a6.2 6.2 0 1 0 -12.4 0M227.0 342.8m-6.2 0a6.2 6.2 0 1 0 12.4 0a6.2 6.2 0 1 0 -12.4 0M231.7 349.3m-6.2 0a6.2 6.2 0 1 0 12.4 0a6.2 6.2 0 1 0 -12.4 0M240.0 351.0m-6.2 0a6.2 6.2 0 1 0 12.4 0a6.2 6.2 0 1 0 -12.4 0M242.7 358.8m-6.2 0a6.2 6.2 0 1 0 12.4 0a6.2 6.2 0 1 0 -12.4 0M243.2 367.2m-6.2 0a6.2 6.2 0 1 0 12.4 0a6.2 6.2 0 1 0 -12.4 0M244.4 374.8m-6.2 0a6.2 6.2 0 1 0 12.4 0a6.2 6.2 0 1 0 -12.4 0M251.4 370.2m-6.2 0a6.2 6.2 0 1 0 12.4 0a6.2 6.2 0 1 0 -12.4 0M259.7 371.0m-6.2 0a6.2 6.2 0 1 0 12.4 0a6.2 6.2 0 1 0 -12.4 0M266.6 375.0m-6.2 0a6.2 6.2 0 1 0 12.4 0a6.2 6.2 0 1 0 -12.4 0M271.0 380.4m-6.2 0a6.2 6.2 0 1 0 12.4 0a6.2 6.2 0 1 0 -12.4 0M279.0 377.7m-6.2 0a6.2 6.2 0 1 0 12.4 0a6.2 6.2 0 1 0 -12.4 0M287.3 375.9m-6.2 0a6.2 6.2 0 1 0 12.4 0a6.2 6.2 0 1 0 -12.4 0M295.4 373.6m-6.2 0a6.2 6.2 0 1 0 12.4 0a6.2 6.2 0 1 0 -12.4 0M405.7 464.9m-6.2 0a6.2 6.2 0 1 0 12.4 0a6.2 6.2 0 1 0 -12.4 0M413.5 463.2m-6.2 0a6.2 6.2 0 1 0 12.4 0a6.2 6.2 0 1 0 -12.4 0M419.0 470.0m-6.2 0a6.2 6.2 0 1 0 12.4 0a6.2 6.2 0 1 0 -12.4 0M416.0 477.9m-6.2 0a6.2 6.2 0 1 0 12.4 0a6.2 6.2 0 1 0 -12.4 0M408.2 480.0m-6.2 0a6.2 6.2 0 1 0 12.4 0a6.2 6.2 0 1 0 -12.4 0M403.0 473.0m-6.2 0a6.2 6.2 0 1 0 12.4 0a6.2 6.2 0 1 0 -12.4 0M412.6 211.7m-6.2 0a6.2 6.2 0 1 0 12.4 0a6.2 6.2 0 1 0 -12.4 0M414.3 219.5m-6.2 0a6.2 6.2 0 1 0 12.4 0a6.2 6.2 0 1 0 -12.4 0M409.9 227.1m-6.2 0a6.2 6.2 0 1 0 12.4 0a6.2 6.2 0 1 0 -12.4 0M404.5 234.0m-6.2 0a6.2 6.2 0 1 0 12.4 0a6.2 6.2 0 1 0 -12.4 0M397.1 238.7m-6.2 0a6.2 6.2 0 1 0 12.4 0a6.2 6.2 0 1 0 -12.4 0M392.3 246.2m-6.2 0a6.2 6.2 0 1 0 12.4 0a6.2 6.2 0 1 0 -12.4 0M387.5 253.6m-6.2 0a6.2 6.2 0 1 0 12.4 0a6.2 6.2 0 1 0 -12.4 0M379.5 253.6m-6.2 0a6.2 6.2 0 1 0 12.4 0a6.2 6.2 0 1 0 -12.4 0M377.5 245.7m-6.2 0a6.2 6.2 0 1 0 12.4 0a6.2 6.2 0 1 0 -12.4 0M382.0 238.1m-6.2 0a6.2 6.2 0 1 0 12.4 0a6.2 6.2 0 1 0 -12.4 0M386.4 230.4m-6.2 0a6.2 6.2 0 1 0 12.4 0a6.2 6.2 0 1 0 -12.4 0M393.3 225.1m-6.2 0a6.2 6.2 0 1 0 12.4 0a6.2 6.2 0 1 0 -12.4 0M399.4 218.9m-6.2 0a6.2 6.2 0 1 0 12.4 0a6.2 6.2 0 1 0 -12.4 0M404.3 211.6m-6.2 0a6.2 6.2 0 1 0 12.4 0a6.2 6.2 0 1 0 -12.4 0" fill="#218f8d"/>
<path d="M248.0 431.7 L250.5 437.6 L253.2 442.4 L254.7 442.1 L259.3 436.7 L259.7 436.2 L260.2 435.9 L260.6 435.5 L269.0 430.5 L269.4 430.4 L275.5 427.2 L276.0 425.4 L274.3 423.6 L270.8 423.4 L265.1 425.6 L258.5 428.1 L258.2 428.2 L257.8 428.3 L250.5 429.8 L248.0 431.7 Z" fill="#218f8d" fill-rule="evenodd"/>
<path d="M248.0 431.7m-6.2 0a6.2 6.2 0 1 0 12.4 0a6.2 6.2 0 1 0 -12.4 0M251.8 439.8m-6.2 0a6.2 6.2 0 1 0 12.4 0a6.2 6.2 0 1 0 -12.4 0M257.6 438.7m-6.2 0a6.2 6.2 0 1 0 12.4 0a6.2 6.2 0 1 0 -12.4 0M264.6 433.2m-6.2 0a6.2 6.2 0 1 0 12.4 0a6.2 6.2 0 1 0 -12.4 0M272.4 428.8m-6.2 0a6.2 6.2 0 1 0 12.4 0a6.2 6.2 0 1 0 -12.4 0M273.2 423.5m-6.2 0a6.2 6.2 0 1 0 12.4 0a6.2 6.2 0 1 0 -12.4 0M264.7 425.7m-6.2 0a6.2 6.2 0 1 0 12.4 0a6.2 6.2 0 1 0 -12.4 0M256.2 428.6m-6.2 0a6.2 6.2 0 1 0 12.4 0a6.2 6.2 0 1 0 -12.4 0" fill="#218f8d"/>
<path d="M299.5 505.6 L299.0 508.6 L297.9 518.0 L297.7 518.6 L294.3 532.2 L293.7 539.8 L301.6 539.8 L306.5 533.9 L307.4 526.5 L306.4 516.7 L302.5 510.8 L302.3 510.5 L299.5 505.6 Z" fill="#218f8d" fill-rule="evenodd"/>
<path d="M299.5 505.6m-6.2 0a6.2 6.2 0 1 0 12.4 0a6.2 6.2 0 1 0 -12.4 0M298.3 514.5m-6.2 0a6.2 6.2 0 1 0 12.4 0a6.2 6.2 0 1 0 -12.4 0M296.6 523.3m-6.2 0a6.2 6.2 0 1 0 12.4 0a6.2 6.2 0 1 0 -12.4 0M294.4 532.0m-6.2 0a6.2 6.2 0 1 0 12.4 0a6.2 6.2 0 1 0 -12.4 0M294.8 539.8m-6.2 0a6.2 6.2 0 1 0 12.4 0a6.2 6.2 0 1 0 -12.4 0M303.0 538.1m-6.2 0a6.2 6.2 0 1 0 12.4 0a6.2 6.2 0 1 0 -12.4 0M306.9 530.5m-6.2 0a6.2 6.2 0 1 0 12.4 0a6.2 6.2 0 1 0 -12.4 0M306.9 521.5m-6.2 0a6.2 6.2 0 1 0 12.4 0a6.2 6.2 0 1 0 -12.4 0M304.2 513.3m-6.2 0a6.2 6.2 0 1 0 12.4 0a6.2 6.2 0 1 0 -12.4 0" fill="#218f8d"/>
<path d="M79.2 473.8 L79.2 542.8 L157.5 542.8 L157.4 540.4 L154.9 538.8 L150.0 536.9 L144.5 537.6 L144.0 537.6 L143.4 537.6 L142.9 537.5 L142.3 537.4 L137.2 535.8 L136.8 535.6 L136.3 535.4 L135.9 535.1 L135.4 534.8 L135.1 534.4 L131.8 531.0 L131.4 530.7 L131.2 530.3 L130.9 529.8 L130.7 529.4 L130.5 528.9 L130.4 528.5 L130.3 528.0 L130.3 527.5 L130.3 527.0 L130.4 526.5 L130.5 526.0 L130.6 525.6 L130.8 525.1 L133.6 519.5 L133.6 516.1 L133.3 515.8 L127.1 515.8 L126.6 515.8 L126.1 515.7 L125.6 515.6 L125.1 515.4 L116.7 512.0 L116.4 511.9 L109.6 508.6 L109.2 508.3 L108.8 508.1 L108.4 507.8 L108.1 507.4 L107.8 507.1 L107.5 506.7 L107.3 506.2 L107.1 505.8 L103.8 497.6 L100.5 491.0 L100.4 490.7 L97.1 482.6 L93.1 475.9 L88.9 473.8 L79.2 473.8 Z" fill="#1f968b" fill-rule="evenodd"/>
<path d="M79.2 473.8m-6.2 0a6.2 6.2 0 1 0 12.4 0a6.2 6.2 0 1 0 -12.4 0M79.2 482.6m-6.2 0a6.2 6.2 0 1 0 12.4 0a6.2 6.2 0 1 0 -12.4 0M79.2 491.3m-6.2 0a6.2 6.2 0 1 0 12.4 0a6.2 6.2 0 1 0 -12.4 0M79.2 500.1m-6.2 0a6.2 6.2 0 1 0 12.4 0a6.2 6.2 0 1 0 -12.4 0M79.2 508.8m-6.2 0a6.2 6.2 0 1 0 12.4 0a6.2 6.2 0 1 0 -12.4 0M79.2 517.6m-6.2 0a6.2 6.2 0 1 0 12.4 0a6.2 6.2 0 1 0 -12.4 0M79.2 526.3m-6.2 0a6.2 6.2 0 1 0 12.4 0a6.2 6.2 0 1 0 -12.4 0M79.2 535.1m-6.2 0a6.2 6.2 0 1 0 12.4 0a6.2 6.2 0 1 0 -12.4 0M80.2 542.8m-6.2 0a6.2 6.2 0 1 0 12.4 0a6.2 6.2 0 1 0 -12.4 0M89.0 542.8m-6.2 0a6.2 6.2 0 1 0 12.4 0a6.2 6.2 0 1 0 -12.4 0M97.7 542.8m-6.2 0a6.2 6.2 0 1 0 12.4 0a6.2 6.2 0 1 0 -12.4 0M106.5 542.8m-6.2 0a6.2 6.2 0 1 0 12.4 0a6.2 6.2 0 1 0 -12.4 0M115.2 542.8m-6.2 0a6.2 6.2 0 1 0 12.4 0a6.2 6.2 0 1 0 -12.4 0M124.0 542.8m-6.2 0a6.2 6.2 0 1 0 12.4 0a6.2 6.2 0 1 0 -12.4 0M132.7 542.8m-6.2 0a6.2 6.2 0 1 0 12.4 0a6.2 6.2 0 1 0 -12.4 0M141.5 542.8m-6.2 0a6.2 6.2 0 1 0 12.4 0a6.2 6.2 0 1 0 -12.4 0M150.2 542.8m-6.2 0a6.2 6.2 0 1 0 12.4 0a6.2 6.2 0 1 0 -12.4 0M157.4 541.3m-6.2 0a6.2 6.2 0 1 0 12.4 0a6.2 6.2 0 1 0 -12.4 0M150.4 537.1m-6.2 0a6.2 6.2 0 1 0 12.4 0a6.2 6.2 0 1 0 -12.4 0M141.7 537.2m-6.2 0a6.2 6.2 0 1 0 12.4 0a6.2 6.2 0 1 0 -12.4 0M134.0 533.4m-6.2 0a6.2 6.2 0 1 0 12.4 0a6.2 6.2 0 1 0 -12.4 0M130.5 525.9m-6.2 0a6.2 6.2 0 1 0 12.4 0a6.2 6.2 0 1 0 -12.4 0M133.6 517.9m-6.2 0a6.2 6.2 0 1 0 12.4 0a6.2 6.2 0 1 0 -12.4 0M126.8 515.8m-6.2 0a6.2 6.2 0 1 0 12.4 0a6.2 6.2 0 1 0 -12.4 0M118.6 512.8m-6.2 0a6.2 6.2 0 1 0 12.4 0a6.2 6.2 0 1 0 -12.4 0M110.7 509.1m-6.2 0a6.2 6.2 0 1 0 12.4 0a6.2 6.2 0 1 0 -12.4 0M105.7 502.3m-6.2 0a6.2 6.2 0 1 0 12.4 0a6.2 6.2 0 1 0 -12.4 0M102.2 494.3m-6.2 0a6.2 6.2 0 1 0 12.4 0a6.2 6.2 0 1 0 -12.4 0M98.6 486.3m-6.2 0a6.2 6.2 0 1 0 12.4 0a6.2 6.2 0 1 0 -12.4 0M94.7 478.5m-6.2 0a6.2 6.2 0 1 0 12.4 0a6.2 6.2 0 1 0 -12.4 0M88.0 473.8m-6.2 0a6.2 6.2 0 1 0 12.4 0a6.2 6.2 0 1 0 -12.4 0" fill="#1f968b"/>
<circle cx="306.0" cy="415.0" r="6.2" fill="#218f8d"/>
<circle cx="312.0" cy="410.0" r="6.2" fill="#218f8d"/>
<circle cx="318.0" cy="408.0" r="6.2" fill="#218f8d"/>
<circle cx="324.0" cy="407.0" r="6.2" fill="#218f8d"/>
<circle cx="331.0" cy="407.0" r="6.2" fill="#218f8d"/>
<circle cx="336.0" cy="409.5" r="6.2" fill="#218f8d"/>
<circle cx="420.3" cy="535.3" r="6.2" fill="#218f8d"/>
<circle cx="357.5" cy="502.0" r="6.2" fill="#218f8d"/>
<circle cx="249.5" cy="408.3" r="6.2" fill="#25a386"/>
<circle cx="256.5" cy="369.2" r="6.2" fill="#3fbc73"/>
<circle cx="312.4" cy="429.3" r="6.2" fill="#218f8d"/>
<circle cx="316.5" cy="432.5" r="6.2" fill="#218f8d"/>
<circle cx="320.7" cy="435.2" r="6.2" fill="#218f8d"/>
<circle cx="327.7" cy="477.4" r="6.2" fill="#25a085"/>
<circle cx="305.4" cy="527.9" r="6.2" fill="#25a085"/>
<circle cx="236.6" cy="318.2" r="6.2" fill="#218f8d"/>
<circle cx="249.9" cy="324.0" r="6.2" fill="#218f8d"/>
<circle cx="87.0" cy="370.3" r="6.2" fill="#3dba7a"/>
<circle cx="93.6" cy="378.3" r="6.2" fill="#b5de2b"/>
<circle cx="88.6" cy="386.8" r="6.2" fill="#7ad151"/>
<circle cx="85.8" cy="404.2" r="6.2" fill="#5ec962"/>
<circle cx="84.0" cy="474.8" r="6.2" fill="#7ad151"/>
<circle cx="136.6" cy="513.9" r="6.2" fill="#5ec962"/>
<circle cx="132.6" cy="533.4" r="6.2" fill="#3dbc74"/>
<circle cx="156.8" cy="536.8" r="6.2" fill="#7ad151"/>
<circle cx="95.0" cy="509.9" r="6.2" fill="#f5e626"/>
<path d="M175.88 48.1 V540.4 M270.85 48.1 V540.4 M365.83 48.1 V540.4 M460.80 48.1 V540.4 M80.90 48.1 V540.4 M80.9 445.54 H460.8 M80.9 350.68 H460.8 M80.9 255.82 H460.8 M80.9 160.96 H460.8 M80.9 66.10 H460.8 M80.9 540.40 H460.8" stroke="#888" stroke-width="1.8" stroke-dasharray="2 1.88" fill="none"/></g>
<rect x="80.9" y="48.1" width="379.9" height="492.3" fill="none" stroke="#000" stroke-width="1.7"/>
<path d="M80.90 540.4 v3.6 M175.88 540.4 v3.6 M270.85 540.4 v3.6 M365.83 540.4 v3.6 M460.80 540.4 v3.6 M80.9 540.40 h-3.6 M80.9 445.54 h-3.6 M80.9 350.68 h-3.6 M80.9 255.82 h-3.6 M80.9 160.96 h-3.6 M80.9 66.10 h-3.6" stroke="#000" stroke-width="1.4" fill="none"/>
<text transform="translate(81.0 563.3) scale(0.9 1)" class="tk" text-anchor="middle">95°E</text>
<text transform="translate(176.0 563.3) scale(0.9 1)" class="tk" text-anchor="middle">105°E</text>
<text transform="translate(271.0 563.3) scale(0.9 1)" class="tk" text-anchor="middle">115°E</text>
<text transform="translate(365.9 563.3) scale(0.9 1)" class="tk" text-anchor="middle">125°E</text>
<text transform="translate(460.9 563.3) scale(0.9 1)" class="tk" text-anchor="middle">135°E</text>
<text transform="translate(70.4 547.3) scale(0.915 1)" class="tk" text-anchor="end">5°S</text>
<text transform="translate(70.4 452.4) scale(0.915 1)" class="tk" text-anchor="end">5°N</text>
<text transform="translate(70.4 357.6) scale(0.915 1)" class="tk" text-anchor="end">15°N</text>
<text transform="translate(70.4 262.7) scale(0.915 1)" class="tk" text-anchor="end">25°N</text>
<text transform="translate(70.4 167.9) scale(0.915 1)" class="tk" text-anchor="end">35°N</text>
<text transform="translate(70.4 73.0) scale(0.915 1)" class="tk" text-anchor="end">45°N</text>
<text transform="translate(270.9 594) scale(0.945 1)" class="al" text-anchor="middle">Longitude</text>
<text transform="translate(21.6 294.2) rotate(-90) scale(0.975 1)" class="al" text-anchor="middle">Latitude</text>
<rect x="490.6" y="48.1" width="24.9" height="492.3" fill="url(#vir)" stroke="#000" stroke-width="1.6"/>
<text x="528.3" y="54.6" class="cb">0.10</text>
<text x="528.3" y="136.7" class="cb">0.09</text>
<text x="528.3" y="218.7" class="cb">0.08</text>
<text x="528.3" y="300.8" class="cb">0.07</text>
<text x="528.3" y="382.8" class="cb">0.06</text>
<text x="528.3" y="464.9" class="cb">0.05</text>
<text x="528.3" y="546.9" class="cb">0.04</text>
<path d="M515.5 48.10 h6.4 M515.5 130.15 h6.4 M515.5 212.20 h6.4 M515.5 294.25 h6.4 M515.5 376.30 h6.4 M515.5 458.35 h6.4 M515.5 540.40 h6.4" stroke="#000" stroke-width="1.8" fill="none"/>
</g>
</svg>
</body></html>
